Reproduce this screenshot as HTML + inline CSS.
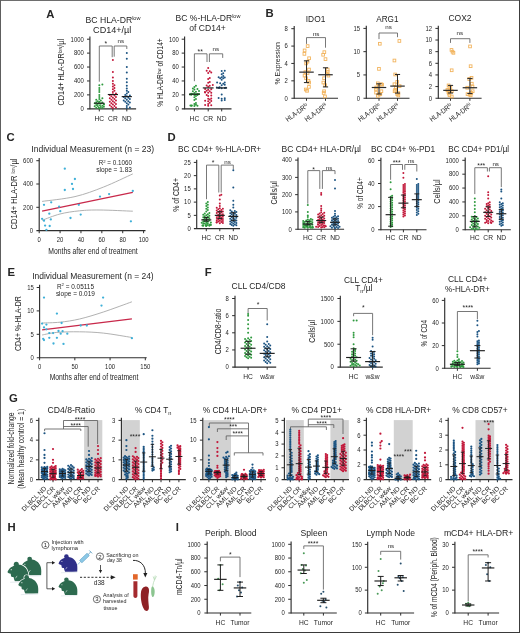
<!DOCTYPE html>
<html><head><meta charset="utf-8"><style>
html,body{margin:0;padding:0;background:#fff;width:520px;height:633px;overflow:hidden}
svg{display:block;will-change:transform}
text{font-family:"Liberation Sans", sans-serif;fill:#262626}
text.b{stroke-width:0.3px;fill:#111;stroke:#111}
</style></head><body>
<svg width="520" height="633" viewBox="0 0 520 633">
<rect x="0.00" y="0.00" width="520.00" height="1.00" fill="#6e6e6e"/>
<rect x="0.00" y="0.00" width="1.00" height="633.00" fill="#5e5e5e"/>
<rect x="519.00" y="0.00" width="1.00" height="633.00" fill="#3c3c3c"/>
<rect x="0.00" y="632.00" width="520.00" height="1.00" fill="#3a3a3a"/>
<text x="46.20" y="17.90" font-size="11.3" font-weight="bold" fill="#111">A</text>
<text x="265.60" y="16.80" font-size="11.3" font-weight="bold" fill="#111">B</text>
<text x="6.50" y="141.40" font-size="11.3" font-weight="bold" fill="#111">C</text>
<text x="167.40" y="140.90" font-size="11.3" font-weight="bold" fill="#111">D</text>
<text x="7.40" y="276.10" font-size="11.3" font-weight="bold" fill="#111">E</text>
<text x="204.80" y="276.10" font-size="11.3" font-weight="bold" fill="#111">F</text>
<text x="9.10" y="401.90" font-size="11.3" font-weight="bold" fill="#111">G</text>
<text x="7.40" y="531.20" font-size="11.3" font-weight="bold" fill="#111">H</text>
<text x="175.80" y="531.20" font-size="11.3" font-weight="bold" fill="#111">I</text>
<text x="85.50" y="22.70" font-size="8.7" textLength="55.0" lengthAdjust="spacingAndGlyphs">BC HLA-DR<tspan dy="-3" font-size="5.6">low</tspan></text>
<text x="93.10" y="32.50" font-size="8.7" textLength="38.2" lengthAdjust="spacingAndGlyphs">CD14+/µl</text>
<text x="99.30" y="120.60" font-size="6.7" text-anchor="middle">HC</text>
<text x="112.90" y="120.60" font-size="6.7" text-anchor="middle">CR</text>
<text x="126.80" y="120.60" font-size="6.7" text-anchor="middle">ND</text>
<text x="64.00" y="72.20" font-size="8.4" text-anchor="middle" transform="rotate(-90 64.00 72.20)" textLength="66.5" lengthAdjust="spacingAndGlyphs">CD14+ HLA-DR<tspan dy="-2.4" font-size="5.0">low</tspan><tspan dy="2.4">/µl</tspan></text>
<polyline points="99.30,81.70 99.30,46.00 112.20,46.00 112.20,57.20" fill="none" stroke="#606060" stroke-width="0.85"/>
<polyline points="114.20,56.70 114.20,46.00 126.80,46.00 126.80,49.00" fill="none" stroke="#606060" stroke-width="0.85"/>
<text x="105.90" y="45.50" font-size="6.8" text-anchor="middle">*</text>
<text x="120.80" y="42.90" font-size="6.2" text-anchor="middle">ns</text>
<line x1="89.90" y1="36.50" x2="89.90" y2="109.30" stroke="#2e2e2e" stroke-width="1.15"/>
<line x1="87.10" y1="108.80" x2="136.10" y2="108.80" stroke="#2e2e2e" stroke-width="1.15"/>
<text x="83.80" y="111.10" font-size="6.4" text-anchor="end" textLength="3.3" lengthAdjust="spacingAndGlyphs">0</text>
<line x1="87.00" y1="94.88" x2="89.90" y2="94.88" stroke="#2e2e2e" stroke-width="1.0"/>
<text x="83.80" y="97.18" font-size="6.4" text-anchor="end" textLength="9.9" lengthAdjust="spacingAndGlyphs">200</text>
<line x1="87.00" y1="80.96" x2="89.90" y2="80.96" stroke="#2e2e2e" stroke-width="1.0"/>
<text x="83.80" y="83.26" font-size="6.4" text-anchor="end" textLength="9.9" lengthAdjust="spacingAndGlyphs">400</text>
<line x1="87.00" y1="67.04" x2="89.90" y2="67.04" stroke="#2e2e2e" stroke-width="1.0"/>
<text x="83.80" y="69.34" font-size="6.4" text-anchor="end" textLength="9.9" lengthAdjust="spacingAndGlyphs">600</text>
<line x1="87.00" y1="53.12" x2="89.90" y2="53.12" stroke="#2e2e2e" stroke-width="1.0"/>
<text x="83.80" y="55.42" font-size="6.4" text-anchor="end" textLength="9.9" lengthAdjust="spacingAndGlyphs">800</text>
<line x1="87.00" y1="39.20" x2="89.90" y2="39.20" stroke="#2e2e2e" stroke-width="1.0"/>
<text x="83.80" y="41.50" font-size="6.4" text-anchor="end" textLength="13.2" lengthAdjust="spacingAndGlyphs">1000</text>
<line x1="99.30" y1="108.80" x2="99.30" y2="111.40" stroke="#2e2e2e" stroke-width="1.0"/>
<line x1="112.90" y1="108.80" x2="112.90" y2="111.40" stroke="#2e2e2e" stroke-width="1.0"/>
<line x1="126.80" y1="108.80" x2="126.80" y2="111.40" stroke="#2e2e2e" stroke-width="1.0"/>
<circle cx="99.30" cy="108.45" r="1.0" fill="#2e9a3e"/>
<circle cx="102.36" cy="108.10" r="1.0" fill="#2e9a3e"/>
<circle cx="96.24" cy="107.76" r="1.0" fill="#2e9a3e"/>
<circle cx="98.78" cy="107.41" r="1.0" fill="#2e9a3e"/>
<circle cx="100.83" cy="107.06" r="1.0" fill="#2e9a3e"/>
<circle cx="103.89" cy="106.71" r="1.0" fill="#2e9a3e"/>
<circle cx="94.71" cy="106.36" r="1.0" fill="#2e9a3e"/>
<circle cx="97.77" cy="106.02" r="1.0" fill="#2e9a3e"/>
<circle cx="102.36" cy="105.67" r="1.0" fill="#2e9a3e"/>
<circle cx="99.96" cy="105.32" r="1.0" fill="#2e9a3e"/>
<circle cx="96.24" cy="104.97" r="1.0" fill="#2e9a3e"/>
<circle cx="103.89" cy="104.62" r="1.0" fill="#2e9a3e"/>
<circle cx="103.97" cy="104.28" r="1.0" fill="#2e9a3e"/>
<circle cx="97.77" cy="103.93" r="1.0" fill="#2e9a3e"/>
<circle cx="100.83" cy="103.58" r="1.0" fill="#2e9a3e"/>
<circle cx="94.71" cy="103.23" r="1.0" fill="#2e9a3e"/>
<circle cx="98.92" cy="102.88" r="1.0" fill="#2e9a3e"/>
<circle cx="102.36" cy="102.54" r="1.0" fill="#2e9a3e"/>
<circle cx="96.24" cy="102.19" r="1.0" fill="#2e9a3e"/>
<circle cx="99.39" cy="101.84" r="1.0" fill="#2e9a3e"/>
<circle cx="97.77" cy="101.14" r="1.0" fill="#2e9a3e"/>
<circle cx="100.83" cy="100.45" r="1.0" fill="#2e9a3e"/>
<circle cx="96.24" cy="99.75" r="1.0" fill="#2e9a3e"/>
<circle cx="99.30" cy="99.06" r="1.0" fill="#2e9a3e"/>
<circle cx="102.36" cy="98.36" r="1.0" fill="#2e9a3e"/>
<circle cx="99.30" cy="96.97" r="1.0" fill="#2e9a3e"/>
<circle cx="99.30" cy="94.88" r="1.0" fill="#2e9a3e"/>
<circle cx="99.30" cy="92.10" r="1.0" fill="#2e9a3e"/>
<circle cx="99.30" cy="90.01" r="1.0" fill="#2e9a3e"/>
<circle cx="99.30" cy="87.92" r="1.0" fill="#2e9a3e"/>
<circle cx="99.30" cy="85.14" r="1.0" fill="#2e9a3e"/>
<circle cx="102.36" cy="84.44" r="1.0" fill="#2e9a3e"/>
<circle cx="112.90" cy="108.10" r="1.0" fill="#c2183a"/>
<circle cx="115.96" cy="107.41" r="1.0" fill="#c2183a"/>
<circle cx="111.37" cy="106.71" r="1.0" fill="#c2183a"/>
<circle cx="114.43" cy="106.02" r="1.0" fill="#c2183a"/>
<circle cx="109.84" cy="105.32" r="1.0" fill="#c2183a"/>
<circle cx="112.90" cy="104.62" r="1.0" fill="#c2183a"/>
<circle cx="115.96" cy="103.93" r="1.0" fill="#c2183a"/>
<circle cx="111.37" cy="103.23" r="1.0" fill="#c2183a"/>
<circle cx="114.43" cy="102.54" r="1.0" fill="#c2183a"/>
<circle cx="109.84" cy="101.84" r="1.0" fill="#c2183a"/>
<circle cx="112.90" cy="101.14" r="1.0" fill="#c2183a"/>
<circle cx="115.96" cy="100.45" r="1.0" fill="#c2183a"/>
<circle cx="111.37" cy="99.75" r="1.0" fill="#c2183a"/>
<circle cx="114.43" cy="99.06" r="1.0" fill="#c2183a"/>
<circle cx="109.84" cy="98.36" r="1.0" fill="#c2183a"/>
<circle cx="112.90" cy="97.66" r="1.0" fill="#c2183a"/>
<circle cx="115.96" cy="96.97" r="1.0" fill="#c2183a"/>
<circle cx="111.37" cy="96.27" r="1.0" fill="#c2183a"/>
<circle cx="114.43" cy="95.58" r="1.0" fill="#c2183a"/>
<circle cx="109.84" cy="94.88" r="1.0" fill="#c2183a"/>
<circle cx="112.90" cy="94.18" r="1.0" fill="#c2183a"/>
<circle cx="115.96" cy="93.49" r="1.0" fill="#c2183a"/>
<circle cx="112.90" cy="92.10" r="1.0" fill="#c2183a"/>
<circle cx="114.43" cy="90.70" r="1.0" fill="#c2183a"/>
<circle cx="112.90" cy="89.31" r="1.0" fill="#c2183a"/>
<circle cx="114.43" cy="87.92" r="1.0" fill="#c2183a"/>
<circle cx="112.90" cy="86.53" r="1.0" fill="#c2183a"/>
<circle cx="114.43" cy="85.14" r="1.0" fill="#c2183a"/>
<circle cx="112.90" cy="83.74" r="1.0" fill="#c2183a"/>
<circle cx="112.90" cy="80.96" r="1.0" fill="#c2183a"/>
<circle cx="112.90" cy="77.48" r="1.0" fill="#c2183a"/>
<circle cx="112.90" cy="71.91" r="1.0" fill="#c2183a"/>
<circle cx="112.90" cy="60.08" r="1.0" fill="#c2183a"/>
<circle cx="126.80" cy="108.10" r="1.0" fill="#1c5482"/>
<circle cx="129.86" cy="107.41" r="1.0" fill="#1c5482"/>
<circle cx="126.80" cy="106.02" r="1.0" fill="#1c5482"/>
<circle cx="128.33" cy="104.62" r="1.0" fill="#1c5482"/>
<circle cx="126.80" cy="103.23" r="1.0" fill="#1c5482"/>
<circle cx="129.86" cy="102.54" r="1.0" fill="#1c5482"/>
<circle cx="125.27" cy="101.84" r="1.0" fill="#1c5482"/>
<circle cx="128.33" cy="101.14" r="1.0" fill="#1c5482"/>
<circle cx="123.74" cy="100.45" r="1.0" fill="#1c5482"/>
<circle cx="126.80" cy="99.75" r="1.0" fill="#1c5482"/>
<circle cx="129.86" cy="99.06" r="1.0" fill="#1c5482"/>
<circle cx="125.27" cy="98.36" r="1.0" fill="#1c5482"/>
<circle cx="128.33" cy="97.66" r="1.0" fill="#1c5482"/>
<circle cx="123.74" cy="96.97" r="1.0" fill="#1c5482"/>
<circle cx="126.80" cy="96.27" r="1.0" fill="#1c5482"/>
<circle cx="129.86" cy="95.58" r="1.0" fill="#1c5482"/>
<circle cx="125.27" cy="94.88" r="1.0" fill="#1c5482"/>
<circle cx="126.80" cy="93.49" r="1.0" fill="#1c5482"/>
<circle cx="128.33" cy="92.10" r="1.0" fill="#1c5482"/>
<circle cx="126.80" cy="90.70" r="1.0" fill="#1c5482"/>
<circle cx="126.80" cy="88.62" r="1.0" fill="#1c5482"/>
<circle cx="126.80" cy="85.83" r="1.0" fill="#1c5482"/>
<circle cx="126.80" cy="82.35" r="1.0" fill="#1c5482"/>
<circle cx="126.80" cy="78.87" r="1.0" fill="#1c5482"/>
<circle cx="126.80" cy="72.61" r="1.0" fill="#1c5482"/>
<circle cx="126.80" cy="67.04" r="1.0" fill="#1c5482"/>
<circle cx="126.80" cy="58.69" r="1.0" fill="#1c5482"/>
<circle cx="126.80" cy="53.12" r="1.0" fill="#1c5482"/>
<line x1="94.20" y1="103.23" x2="104.40" y2="103.23" stroke="#1a1a1a" stroke-width="1.15"/>
<line x1="107.80" y1="94.53" x2="118.00" y2="94.53" stroke="#1a1a1a" stroke-width="1.15"/>
<line x1="121.70" y1="96.62" x2="131.90" y2="96.62" stroke="#1a1a1a" stroke-width="1.15"/>
<text x="175.60" y="21.30" font-size="8.7" textLength="64.8" lengthAdjust="spacingAndGlyphs">BC %-HLA-DR<tspan dy="-3" font-size="5.6">low</tspan></text>
<text x="189.30" y="31.20" font-size="8.7" textLength="36.5" lengthAdjust="spacingAndGlyphs">of CD14+</text>
<text x="194.40" y="120.50" font-size="6.7" text-anchor="middle">HC</text>
<text x="208.20" y="120.50" font-size="6.7" text-anchor="middle">CR</text>
<text x="221.70" y="120.50" font-size="6.7" text-anchor="middle">ND</text>
<text x="163.00" y="72.50" font-size="8.4" text-anchor="middle" transform="rotate(-90 163.00 72.50)" textLength="68.5" lengthAdjust="spacingAndGlyphs">% HLA-DR<tspan dy="-2.4" font-size="5.0">low</tspan><tspan dy="2.4"> of CD14+</tspan></text>
<polyline points="194.40,81.20 194.40,53.80 207.00,53.80 207.00,62.00" fill="none" stroke="#606060" stroke-width="0.85"/>
<polyline points="209.40,62.00 209.40,53.80 222.70,53.80 222.70,57.90" fill="none" stroke="#606060" stroke-width="0.85"/>
<text x="200.20" y="53.90" font-size="6.8" text-anchor="middle">**</text>
<text x="215.80" y="51.00" font-size="6.2" text-anchor="middle">ns</text>
<line x1="184.60" y1="36.50" x2="184.60" y2="109.30" stroke="#2e2e2e" stroke-width="1.15"/>
<line x1="181.80" y1="108.80" x2="231.50" y2="108.80" stroke="#2e2e2e" stroke-width="1.15"/>
<text x="178.80" y="111.10" font-size="6.4" text-anchor="end" textLength="3.3" lengthAdjust="spacingAndGlyphs">0</text>
<line x1="181.70" y1="94.88" x2="184.60" y2="94.88" stroke="#2e2e2e" stroke-width="1.0"/>
<text x="178.80" y="97.18" font-size="6.4" text-anchor="end" textLength="6.6" lengthAdjust="spacingAndGlyphs">20</text>
<line x1="181.70" y1="80.96" x2="184.60" y2="80.96" stroke="#2e2e2e" stroke-width="1.0"/>
<text x="178.80" y="83.26" font-size="6.4" text-anchor="end" textLength="6.6" lengthAdjust="spacingAndGlyphs">40</text>
<line x1="181.70" y1="67.04" x2="184.60" y2="67.04" stroke="#2e2e2e" stroke-width="1.0"/>
<text x="178.80" y="69.34" font-size="6.4" text-anchor="end" textLength="6.6" lengthAdjust="spacingAndGlyphs">60</text>
<line x1="181.70" y1="53.12" x2="184.60" y2="53.12" stroke="#2e2e2e" stroke-width="1.0"/>
<text x="178.80" y="55.42" font-size="6.4" text-anchor="end" textLength="6.6" lengthAdjust="spacingAndGlyphs">80</text>
<line x1="181.70" y1="39.20" x2="184.60" y2="39.20" stroke="#2e2e2e" stroke-width="1.0"/>
<text x="178.80" y="41.50" font-size="6.4" text-anchor="end" textLength="9.9" lengthAdjust="spacingAndGlyphs">100</text>
<line x1="194.40" y1="108.80" x2="194.40" y2="111.40" stroke="#2e2e2e" stroke-width="1.0"/>
<line x1="208.20" y1="108.80" x2="208.20" y2="111.40" stroke="#2e2e2e" stroke-width="1.0"/>
<line x1="221.70" y1="108.80" x2="221.70" y2="111.40" stroke="#2e2e2e" stroke-width="1.0"/>
<circle cx="194.40" cy="105.99" r="1.0" fill="#2e9a3e"/>
<circle cx="197.46" cy="105.78" r="1.0" fill="#2e9a3e"/>
<circle cx="191.34" cy="105.76" r="1.0" fill="#2e9a3e"/>
<circle cx="191.86" cy="105.55" r="1.0" fill="#2e9a3e"/>
<circle cx="190.41" cy="105.47" r="1.0" fill="#2e9a3e"/>
<circle cx="195.93" cy="104.85" r="1.0" fill="#2e9a3e"/>
<circle cx="194.40" cy="104.04" r="1.0" fill="#2e9a3e"/>
<circle cx="195.93" cy="103.01" r="1.0" fill="#2e9a3e"/>
<circle cx="194.40" cy="100.05" r="1.0" fill="#2e9a3e"/>
<circle cx="195.93" cy="98.99" r="1.0" fill="#2e9a3e"/>
<circle cx="194.40" cy="97.20" r="1.0" fill="#2e9a3e"/>
<circle cx="195.93" cy="96.09" r="1.0" fill="#2e9a3e"/>
<circle cx="194.40" cy="95.03" r="1.0" fill="#2e9a3e"/>
<circle cx="197.46" cy="94.99" r="1.0" fill="#2e9a3e"/>
<circle cx="191.34" cy="94.85" r="1.0" fill="#2e9a3e"/>
<circle cx="190.00" cy="94.43" r="1.0" fill="#2e9a3e"/>
<circle cx="195.93" cy="94.18" r="1.0" fill="#2e9a3e"/>
<circle cx="192.87" cy="94.07" r="1.0" fill="#2e9a3e"/>
<circle cx="198.99" cy="94.01" r="1.0" fill="#2e9a3e"/>
<circle cx="197.37" cy="93.88" r="1.0" fill="#2e9a3e"/>
<circle cx="191.18" cy="93.77" r="1.0" fill="#2e9a3e"/>
<circle cx="194.40" cy="92.98" r="1.0" fill="#2e9a3e"/>
<circle cx="195.93" cy="91.67" r="1.0" fill="#2e9a3e"/>
<circle cx="192.87" cy="91.19" r="1.0" fill="#2e9a3e"/>
<circle cx="198.99" cy="90.95" r="1.0" fill="#2e9a3e"/>
<circle cx="194.40" cy="89.45" r="1.0" fill="#2e9a3e"/>
<circle cx="197.46" cy="89.08" r="1.0" fill="#2e9a3e"/>
<circle cx="192.87" cy="88.45" r="1.0" fill="#2e9a3e"/>
<circle cx="194.40" cy="86.98" r="1.0" fill="#2e9a3e"/>
<circle cx="195.93" cy="85.80" r="1.0" fill="#2e9a3e"/>
<circle cx="208.20" cy="105.82" r="1.0" fill="#c2183a"/>
<circle cx="211.26" cy="105.34" r="1.0" fill="#c2183a"/>
<circle cx="205.14" cy="105.11" r="1.0" fill="#c2183a"/>
<circle cx="208.20" cy="103.93" r="1.0" fill="#c2183a"/>
<circle cx="209.73" cy="102.83" r="1.0" fill="#c2183a"/>
<circle cx="208.20" cy="101.16" r="1.0" fill="#c2183a"/>
<circle cx="211.26" cy="100.96" r="1.0" fill="#c2183a"/>
<circle cx="205.14" cy="100.67" r="1.0" fill="#c2183a"/>
<circle cx="209.73" cy="99.57" r="1.0" fill="#c2183a"/>
<circle cx="208.20" cy="98.80" r="1.0" fill="#c2183a"/>
<circle cx="211.26" cy="98.47" r="1.0" fill="#c2183a"/>
<circle cx="208.20" cy="96.12" r="1.0" fill="#c2183a"/>
<circle cx="211.26" cy="95.53" r="1.0" fill="#c2183a"/>
<circle cx="206.67" cy="95.05" r="1.0" fill="#c2183a"/>
<circle cx="208.20" cy="92.80" r="1.0" fill="#c2183a"/>
<circle cx="211.26" cy="92.79" r="1.0" fill="#c2183a"/>
<circle cx="205.14" cy="92.59" r="1.0" fill="#c2183a"/>
<circle cx="204.96" cy="92.05" r="1.0" fill="#c2183a"/>
<circle cx="209.73" cy="91.35" r="1.0" fill="#c2183a"/>
<circle cx="206.67" cy="90.71" r="1.0" fill="#c2183a"/>
<circle cx="208.20" cy="89.80" r="1.0" fill="#c2183a"/>
<circle cx="211.26" cy="89.25" r="1.0" fill="#c2183a"/>
<circle cx="205.14" cy="89.01" r="1.0" fill="#c2183a"/>
<circle cx="208.20" cy="86.65" r="1.0" fill="#c2183a"/>
<circle cx="209.73" cy="85.66" r="1.0" fill="#c2183a"/>
<circle cx="206.67" cy="85.47" r="1.0" fill="#c2183a"/>
<circle cx="212.79" cy="84.91" r="1.0" fill="#c2183a"/>
<circle cx="208.20" cy="82.68" r="1.0" fill="#c2183a"/>
<circle cx="209.73" cy="81.89" r="1.0" fill="#c2183a"/>
<circle cx="208.20" cy="78.95" r="1.0" fill="#c2183a"/>
<circle cx="209.73" cy="77.89" r="1.0" fill="#c2183a"/>
<circle cx="208.20" cy="72.90" r="1.0" fill="#c2183a"/>
<circle cx="211.26" cy="72.41" r="1.0" fill="#c2183a"/>
<circle cx="209.73" cy="71.21" r="1.0" fill="#c2183a"/>
<circle cx="206.67" cy="70.71" r="1.0" fill="#c2183a"/>
<circle cx="208.20" cy="67.98" r="1.0" fill="#c2183a"/>
<circle cx="221.70" cy="100.58" r="1.0" fill="#1c5482"/>
<circle cx="224.76" cy="100.01" r="1.0" fill="#1c5482"/>
<circle cx="221.70" cy="98.70" r="1.0" fill="#1c5482"/>
<circle cx="224.76" cy="98.19" r="1.0" fill="#1c5482"/>
<circle cx="218.64" cy="98.03" r="1.0" fill="#1c5482"/>
<circle cx="221.70" cy="94.62" r="1.0" fill="#1c5482"/>
<circle cx="221.70" cy="88.37" r="1.0" fill="#1c5482"/>
<circle cx="224.76" cy="87.89" r="1.0" fill="#1c5482"/>
<circle cx="218.64" cy="87.86" r="1.0" fill="#1c5482"/>
<circle cx="225.90" cy="87.66" r="1.0" fill="#1c5482"/>
<circle cx="219.26" cy="87.63" r="1.0" fill="#1c5482"/>
<circle cx="216.81" cy="87.61" r="1.0" fill="#1c5482"/>
<circle cx="219.71" cy="87.20" r="1.0" fill="#1c5482"/>
<circle cx="221.70" cy="85.19" r="1.0" fill="#1c5482"/>
<circle cx="224.76" cy="84.72" r="1.0" fill="#1c5482"/>
<circle cx="223.23" cy="83.70" r="1.0" fill="#1c5482"/>
<circle cx="220.17" cy="83.31" r="1.0" fill="#1c5482"/>
<circle cx="224.76" cy="82.60" r="1.0" fill="#1c5482"/>
<circle cx="217.11" cy="82.58" r="1.0" fill="#1c5482"/>
<circle cx="221.70" cy="79.79" r="1.0" fill="#1c5482"/>
<circle cx="223.23" cy="78.35" r="1.0" fill="#1c5482"/>
<circle cx="220.17" cy="78.13" r="1.0" fill="#1c5482"/>
<circle cx="224.76" cy="77.51" r="1.0" fill="#1c5482"/>
<circle cx="221.70" cy="77.31" r="1.0" fill="#1c5482"/>
<circle cx="218.64" cy="77.30" r="1.0" fill="#1c5482"/>
<circle cx="223.23" cy="75.96" r="1.0" fill="#1c5482"/>
<circle cx="221.70" cy="74.20" r="1.0" fill="#1c5482"/>
<circle cx="223.23" cy="73.23" r="1.0" fill="#1c5482"/>
<circle cx="221.70" cy="71.07" r="1.0" fill="#1c5482"/>
<circle cx="224.76" cy="70.71" r="1.0" fill="#1c5482"/>
<line x1="189.00" y1="94.18" x2="199.80" y2="94.18" stroke="#1a1a1a" stroke-width="1.15"/>
<line x1="202.80" y1="87.92" x2="213.60" y2="87.92" stroke="#1a1a1a" stroke-width="1.15"/>
<line x1="216.30" y1="87.92" x2="227.10" y2="87.92" stroke="#1a1a1a" stroke-width="1.15"/>
<text x="305.80" y="21.70" font-size="8.7" textLength="19.5" lengthAdjust="spacingAndGlyphs">IDO1</text>
<polyline points="306.50,43.90 306.50,37.60 325.50,37.60 325.50,47.70" fill="none" stroke="#606060" stroke-width="0.85"/>
<text x="316.20" y="35.50" font-size="6.2" text-anchor="middle">ns</text>
<line x1="294.20" y1="26.00" x2="294.20" y2="98.70" stroke="#2e2e2e" stroke-width="1.15"/>
<line x1="291.40" y1="98.20" x2="338.00" y2="98.20" stroke="#2e2e2e" stroke-width="1.15"/>
<text x="287.80" y="100.50" font-size="6.4" text-anchor="end" textLength="3.3" lengthAdjust="spacingAndGlyphs">0</text>
<line x1="291.30" y1="80.83" x2="294.20" y2="80.83" stroke="#2e2e2e" stroke-width="1.0"/>
<text x="287.80" y="83.13" font-size="6.4" text-anchor="end" textLength="3.3" lengthAdjust="spacingAndGlyphs">2</text>
<line x1="291.30" y1="63.45" x2="294.20" y2="63.45" stroke="#2e2e2e" stroke-width="1.0"/>
<text x="287.80" y="65.75" font-size="6.4" text-anchor="end" textLength="3.3" lengthAdjust="spacingAndGlyphs">4</text>
<line x1="291.30" y1="46.08" x2="294.20" y2="46.08" stroke="#2e2e2e" stroke-width="1.0"/>
<text x="287.80" y="48.38" font-size="6.4" text-anchor="end" textLength="3.3" lengthAdjust="spacingAndGlyphs">6</text>
<line x1="291.30" y1="28.70" x2="294.20" y2="28.70" stroke="#2e2e2e" stroke-width="1.0"/>
<text x="287.80" y="31.00" font-size="6.4" text-anchor="end" textLength="3.3" lengthAdjust="spacingAndGlyphs">8</text>
<line x1="306.50" y1="98.20" x2="306.50" y2="100.80" stroke="#2e2e2e" stroke-width="1.0"/>
<line x1="325.50" y1="98.20" x2="325.50" y2="100.80" stroke="#2e2e2e" stroke-width="1.0"/>
<rect x="306.29" y="44.73" width="2.7" height="2.7" fill="none" stroke="#f2b45e" stroke-width="0.9"/>
<rect x="303.25" y="49.07" width="2.7" height="2.7" fill="none" stroke="#f2b45e" stroke-width="0.9"/>
<rect x="303.04" y="52.54" width="2.7" height="2.7" fill="none" stroke="#f2b45e" stroke-width="0.9"/>
<rect x="307.75" y="56.89" width="2.7" height="2.7" fill="none" stroke="#f2b45e" stroke-width="0.9"/>
<rect x="306.17" y="60.36" width="2.7" height="2.7" fill="none" stroke="#f2b45e" stroke-width="0.9"/>
<rect x="304.78" y="62.10" width="2.7" height="2.7" fill="none" stroke="#f2b45e" stroke-width="0.9"/>
<rect x="307.66" y="68.18" width="2.7" height="2.7" fill="none" stroke="#f2b45e" stroke-width="0.9"/>
<rect x="304.04" y="70.79" width="2.7" height="2.7" fill="none" stroke="#f2b45e" stroke-width="0.9"/>
<rect x="306.21" y="71.66" width="2.7" height="2.7" fill="none" stroke="#f2b45e" stroke-width="0.9"/>
<rect x="303.22" y="74.26" width="2.7" height="2.7" fill="none" stroke="#f2b45e" stroke-width="0.9"/>
<rect x="304.71" y="76.87" width="2.7" height="2.7" fill="none" stroke="#f2b45e" stroke-width="0.9"/>
<rect x="307.11" y="79.48" width="2.7" height="2.7" fill="none" stroke="#f2b45e" stroke-width="0.9"/>
<rect x="307.80" y="81.21" width="2.7" height="2.7" fill="none" stroke="#f2b45e" stroke-width="0.9"/>
<rect x="307.58" y="85.56" width="2.7" height="2.7" fill="none" stroke="#f2b45e" stroke-width="0.9"/>
<rect x="304.41" y="88.16" width="2.7" height="2.7" fill="none" stroke="#f2b45e" stroke-width="0.9"/>
<rect x="305.68" y="89.47" width="2.7" height="2.7" fill="none" stroke="#f2b45e" stroke-width="0.9"/>
<line x1="306.50" y1="82.56" x2="306.50" y2="60.84" stroke="#2a2a2a" stroke-width="1.05"/>
<line x1="303.90" y1="82.56" x2="309.10" y2="82.56" stroke="#2a2a2a" stroke-width="1.05"/>
<line x1="303.90" y1="60.84" x2="309.10" y2="60.84" stroke="#2a2a2a" stroke-width="1.05"/>
<line x1="299.25" y1="72.14" x2="313.75" y2="72.14" stroke="#2a2a2a" stroke-width="1.2"/>
<rect x="322.98" y="50.81" width="2.7" height="2.7" fill="none" stroke="#f2b45e" stroke-width="0.9"/>
<rect x="321.82" y="53.41" width="2.7" height="2.7" fill="none" stroke="#f2b45e" stroke-width="0.9"/>
<rect x="324.13" y="57.76" width="2.7" height="2.7" fill="none" stroke="#f2b45e" stroke-width="0.9"/>
<rect x="326.31" y="68.18" width="2.7" height="2.7" fill="none" stroke="#f2b45e" stroke-width="0.9"/>
<rect x="326.38" y="70.79" width="2.7" height="2.7" fill="none" stroke="#f2b45e" stroke-width="0.9"/>
<rect x="325.50" y="72.53" width="2.7" height="2.7" fill="none" stroke="#f2b45e" stroke-width="0.9"/>
<rect x="327.03" y="74.26" width="2.7" height="2.7" fill="none" stroke="#f2b45e" stroke-width="0.9"/>
<rect x="322.72" y="76.87" width="2.7" height="2.7" fill="none" stroke="#f2b45e" stroke-width="0.9"/>
<rect x="322.03" y="81.21" width="2.7" height="2.7" fill="none" stroke="#f2b45e" stroke-width="0.9"/>
<rect x="323.83" y="83.82" width="2.7" height="2.7" fill="none" stroke="#f2b45e" stroke-width="0.9"/>
<rect x="322.71" y="89.90" width="2.7" height="2.7" fill="none" stroke="#f2b45e" stroke-width="0.9"/>
<rect x="322.32" y="91.64" width="2.7" height="2.7" fill="none" stroke="#f2b45e" stroke-width="0.9"/>
<rect x="323.60" y="95.11" width="2.7" height="2.7" fill="none" stroke="#f2b45e" stroke-width="0.9"/>
<line x1="325.50" y1="86.91" x2="325.50" y2="67.79" stroke="#2a2a2a" stroke-width="1.05"/>
<line x1="322.90" y1="86.91" x2="328.10" y2="86.91" stroke="#2a2a2a" stroke-width="1.05"/>
<line x1="322.90" y1="67.79" x2="328.10" y2="67.79" stroke="#2a2a2a" stroke-width="1.05"/>
<line x1="318.25" y1="74.74" x2="332.75" y2="74.74" stroke="#2a2a2a" stroke-width="1.2"/>
<text x="308.80" y="106.80" font-size="7.2" text-anchor="end" transform="rotate(-36 308.80 106.80)" textLength="26" lengthAdjust="spacingAndGlyphs">HLA-DR<tspan dy="-2.5" font-size="5.0">lo</tspan></text>
<text x="327.80" y="106.80" font-size="7.2" text-anchor="end" transform="rotate(-36 327.80 106.80)" textLength="26" lengthAdjust="spacingAndGlyphs">HLA-DR<tspan dy="-2.5" font-size="5.0">hi</tspan></text>
<text x="376.30" y="21.70" font-size="8.7" textLength="22.2" lengthAdjust="spacingAndGlyphs">ARG1</text>
<polyline points="379.00,39.10 379.00,33.00 397.50,33.00 397.50,37.20" fill="none" stroke="#606060" stroke-width="0.85"/>
<text x="388.60" y="29.40" font-size="6.2" text-anchor="middle">ns</text>
<line x1="366.30" y1="25.70" x2="366.30" y2="98.70" stroke="#2e2e2e" stroke-width="1.15"/>
<line x1="363.50" y1="98.20" x2="409.50" y2="98.20" stroke="#2e2e2e" stroke-width="1.15"/>
<text x="360.10" y="100.50" font-size="6.4" text-anchor="end" textLength="3.3" lengthAdjust="spacingAndGlyphs">0</text>
<line x1="363.40" y1="74.93" x2="366.30" y2="74.93" stroke="#2e2e2e" stroke-width="1.0"/>
<text x="360.10" y="77.24" font-size="6.4" text-anchor="end" textLength="3.3" lengthAdjust="spacingAndGlyphs">5</text>
<line x1="363.40" y1="51.67" x2="366.30" y2="51.67" stroke="#2e2e2e" stroke-width="1.0"/>
<text x="360.10" y="53.97" font-size="6.4" text-anchor="end" textLength="6.6" lengthAdjust="spacingAndGlyphs">10</text>
<line x1="363.40" y1="28.40" x2="366.30" y2="28.40" stroke="#2e2e2e" stroke-width="1.0"/>
<text x="360.10" y="30.70" font-size="6.4" text-anchor="end" textLength="6.6" lengthAdjust="spacingAndGlyphs">15</text>
<line x1="379.00" y1="98.20" x2="379.00" y2="100.80" stroke="#2e2e2e" stroke-width="1.0"/>
<line x1="397.50" y1="98.20" x2="397.50" y2="100.80" stroke="#2e2e2e" stroke-width="1.0"/>
<rect x="378.45" y="42.41" width="2.7" height="2.7" fill="none" stroke="#f2b45e" stroke-width="0.9"/>
<rect x="377.61" y="67.53" width="2.7" height="2.7" fill="none" stroke="#f2b45e" stroke-width="0.9"/>
<rect x="376.47" y="81.96" width="2.7" height="2.7" fill="none" stroke="#f2b45e" stroke-width="0.9"/>
<rect x="379.82" y="82.89" width="2.7" height="2.7" fill="none" stroke="#f2b45e" stroke-width="0.9"/>
<rect x="380.74" y="83.36" width="2.7" height="2.7" fill="none" stroke="#f2b45e" stroke-width="0.9"/>
<rect x="377.35" y="85.22" width="2.7" height="2.7" fill="none" stroke="#f2b45e" stroke-width="0.9"/>
<rect x="374.93" y="86.15" width="2.7" height="2.7" fill="none" stroke="#f2b45e" stroke-width="0.9"/>
<rect x="374.65" y="88.01" width="2.7" height="2.7" fill="none" stroke="#f2b45e" stroke-width="0.9"/>
<rect x="380.04" y="89.87" width="2.7" height="2.7" fill="none" stroke="#f2b45e" stroke-width="0.9"/>
<rect x="374.72" y="91.27" width="2.7" height="2.7" fill="none" stroke="#f2b45e" stroke-width="0.9"/>
<rect x="378.99" y="92.66" width="2.7" height="2.7" fill="none" stroke="#f2b45e" stroke-width="0.9"/>
<rect x="378.10" y="93.13" width="2.7" height="2.7" fill="none" stroke="#f2b45e" stroke-width="0.9"/>
<rect x="376.43" y="94.52" width="2.7" height="2.7" fill="none" stroke="#f2b45e" stroke-width="0.9"/>
<line x1="379.00" y1="94.01" x2="379.00" y2="83.77" stroke="#2a2a2a" stroke-width="1.05"/>
<line x1="376.40" y1="94.01" x2="381.60" y2="94.01" stroke="#2a2a2a" stroke-width="1.05"/>
<line x1="376.40" y1="83.77" x2="381.60" y2="83.77" stroke="#2a2a2a" stroke-width="1.05"/>
<line x1="371.75" y1="87.50" x2="386.25" y2="87.50" stroke="#2a2a2a" stroke-width="1.2"/>
<rect x="398.02" y="39.61" width="2.7" height="2.7" fill="none" stroke="#f2b45e" stroke-width="0.9"/>
<rect x="393.07" y="59.16" width="2.7" height="2.7" fill="none" stroke="#f2b45e" stroke-width="0.9"/>
<rect x="393.82" y="73.12" width="2.7" height="2.7" fill="none" stroke="#f2b45e" stroke-width="0.9"/>
<rect x="395.86" y="80.56" width="2.7" height="2.7" fill="none" stroke="#f2b45e" stroke-width="0.9"/>
<rect x="393.11" y="82.89" width="2.7" height="2.7" fill="none" stroke="#f2b45e" stroke-width="0.9"/>
<rect x="398.26" y="84.75" width="2.7" height="2.7" fill="none" stroke="#f2b45e" stroke-width="0.9"/>
<rect x="394.47" y="86.61" width="2.7" height="2.7" fill="none" stroke="#f2b45e" stroke-width="0.9"/>
<rect x="393.85" y="88.47" width="2.7" height="2.7" fill="none" stroke="#f2b45e" stroke-width="0.9"/>
<rect x="393.25" y="89.87" width="2.7" height="2.7" fill="none" stroke="#f2b45e" stroke-width="0.9"/>
<rect x="396.98" y="91.73" width="2.7" height="2.7" fill="none" stroke="#f2b45e" stroke-width="0.9"/>
<rect x="395.81" y="92.66" width="2.7" height="2.7" fill="none" stroke="#f2b45e" stroke-width="0.9"/>
<rect x="396.98" y="94.06" width="2.7" height="2.7" fill="none" stroke="#f2b45e" stroke-width="0.9"/>
<line x1="397.50" y1="93.08" x2="397.50" y2="74.47" stroke="#2a2a2a" stroke-width="1.05"/>
<line x1="394.90" y1="93.08" x2="400.10" y2="93.08" stroke="#2a2a2a" stroke-width="1.05"/>
<line x1="394.90" y1="74.47" x2="400.10" y2="74.47" stroke="#2a2a2a" stroke-width="1.05"/>
<line x1="390.25" y1="86.10" x2="404.75" y2="86.10" stroke="#2a2a2a" stroke-width="1.2"/>
<text x="381.30" y="106.80" font-size="7.2" text-anchor="end" transform="rotate(-36 381.30 106.80)" textLength="26" lengthAdjust="spacingAndGlyphs">HLA-DR<tspan dy="-2.5" font-size="5.0">lo</tspan></text>
<text x="399.80" y="106.80" font-size="7.2" text-anchor="end" transform="rotate(-36 399.80 106.80)" textLength="26" lengthAdjust="spacingAndGlyphs">HLA-DR<tspan dy="-2.5" font-size="5.0">hi</tspan></text>
<text x="448.40" y="21.10" font-size="8.7" textLength="23.2" lengthAdjust="spacingAndGlyphs">COX2</text>
<polyline points="450.50,42.90 450.50,38.70 469.90,38.70 469.90,42.90" fill="none" stroke="#606060" stroke-width="0.85"/>
<text x="459.80" y="35.10" font-size="6.2" text-anchor="middle">ns</text>
<line x1="438.30" y1="25.70" x2="438.30" y2="98.70" stroke="#2e2e2e" stroke-width="1.15"/>
<line x1="435.50" y1="98.20" x2="481.60" y2="98.20" stroke="#2e2e2e" stroke-width="1.15"/>
<text x="432.10" y="100.50" font-size="6.4" text-anchor="end" textLength="3.3" lengthAdjust="spacingAndGlyphs">0</text>
<line x1="435.40" y1="86.57" x2="438.30" y2="86.57" stroke="#2e2e2e" stroke-width="1.0"/>
<text x="432.10" y="88.87" font-size="6.4" text-anchor="end" textLength="3.3" lengthAdjust="spacingAndGlyphs">2</text>
<line x1="435.40" y1="74.93" x2="438.30" y2="74.93" stroke="#2e2e2e" stroke-width="1.0"/>
<text x="432.10" y="77.24" font-size="6.4" text-anchor="end" textLength="3.3" lengthAdjust="spacingAndGlyphs">4</text>
<line x1="435.40" y1="63.30" x2="438.30" y2="63.30" stroke="#2e2e2e" stroke-width="1.0"/>
<text x="432.10" y="65.60" font-size="6.4" text-anchor="end" textLength="3.3" lengthAdjust="spacingAndGlyphs">6</text>
<line x1="435.40" y1="51.67" x2="438.30" y2="51.67" stroke="#2e2e2e" stroke-width="1.0"/>
<text x="432.10" y="53.97" font-size="6.4" text-anchor="end" textLength="3.3" lengthAdjust="spacingAndGlyphs">8</text>
<line x1="435.40" y1="40.03" x2="438.30" y2="40.03" stroke="#2e2e2e" stroke-width="1.0"/>
<text x="432.10" y="42.34" font-size="6.4" text-anchor="end" textLength="6.6" lengthAdjust="spacingAndGlyphs">10</text>
<line x1="435.40" y1="28.40" x2="438.30" y2="28.40" stroke="#2e2e2e" stroke-width="1.0"/>
<text x="432.10" y="30.70" font-size="6.4" text-anchor="end" textLength="6.6" lengthAdjust="spacingAndGlyphs">12</text>
<line x1="450.50" y1="98.20" x2="450.50" y2="100.80" stroke="#2e2e2e" stroke-width="1.0"/>
<line x1="469.90" y1="98.20" x2="469.90" y2="100.80" stroke="#2e2e2e" stroke-width="1.0"/>
<rect x="450.14" y="48.57" width="2.7" height="2.7" fill="none" stroke="#f2b45e" stroke-width="0.9"/>
<rect x="451.12" y="50.32" width="2.7" height="2.7" fill="none" stroke="#f2b45e" stroke-width="0.9"/>
<rect x="452.08" y="51.48" width="2.7" height="2.7" fill="none" stroke="#f2b45e" stroke-width="0.9"/>
<rect x="450.33" y="68.93" width="2.7" height="2.7" fill="none" stroke="#f2b45e" stroke-width="0.9"/>
<rect x="447.23" y="84.05" width="2.7" height="2.7" fill="none" stroke="#f2b45e" stroke-width="0.9"/>
<rect x="448.99" y="86.38" width="2.7" height="2.7" fill="none" stroke="#f2b45e" stroke-width="0.9"/>
<rect x="447.09" y="88.12" width="2.7" height="2.7" fill="none" stroke="#f2b45e" stroke-width="0.9"/>
<rect x="446.02" y="88.71" width="2.7" height="2.7" fill="none" stroke="#f2b45e" stroke-width="0.9"/>
<rect x="448.97" y="89.29" width="2.7" height="2.7" fill="none" stroke="#f2b45e" stroke-width="0.9"/>
<rect x="450.52" y="89.87" width="2.7" height="2.7" fill="none" stroke="#f2b45e" stroke-width="0.9"/>
<rect x="447.10" y="91.03" width="2.7" height="2.7" fill="none" stroke="#f2b45e" stroke-width="0.9"/>
<rect x="447.69" y="92.20" width="2.7" height="2.7" fill="none" stroke="#f2b45e" stroke-width="0.9"/>
<rect x="448.16" y="93.94" width="2.7" height="2.7" fill="none" stroke="#f2b45e" stroke-width="0.9"/>
<rect x="450.41" y="95.11" width="2.7" height="2.7" fill="none" stroke="#f2b45e" stroke-width="0.9"/>
<line x1="450.50" y1="92.97" x2="450.50" y2="85.40" stroke="#2a2a2a" stroke-width="1.05"/>
<line x1="447.90" y1="92.97" x2="453.10" y2="92.97" stroke="#2a2a2a" stroke-width="1.05"/>
<line x1="447.90" y1="85.40" x2="453.10" y2="85.40" stroke="#2a2a2a" stroke-width="1.05"/>
<line x1="443.25" y1="90.35" x2="457.75" y2="90.35" stroke="#2a2a2a" stroke-width="1.2"/>
<rect x="468.68" y="45.08" width="2.7" height="2.7" fill="none" stroke="#f2b45e" stroke-width="0.9"/>
<rect x="469.28" y="64.86" width="2.7" height="2.7" fill="none" stroke="#f2b45e" stroke-width="0.9"/>
<rect x="470.19" y="76.49" width="2.7" height="2.7" fill="none" stroke="#f2b45e" stroke-width="0.9"/>
<rect x="467.87" y="77.66" width="2.7" height="2.7" fill="none" stroke="#f2b45e" stroke-width="0.9"/>
<rect x="470.42" y="82.31" width="2.7" height="2.7" fill="none" stroke="#f2b45e" stroke-width="0.9"/>
<rect x="471.15" y="85.22" width="2.7" height="2.7" fill="none" stroke="#f2b45e" stroke-width="0.9"/>
<rect x="465.91" y="86.38" width="2.7" height="2.7" fill="none" stroke="#f2b45e" stroke-width="0.9"/>
<rect x="471.32" y="89.87" width="2.7" height="2.7" fill="none" stroke="#f2b45e" stroke-width="0.9"/>
<rect x="469.97" y="91.62" width="2.7" height="2.7" fill="none" stroke="#f2b45e" stroke-width="0.9"/>
<rect x="466.18" y="92.78" width="2.7" height="2.7" fill="none" stroke="#f2b45e" stroke-width="0.9"/>
<rect x="468.25" y="93.36" width="2.7" height="2.7" fill="none" stroke="#f2b45e" stroke-width="0.9"/>
<rect x="469.35" y="93.94" width="2.7" height="2.7" fill="none" stroke="#f2b45e" stroke-width="0.9"/>
<line x1="469.90" y1="93.55" x2="469.90" y2="78.42" stroke="#2a2a2a" stroke-width="1.05"/>
<line x1="467.30" y1="93.55" x2="472.50" y2="93.55" stroke="#2a2a2a" stroke-width="1.05"/>
<line x1="467.30" y1="78.42" x2="472.50" y2="78.42" stroke="#2a2a2a" stroke-width="1.05"/>
<line x1="462.65" y1="87.73" x2="477.15" y2="87.73" stroke="#2a2a2a" stroke-width="1.2"/>
<text x="452.80" y="106.80" font-size="7.2" text-anchor="end" transform="rotate(-36 452.80 106.80)" textLength="26" lengthAdjust="spacingAndGlyphs">HLA-DR<tspan dy="-2.5" font-size="5.0">lo</tspan></text>
<text x="472.20" y="106.80" font-size="7.2" text-anchor="end" transform="rotate(-36 472.20 106.80)" textLength="26" lengthAdjust="spacingAndGlyphs">HLA-DR<tspan dy="-2.5" font-size="5.0">hi</tspan></text>
<text x="279.60" y="63.30" font-size="7.8" text-anchor="middle" transform="rotate(-90 279.60 63.30)" textLength="42.6" lengthAdjust="spacingAndGlyphs">% Expression</text>
<line x1="39.20" y1="158.00" x2="39.20" y2="231.10" stroke="#2e2e2e" stroke-width="1.15"/>
<line x1="36.40" y1="230.60" x2="145.50" y2="230.60" stroke="#2e2e2e" stroke-width="1.15"/>
<text x="33.00" y="232.90" font-size="6.4" text-anchor="end" textLength="3.3" lengthAdjust="spacingAndGlyphs">0</text>
<line x1="36.30" y1="207.30" x2="39.20" y2="207.30" stroke="#2e2e2e" stroke-width="1.0"/>
<text x="33.00" y="209.60" font-size="6.4" text-anchor="end" textLength="9.9" lengthAdjust="spacingAndGlyphs">200</text>
<line x1="36.30" y1="184.00" x2="39.20" y2="184.00" stroke="#2e2e2e" stroke-width="1.0"/>
<text x="33.00" y="186.30" font-size="6.4" text-anchor="end" textLength="9.9" lengthAdjust="spacingAndGlyphs">400</text>
<line x1="36.30" y1="160.70" x2="39.20" y2="160.70" stroke="#2e2e2e" stroke-width="1.0"/>
<text x="33.00" y="163.00" font-size="6.4" text-anchor="end" textLength="9.9" lengthAdjust="spacingAndGlyphs">600</text>
<line x1="39.20" y1="230.60" x2="39.20" y2="233.20" stroke="#2e2e2e" stroke-width="1.0"/>
<line x1="60.08" y1="230.60" x2="60.08" y2="233.20" stroke="#2e2e2e" stroke-width="1.0"/>
<line x1="80.96" y1="230.60" x2="80.96" y2="233.20" stroke="#2e2e2e" stroke-width="1.0"/>
<line x1="101.84" y1="230.60" x2="101.84" y2="233.20" stroke="#2e2e2e" stroke-width="1.0"/>
<line x1="122.72" y1="230.60" x2="122.72" y2="233.20" stroke="#2e2e2e" stroke-width="1.0"/>
<line x1="143.60" y1="230.60" x2="143.60" y2="233.20" stroke="#2e2e2e" stroke-width="1.0"/>
<text x="39.20" y="242.00" font-size="6.7" text-anchor="middle" textLength="3.3" lengthAdjust="spacingAndGlyphs">0</text>
<text x="60.08" y="242.00" font-size="6.7" text-anchor="middle" textLength="6.6" lengthAdjust="spacingAndGlyphs">20</text>
<text x="80.96" y="242.00" font-size="6.7" text-anchor="middle" textLength="6.6" lengthAdjust="spacingAndGlyphs">40</text>
<text x="101.84" y="242.00" font-size="6.7" text-anchor="middle" textLength="6.6" lengthAdjust="spacingAndGlyphs">60</text>
<text x="122.72" y="242.00" font-size="6.7" text-anchor="middle" textLength="6.6" lengthAdjust="spacingAndGlyphs">80</text>
<text x="143.60" y="242.00" font-size="6.7" text-anchor="middle" textLength="9.899999999999999" lengthAdjust="spacingAndGlyphs">100</text>
<path d="M42.1,201.4 C47.58,200.60 64.78,198.98 75.00,196.60 C85.22,194.22 93.77,190.88 103.40,187.10 C113.03,183.32 127.90,176.10 132.80,173.90" fill="none" stroke="#a8a8a8" stroke-width="0.9"/>
<path d="M42.1,220.3 C45.08,219.25 53.75,215.58 60.00,214.00 C66.25,212.42 72.93,211.47 79.60,210.80 C86.27,210.13 91.13,209.93 100.00,210.00 C108.87,210.07 127.33,211.00 132.80,211.20" fill="none" stroke="#a8a8a8" stroke-width="0.9"/>
<path d="M42.1,211.2 L132.8,192.3" fill="none" stroke="#c8284a" stroke-width="1.3"/>
<circle cx="64.8" cy="168.7" r="1.15" fill="#3fb0d8"/>
<circle cx="64.8" cy="190" r="1.15" fill="#3fb0d8"/>
<circle cx="72" cy="183.9" r="1.15" fill="#3fb0d8"/>
<circle cx="73" cy="189" r="1.15" fill="#3fb0d8"/>
<circle cx="74.9" cy="179" r="1.15" fill="#3fb0d8"/>
<circle cx="44" cy="204.8" r="1.15" fill="#3fb0d8"/>
<circle cx="51.2" cy="202.3" r="1.15" fill="#3fb0d8"/>
<circle cx="59.1" cy="206.7" r="1.15" fill="#3fb0d8"/>
<circle cx="60.3" cy="211.2" r="1.15" fill="#3fb0d8"/>
<circle cx="49.3" cy="213.7" r="1.15" fill="#3fb0d8"/>
<circle cx="42.1" cy="218.8" r="1.15" fill="#3fb0d8"/>
<circle cx="44" cy="220.7" r="1.15" fill="#3fb0d8"/>
<circle cx="50.8" cy="219.4" r="1.15" fill="#3fb0d8"/>
<circle cx="45.1" cy="225.6" r="1.15" fill="#3fb0d8"/>
<circle cx="49.7" cy="226" r="1.15" fill="#3fb0d8"/>
<circle cx="46.4" cy="229.8" r="1.15" fill="#3fb0d8"/>
<circle cx="70.5" cy="218" r="1.15" fill="#3fb0d8"/>
<circle cx="80.7" cy="214.6" r="1.15" fill="#3fb0d8"/>
<circle cx="78.8" cy="204.8" r="1.15" fill="#3fb0d8"/>
<circle cx="100" cy="196.6" r="1.15" fill="#3fb0d8"/>
<circle cx="109.1" cy="194.1" r="1.15" fill="#3fb0d8"/>
<circle cx="132.8" cy="190.9" r="1.15" fill="#3fb0d8"/>
<circle cx="130.9" cy="221.3" r="1.15" fill="#3fb0d8"/>
<text x="31.30" y="152.20" font-size="8.7" textLength="122.9" lengthAdjust="spacingAndGlyphs">Individual Measurement (n = 23)</text>
<text x="98.70" y="165.30" font-size="6.5" textLength="33.2" lengthAdjust="spacingAndGlyphs">R<tspan dy="-2.5" font-size="4.4">2</tspan><tspan dy="2.5"> = 0.1060</tspan></text>
<text x="96.20" y="171.60" font-size="6.5" textLength="35.7" lengthAdjust="spacingAndGlyphs">slope = 1.83</text>
<text x="48.30" y="253.70" font-size="8.8" textLength="89.3" lengthAdjust="spacingAndGlyphs">Months after end of treatment</text>
<text x="17.00" y="194.00" font-size="8.4" text-anchor="middle" transform="rotate(-90 17.00 194.00)" textLength="71" lengthAdjust="spacingAndGlyphs">CD14+ HLA-DR <tspan dy="-2.4" font-size="5.0">low</tspan><tspan dy="2.4">/µl</tspan></text>
<line x1="39.60" y1="284.80" x2="39.60" y2="358.20" stroke="#2e2e2e" stroke-width="1.15"/>
<line x1="36.80" y1="357.70" x2="146.70" y2="357.70" stroke="#2e2e2e" stroke-width="1.15"/>
<text x="33.80" y="360.00" font-size="6.4" text-anchor="end" textLength="3.3" lengthAdjust="spacingAndGlyphs">0</text>
<line x1="36.70" y1="334.30" x2="39.60" y2="334.30" stroke="#2e2e2e" stroke-width="1.0"/>
<text x="33.80" y="336.60" font-size="6.4" text-anchor="end" textLength="3.3" lengthAdjust="spacingAndGlyphs">5</text>
<line x1="36.70" y1="310.90" x2="39.60" y2="310.90" stroke="#2e2e2e" stroke-width="1.0"/>
<text x="33.80" y="313.20" font-size="6.4" text-anchor="end" textLength="6.6" lengthAdjust="spacingAndGlyphs">10</text>
<line x1="36.70" y1="287.50" x2="39.60" y2="287.50" stroke="#2e2e2e" stroke-width="1.0"/>
<text x="33.80" y="289.80" font-size="6.4" text-anchor="end" textLength="6.6" lengthAdjust="spacingAndGlyphs">15</text>
<line x1="39.60" y1="357.70" x2="39.60" y2="360.30" stroke="#2e2e2e" stroke-width="1.0"/>
<line x1="74.84" y1="357.70" x2="74.84" y2="360.30" stroke="#2e2e2e" stroke-width="1.0"/>
<line x1="110.07" y1="357.70" x2="110.07" y2="360.30" stroke="#2e2e2e" stroke-width="1.0"/>
<line x1="145.31" y1="357.70" x2="145.31" y2="360.30" stroke="#2e2e2e" stroke-width="1.0"/>
<text x="39.60" y="368.90" font-size="6.7" text-anchor="middle" textLength="3.3" lengthAdjust="spacingAndGlyphs">0</text>
<text x="74.84" y="368.90" font-size="6.7" text-anchor="middle" textLength="6.6" lengthAdjust="spacingAndGlyphs">50</text>
<text x="110.07" y="368.90" font-size="6.7" text-anchor="middle" textLength="9.899999999999999" lengthAdjust="spacingAndGlyphs">100</text>
<text x="145.31" y="368.90" font-size="6.7" text-anchor="middle" textLength="9.899999999999999" lengthAdjust="spacingAndGlyphs">150</text>
<path d="M42.1,323 C45.08,322.87 53.75,322.87 60.00,322.20 C66.25,321.53 72.37,320.70 79.60,319.00 C86.83,317.30 94.68,314.87 103.40,312.00 C112.12,309.13 127.15,303.50 131.90,301.80" fill="none" stroke="#a8a8a8" stroke-width="0.9"/>
<path d="M42.1,335 C44.57,334.57 50.65,332.93 56.90,332.40 C63.15,331.87 71.85,331.68 79.60,331.80 C87.35,331.92 94.68,332.15 103.40,333.10 C112.12,334.05 127.15,336.77 131.90,337.50" fill="none" stroke="#a8a8a8" stroke-width="0.9"/>
<path d="M42.1,329.9 L131.9,318.9" fill="none" stroke="#c8284a" stroke-width="1.3"/>
<circle cx="44" cy="297.6" r="1.15" fill="#3fb0d8"/>
<circle cx="56.9" cy="313.6" r="1.15" fill="#3fb0d8"/>
<circle cx="42.1" cy="323.6" r="1.15" fill="#3fb0d8"/>
<circle cx="46.4" cy="324.6" r="1.15" fill="#3fb0d8"/>
<circle cx="44" cy="327.4" r="1.15" fill="#3fb0d8"/>
<circle cx="46.4" cy="329.3" r="1.15" fill="#3fb0d8"/>
<circle cx="49.3" cy="333.1" r="1.15" fill="#3fb0d8"/>
<circle cx="53.1" cy="333.1" r="1.15" fill="#3fb0d8"/>
<circle cx="61.6" cy="323" r="1.15" fill="#3fb0d8"/>
<circle cx="60.7" cy="333.7" r="1.15" fill="#3fb0d8"/>
<circle cx="62.6" cy="331.2" r="1.15" fill="#3fb0d8"/>
<circle cx="67.3" cy="333.7" r="1.15" fill="#3fb0d8"/>
<circle cx="43.2" cy="338.8" r="1.15" fill="#3fb0d8"/>
<circle cx="44" cy="340.1" r="1.15" fill="#3fb0d8"/>
<circle cx="49.3" cy="337.8" r="1.15" fill="#3fb0d8"/>
<circle cx="56.9" cy="337.8" r="1.15" fill="#3fb0d8"/>
<circle cx="53.5" cy="343.5" r="1.15" fill="#3fb0d8"/>
<circle cx="63.5" cy="343.9" r="1.15" fill="#3fb0d8"/>
<circle cx="80.7" cy="325.5" r="1.15" fill="#3fb0d8"/>
<circle cx="86.8" cy="325.5" r="1.15" fill="#3fb0d8"/>
<circle cx="103.1" cy="297.6" r="1.15" fill="#3fb0d8"/>
<circle cx="101.5" cy="305.6" r="1.15" fill="#3fb0d8"/>
<circle cx="131.9" cy="338.2" r="1.15" fill="#3fb0d8"/>
<circle cx="58.5" cy="331" r="1.15" fill="#3fb0d8"/>
<text x="32.20" y="279.20" font-size="8.7" textLength="121.5" lengthAdjust="spacingAndGlyphs">Individual Measurement (n = 24)</text>
<text x="56.90" y="288.50" font-size="6.5" textLength="37.1" lengthAdjust="spacingAndGlyphs">R<tspan dy="-2.5" font-size="4.4">2</tspan><tspan dy="2.5"> = 0.05115</tspan></text>
<text x="55.90" y="296.10" font-size="6.5" textLength="39.0" lengthAdjust="spacingAndGlyphs">slope = 0.019</text>
<text x="49.70" y="380.40" font-size="8.8" textLength="88.8" lengthAdjust="spacingAndGlyphs">Months after end of treatment</text>
<text x="21.00" y="323.60" font-size="8.4" text-anchor="middle" transform="rotate(-90 21.00 323.60)" textLength="55" lengthAdjust="spacingAndGlyphs">CD4+ %-HLA-DR</text>
<polyline points="206.50,199.20 206.50,165.10 218.80,165.10 218.80,192.50" fill="none" stroke="#606060" stroke-width="0.85"/>
<polyline points="221.20,192.50 221.20,165.10 233.30,165.10 233.30,169.40" fill="none" stroke="#606060" stroke-width="0.85"/>
<text x="213.10" y="164.90" font-size="6.8" text-anchor="middle">*</text>
<text x="227.50" y="164.40" font-size="6.2" text-anchor="middle">ns</text>
<line x1="196.70" y1="159.70" x2="196.70" y2="229.10" stroke="#2e2e2e" stroke-width="1.15"/>
<line x1="193.90" y1="228.60" x2="240.00" y2="228.60" stroke="#2e2e2e" stroke-width="1.15"/>
<text x="190.70" y="230.90" font-size="6.4" text-anchor="end" textLength="3.3" lengthAdjust="spacingAndGlyphs">0</text>
<line x1="193.80" y1="215.36" x2="196.70" y2="215.36" stroke="#2e2e2e" stroke-width="1.0"/>
<text x="190.70" y="217.66" font-size="6.4" text-anchor="end" textLength="3.3" lengthAdjust="spacingAndGlyphs">5</text>
<line x1="193.80" y1="202.12" x2="196.70" y2="202.12" stroke="#2e2e2e" stroke-width="1.0"/>
<text x="190.70" y="204.42" font-size="6.4" text-anchor="end" textLength="6.6" lengthAdjust="spacingAndGlyphs">10</text>
<line x1="193.80" y1="188.88" x2="196.70" y2="188.88" stroke="#2e2e2e" stroke-width="1.0"/>
<text x="190.70" y="191.18" font-size="6.4" text-anchor="end" textLength="6.6" lengthAdjust="spacingAndGlyphs">15</text>
<line x1="193.80" y1="175.64" x2="196.70" y2="175.64" stroke="#2e2e2e" stroke-width="1.0"/>
<text x="190.70" y="177.94" font-size="6.4" text-anchor="end" textLength="6.6" lengthAdjust="spacingAndGlyphs">20</text>
<line x1="193.80" y1="162.40" x2="196.70" y2="162.40" stroke="#2e2e2e" stroke-width="1.0"/>
<text x="190.70" y="164.70" font-size="6.4" text-anchor="end" textLength="6.6" lengthAdjust="spacingAndGlyphs">25</text>
<line x1="206.30" y1="228.60" x2="206.30" y2="231.20" stroke="#2e2e2e" stroke-width="1.0"/>
<line x1="219.80" y1="228.60" x2="219.80" y2="231.20" stroke="#2e2e2e" stroke-width="1.0"/>
<line x1="233.30" y1="228.60" x2="233.30" y2="231.20" stroke="#2e2e2e" stroke-width="1.0"/>
<circle cx="206.30" cy="225.94" r="1.0" fill="#2e9a3e"/>
<circle cx="209.36" cy="225.87" r="1.0" fill="#2e9a3e"/>
<circle cx="203.24" cy="225.77" r="1.0" fill="#2e9a3e"/>
<circle cx="206.02" cy="225.63" r="1.0" fill="#2e9a3e"/>
<circle cx="202.42" cy="225.48" r="1.0" fill="#2e9a3e"/>
<circle cx="205.61" cy="225.30" r="1.0" fill="#2e9a3e"/>
<circle cx="207.83" cy="225.10" r="1.0" fill="#2e9a3e"/>
<circle cx="210.89" cy="224.88" r="1.0" fill="#2e9a3e"/>
<circle cx="209.58" cy="224.64" r="1.0" fill="#2e9a3e"/>
<circle cx="210.47" cy="224.38" r="1.0" fill="#2e9a3e"/>
<circle cx="206.06" cy="224.11" r="1.0" fill="#2e9a3e"/>
<circle cx="203.24" cy="223.82" r="1.0" fill="#2e9a3e"/>
<circle cx="204.40" cy="223.51" r="1.0" fill="#2e9a3e"/>
<circle cx="207.83" cy="223.20" r="1.0" fill="#2e9a3e"/>
<circle cx="201.71" cy="222.86" r="1.0" fill="#2e9a3e"/>
<circle cx="210.89" cy="222.51" r="1.0" fill="#2e9a3e"/>
<circle cx="206.30" cy="222.15" r="1.0" fill="#2e9a3e"/>
<circle cx="203.24" cy="221.78" r="1.0" fill="#2e9a3e"/>
<circle cx="207.83" cy="221.39" r="1.0" fill="#2e9a3e"/>
<circle cx="204.77" cy="220.99" r="1.0" fill="#2e9a3e"/>
<circle cx="209.36" cy="220.57" r="1.0" fill="#2e9a3e"/>
<circle cx="206.30" cy="220.15" r="1.0" fill="#2e9a3e"/>
<circle cx="203.24" cy="219.71" r="1.0" fill="#2e9a3e"/>
<circle cx="207.83" cy="219.26" r="1.0" fill="#2e9a3e"/>
<circle cx="204.77" cy="218.80" r="1.0" fill="#2e9a3e"/>
<circle cx="209.36" cy="218.33" r="1.0" fill="#2e9a3e"/>
<circle cx="206.30" cy="217.84" r="1.0" fill="#2e9a3e"/>
<circle cx="203.24" cy="217.35" r="1.0" fill="#2e9a3e"/>
<circle cx="207.83" cy="216.84" r="1.0" fill="#2e9a3e"/>
<circle cx="204.77" cy="216.32" r="1.0" fill="#2e9a3e"/>
<circle cx="209.36" cy="215.80" r="1.0" fill="#2e9a3e"/>
<circle cx="206.30" cy="215.26" r="1.0" fill="#2e9a3e"/>
<circle cx="203.24" cy="214.71" r="1.0" fill="#2e9a3e"/>
<circle cx="207.83" cy="214.15" r="1.0" fill="#2e9a3e"/>
<circle cx="204.77" cy="213.58" r="1.0" fill="#2e9a3e"/>
<circle cx="209.36" cy="213.00" r="1.0" fill="#2e9a3e"/>
<circle cx="206.30" cy="211.39" r="1.0" fill="#2e9a3e"/>
<circle cx="207.83" cy="210.06" r="1.0" fill="#2e9a3e"/>
<circle cx="206.30" cy="208.74" r="1.0" fill="#2e9a3e"/>
<circle cx="207.83" cy="207.42" r="1.0" fill="#2e9a3e"/>
<circle cx="206.30" cy="206.09" r="1.0" fill="#2e9a3e"/>
<circle cx="207.83" cy="204.77" r="1.0" fill="#2e9a3e"/>
<circle cx="206.30" cy="203.44" r="1.0" fill="#2e9a3e"/>
<circle cx="207.83" cy="202.12" r="1.0" fill="#2e9a3e"/>
<line x1="206.30" y1="221.19" x2="206.30" y2="217.48" stroke="#1e1e1e" stroke-width="0.95"/>
<line x1="203.80" y1="221.19" x2="208.80" y2="221.19" stroke="#1e1e1e" stroke-width="0.95"/>
<line x1="203.80" y1="217.48" x2="208.80" y2="217.48" stroke="#1e1e1e" stroke-width="0.95"/>
<line x1="201.30" y1="219.86" x2="211.30" y2="219.86" stroke="#1e1e1e" stroke-width="1.15"/>
<circle cx="219.80" cy="223.20" r="1.0" fill="#c2183a"/>
<circle cx="222.86" cy="222.93" r="1.0" fill="#c2183a"/>
<circle cx="216.74" cy="222.61" r="1.0" fill="#c2183a"/>
<circle cx="216.59" cy="222.27" r="1.0" fill="#c2183a"/>
<circle cx="221.33" cy="221.90" r="1.0" fill="#c2183a"/>
<circle cx="218.27" cy="221.52" r="1.0" fill="#c2183a"/>
<circle cx="222.86" cy="221.12" r="1.0" fill="#c2183a"/>
<circle cx="219.80" cy="220.71" r="1.0" fill="#c2183a"/>
<circle cx="216.74" cy="220.29" r="1.0" fill="#c2183a"/>
<circle cx="221.33" cy="219.86" r="1.0" fill="#c2183a"/>
<circle cx="218.27" cy="219.42" r="1.0" fill="#c2183a"/>
<circle cx="222.86" cy="218.98" r="1.0" fill="#c2183a"/>
<circle cx="219.80" cy="218.52" r="1.0" fill="#c2183a"/>
<circle cx="216.74" cy="218.06" r="1.0" fill="#c2183a"/>
<circle cx="221.33" cy="217.59" r="1.0" fill="#c2183a"/>
<circle cx="218.27" cy="217.11" r="1.0" fill="#c2183a"/>
<circle cx="222.86" cy="216.63" r="1.0" fill="#c2183a"/>
<circle cx="219.80" cy="216.14" r="1.0" fill="#c2183a"/>
<circle cx="216.74" cy="215.65" r="1.0" fill="#c2183a"/>
<circle cx="221.33" cy="215.15" r="1.0" fill="#c2183a"/>
<circle cx="218.27" cy="214.65" r="1.0" fill="#c2183a"/>
<circle cx="222.86" cy="214.14" r="1.0" fill="#c2183a"/>
<circle cx="219.80" cy="213.62" r="1.0" fill="#c2183a"/>
<circle cx="216.74" cy="213.10" r="1.0" fill="#c2183a"/>
<circle cx="221.33" cy="212.58" r="1.0" fill="#c2183a"/>
<circle cx="218.27" cy="212.05" r="1.0" fill="#c2183a"/>
<circle cx="222.86" cy="211.52" r="1.0" fill="#c2183a"/>
<circle cx="219.80" cy="210.99" r="1.0" fill="#c2183a"/>
<circle cx="216.74" cy="210.45" r="1.0" fill="#c2183a"/>
<circle cx="221.33" cy="209.90" r="1.0" fill="#c2183a"/>
<circle cx="218.27" cy="209.36" r="1.0" fill="#c2183a"/>
<circle cx="222.86" cy="208.81" r="1.0" fill="#c2183a"/>
<circle cx="219.80" cy="208.25" r="1.0" fill="#c2183a"/>
<circle cx="216.74" cy="207.70" r="1.0" fill="#c2183a"/>
<circle cx="219.80" cy="206.09" r="1.0" fill="#c2183a"/>
<circle cx="219.80" cy="203.44" r="1.0" fill="#c2183a"/>
<circle cx="219.80" cy="199.47" r="1.0" fill="#c2183a"/>
<circle cx="219.80" cy="195.50" r="1.0" fill="#c2183a"/>
<circle cx="221.33" cy="194.71" r="1.0" fill="#c2183a"/>
<line x1="219.80" y1="218.54" x2="219.80" y2="211.65" stroke="#1e1e1e" stroke-width="0.95"/>
<line x1="217.30" y1="218.54" x2="222.30" y2="218.54" stroke="#1e1e1e" stroke-width="0.95"/>
<line x1="217.30" y1="211.65" x2="222.30" y2="211.65" stroke="#1e1e1e" stroke-width="0.95"/>
<line x1="214.80" y1="215.36" x2="224.80" y2="215.36" stroke="#1e1e1e" stroke-width="1.15"/>
<circle cx="233.30" cy="225.78" r="1.0" fill="#1c5482"/>
<circle cx="236.36" cy="225.36" r="1.0" fill="#1c5482"/>
<circle cx="231.77" cy="224.92" r="1.0" fill="#1c5482"/>
<circle cx="234.83" cy="224.46" r="1.0" fill="#1c5482"/>
<circle cx="230.24" cy="223.98" r="1.0" fill="#1c5482"/>
<circle cx="233.30" cy="223.49" r="1.0" fill="#1c5482"/>
<circle cx="236.36" cy="223.00" r="1.0" fill="#1c5482"/>
<circle cx="231.77" cy="222.49" r="1.0" fill="#1c5482"/>
<circle cx="234.83" cy="221.98" r="1.0" fill="#1c5482"/>
<circle cx="230.24" cy="221.47" r="1.0" fill="#1c5482"/>
<circle cx="233.30" cy="220.95" r="1.0" fill="#1c5482"/>
<circle cx="236.36" cy="220.42" r="1.0" fill="#1c5482"/>
<circle cx="231.77" cy="219.89" r="1.0" fill="#1c5482"/>
<circle cx="234.83" cy="219.35" r="1.0" fill="#1c5482"/>
<circle cx="230.24" cy="218.81" r="1.0" fill="#1c5482"/>
<circle cx="233.30" cy="218.27" r="1.0" fill="#1c5482"/>
<circle cx="236.36" cy="217.72" r="1.0" fill="#1c5482"/>
<circle cx="231.77" cy="217.17" r="1.0" fill="#1c5482"/>
<circle cx="234.83" cy="216.62" r="1.0" fill="#1c5482"/>
<circle cx="230.24" cy="216.06" r="1.0" fill="#1c5482"/>
<circle cx="233.30" cy="215.50" r="1.0" fill="#1c5482"/>
<circle cx="236.36" cy="214.94" r="1.0" fill="#1c5482"/>
<circle cx="231.77" cy="214.37" r="1.0" fill="#1c5482"/>
<circle cx="234.83" cy="213.81" r="1.0" fill="#1c5482"/>
<circle cx="230.24" cy="213.24" r="1.0" fill="#1c5482"/>
<circle cx="233.30" cy="212.66" r="1.0" fill="#1c5482"/>
<circle cx="236.36" cy="212.09" r="1.0" fill="#1c5482"/>
<circle cx="231.77" cy="211.51" r="1.0" fill="#1c5482"/>
<circle cx="234.83" cy="210.94" r="1.0" fill="#1c5482"/>
<circle cx="230.24" cy="210.36" r="1.0" fill="#1c5482"/>
<circle cx="233.30" cy="207.42" r="1.0" fill="#1c5482"/>
<circle cx="233.30" cy="204.77" r="1.0" fill="#1c5482"/>
<circle cx="233.30" cy="200.80" r="1.0" fill="#1c5482"/>
<circle cx="233.30" cy="187.56" r="1.0" fill="#1c5482"/>
<circle cx="233.30" cy="170.34" r="1.0" fill="#1c5482"/>
<line x1="233.30" y1="220.66" x2="233.30" y2="212.71" stroke="#1e1e1e" stroke-width="0.95"/>
<line x1="230.80" y1="220.66" x2="235.80" y2="220.66" stroke="#1e1e1e" stroke-width="0.95"/>
<line x1="230.80" y1="212.71" x2="235.80" y2="212.71" stroke="#1e1e1e" stroke-width="0.95"/>
<line x1="228.30" y1="216.42" x2="238.30" y2="216.42" stroke="#1e1e1e" stroke-width="1.15"/>
<text x="206.30" y="239.80" font-size="6.7" text-anchor="middle">HC</text>
<text x="219.80" y="239.80" font-size="6.7" text-anchor="middle">CR</text>
<text x="233.30" y="239.80" font-size="6.7" text-anchor="middle">ND</text>
<text x="178.00" y="151.50" font-size="8.7" textLength="83.2" lengthAdjust="spacingAndGlyphs">BC CD4+ %-HLA-DR+</text>
<text x="179.20" y="194.90" font-size="8.4" text-anchor="middle" transform="rotate(-90 179.20 194.90)" textLength="33.7" lengthAdjust="spacingAndGlyphs">% of CD4+</text>
<polyline points="307.80,203.70 307.80,170.60 319.80,170.60 319.80,188.90" fill="none" stroke="#606060" stroke-width="0.85"/>
<polyline points="322.40,188.90 322.40,170.60 335.00,170.60 335.00,174.10" fill="none" stroke="#606060" stroke-width="0.85"/>
<text x="313.70" y="171.70" font-size="6.8" text-anchor="middle">*</text>
<text x="329.00" y="169.70" font-size="6.2" text-anchor="middle">ns</text>
<line x1="298.00" y1="157.40" x2="298.00" y2="229.70" stroke="#2e2e2e" stroke-width="1.15"/>
<line x1="295.20" y1="229.20" x2="344.10" y2="229.20" stroke="#2e2e2e" stroke-width="1.15"/>
<text x="291.80" y="231.50" font-size="6.4" text-anchor="end" textLength="3.3" lengthAdjust="spacingAndGlyphs">0</text>
<line x1="295.10" y1="211.92" x2="298.00" y2="211.92" stroke="#2e2e2e" stroke-width="1.0"/>
<text x="291.80" y="214.23" font-size="6.4" text-anchor="end" textLength="9.9" lengthAdjust="spacingAndGlyphs">100</text>
<line x1="295.10" y1="194.65" x2="298.00" y2="194.65" stroke="#2e2e2e" stroke-width="1.0"/>
<text x="291.80" y="196.95" font-size="6.4" text-anchor="end" textLength="9.9" lengthAdjust="spacingAndGlyphs">200</text>
<line x1="295.10" y1="177.38" x2="298.00" y2="177.38" stroke="#2e2e2e" stroke-width="1.0"/>
<text x="291.80" y="179.68" font-size="6.4" text-anchor="end" textLength="9.9" lengthAdjust="spacingAndGlyphs">300</text>
<line x1="295.10" y1="160.10" x2="298.00" y2="160.10" stroke="#2e2e2e" stroke-width="1.0"/>
<text x="291.80" y="162.40" font-size="6.4" text-anchor="end" textLength="9.9" lengthAdjust="spacingAndGlyphs">400</text>
<line x1="307.80" y1="229.20" x2="307.80" y2="231.80" stroke="#2e2e2e" stroke-width="1.0"/>
<line x1="321.20" y1="229.20" x2="321.20" y2="231.80" stroke="#2e2e2e" stroke-width="1.0"/>
<line x1="335.00" y1="229.20" x2="335.00" y2="231.80" stroke="#2e2e2e" stroke-width="1.0"/>
<circle cx="307.80" cy="227.80" r="1.0" fill="#2e9a3e"/>
<circle cx="310.86" cy="227.73" r="1.0" fill="#2e9a3e"/>
<circle cx="304.74" cy="227.64" r="1.0" fill="#2e9a3e"/>
<circle cx="312.90" cy="227.52" r="1.0" fill="#2e9a3e"/>
<circle cx="312.24" cy="227.39" r="1.0" fill="#2e9a3e"/>
<circle cx="303.59" cy="227.23" r="1.0" fill="#2e9a3e"/>
<circle cx="303.24" cy="227.07" r="1.0" fill="#2e9a3e"/>
<circle cx="309.33" cy="226.89" r="1.0" fill="#2e9a3e"/>
<circle cx="306.27" cy="226.70" r="1.0" fill="#2e9a3e"/>
<circle cx="312.50" cy="226.49" r="1.0" fill="#2e9a3e"/>
<circle cx="307.41" cy="226.28" r="1.0" fill="#2e9a3e"/>
<circle cx="310.55" cy="226.05" r="1.0" fill="#2e9a3e"/>
<circle cx="304.74" cy="225.82" r="1.0" fill="#2e9a3e"/>
<circle cx="306.00" cy="225.57" r="1.0" fill="#2e9a3e"/>
<circle cx="307.46" cy="225.32" r="1.0" fill="#2e9a3e"/>
<circle cx="303.21" cy="225.05" r="1.0" fill="#2e9a3e"/>
<circle cx="309.33" cy="224.78" r="1.0" fill="#2e9a3e"/>
<circle cx="312.39" cy="224.50" r="1.0" fill="#2e9a3e"/>
<circle cx="307.96" cy="224.21" r="1.0" fill="#2e9a3e"/>
<circle cx="304.74" cy="223.92" r="1.0" fill="#2e9a3e"/>
<circle cx="310.86" cy="223.61" r="1.0" fill="#2e9a3e"/>
<circle cx="307.07" cy="223.30" r="1.0" fill="#2e9a3e"/>
<circle cx="303.21" cy="222.98" r="1.0" fill="#2e9a3e"/>
<circle cx="309.33" cy="222.66" r="1.0" fill="#2e9a3e"/>
<circle cx="312.39" cy="222.32" r="1.0" fill="#2e9a3e"/>
<circle cx="304.74" cy="221.98" r="1.0" fill="#2e9a3e"/>
<circle cx="307.80" cy="221.64" r="1.0" fill="#2e9a3e"/>
<circle cx="310.86" cy="221.28" r="1.0" fill="#2e9a3e"/>
<circle cx="303.21" cy="220.92" r="1.0" fill="#2e9a3e"/>
<circle cx="306.27" cy="220.56" r="1.0" fill="#2e9a3e"/>
<circle cx="309.33" cy="220.19" r="1.0" fill="#2e9a3e"/>
<circle cx="312.39" cy="219.81" r="1.0" fill="#2e9a3e"/>
<circle cx="307.80" cy="219.42" r="1.0" fill="#2e9a3e"/>
<circle cx="310.86" cy="219.03" r="1.0" fill="#2e9a3e"/>
<circle cx="307.80" cy="217.11" r="1.0" fill="#2e9a3e"/>
<circle cx="307.80" cy="215.38" r="1.0" fill="#2e9a3e"/>
<circle cx="307.80" cy="211.92" r="1.0" fill="#2e9a3e"/>
<circle cx="307.80" cy="205.01" r="1.0" fill="#2e9a3e"/>
<line x1="307.80" y1="224.88" x2="307.80" y2="221.43" stroke="#1e1e1e" stroke-width="0.95"/>
<line x1="305.30" y1="224.88" x2="310.30" y2="224.88" stroke="#1e1e1e" stroke-width="0.95"/>
<line x1="305.30" y1="221.43" x2="310.30" y2="221.43" stroke="#1e1e1e" stroke-width="0.95"/>
<line x1="302.80" y1="224.02" x2="312.80" y2="224.02" stroke="#1e1e1e" stroke-width="1.15"/>
<circle cx="321.20" cy="227.43" r="1.0" fill="#c2183a"/>
<circle cx="324.26" cy="227.29" r="1.0" fill="#c2183a"/>
<circle cx="318.14" cy="227.10" r="1.0" fill="#c2183a"/>
<circle cx="322.25" cy="226.88" r="1.0" fill="#c2183a"/>
<circle cx="316.14" cy="226.63" r="1.0" fill="#c2183a"/>
<circle cx="325.79" cy="226.35" r="1.0" fill="#c2183a"/>
<circle cx="319.67" cy="226.06" r="1.0" fill="#c2183a"/>
<circle cx="323.29" cy="225.74" r="1.0" fill="#c2183a"/>
<circle cx="324.78" cy="225.41" r="1.0" fill="#c2183a"/>
<circle cx="321.20" cy="225.06" r="1.0" fill="#c2183a"/>
<circle cx="318.14" cy="224.70" r="1.0" fill="#c2183a"/>
<circle cx="317.89" cy="224.33" r="1.0" fill="#c2183a"/>
<circle cx="322.73" cy="223.94" r="1.0" fill="#c2183a"/>
<circle cx="319.67" cy="223.53" r="1.0" fill="#c2183a"/>
<circle cx="324.26" cy="223.12" r="1.0" fill="#c2183a"/>
<circle cx="321.20" cy="222.69" r="1.0" fill="#c2183a"/>
<circle cx="318.14" cy="222.26" r="1.0" fill="#c2183a"/>
<circle cx="322.73" cy="221.81" r="1.0" fill="#c2183a"/>
<circle cx="319.67" cy="221.35" r="1.0" fill="#c2183a"/>
<circle cx="324.26" cy="220.88" r="1.0" fill="#c2183a"/>
<circle cx="321.20" cy="220.40" r="1.0" fill="#c2183a"/>
<circle cx="318.14" cy="219.92" r="1.0" fill="#c2183a"/>
<circle cx="322.73" cy="219.42" r="1.0" fill="#c2183a"/>
<circle cx="319.67" cy="218.92" r="1.0" fill="#c2183a"/>
<circle cx="324.26" cy="218.40" r="1.0" fill="#c2183a"/>
<circle cx="321.20" cy="217.88" r="1.0" fill="#c2183a"/>
<circle cx="318.14" cy="217.35" r="1.0" fill="#c2183a"/>
<circle cx="322.73" cy="216.81" r="1.0" fill="#c2183a"/>
<circle cx="319.67" cy="216.26" r="1.0" fill="#c2183a"/>
<circle cx="324.26" cy="215.71" r="1.0" fill="#c2183a"/>
<circle cx="321.20" cy="215.15" r="1.0" fill="#c2183a"/>
<circle cx="318.14" cy="214.58" r="1.0" fill="#c2183a"/>
<circle cx="322.73" cy="214.00" r="1.0" fill="#c2183a"/>
<circle cx="319.67" cy="213.42" r="1.0" fill="#c2183a"/>
<circle cx="324.26" cy="212.82" r="1.0" fill="#c2183a"/>
<circle cx="321.20" cy="212.23" r="1.0" fill="#c2183a"/>
<circle cx="321.20" cy="210.20" r="1.0" fill="#c2183a"/>
<circle cx="321.20" cy="208.47" r="1.0" fill="#c2183a"/>
<circle cx="321.20" cy="205.88" r="1.0" fill="#c2183a"/>
<circle cx="321.20" cy="194.65" r="1.0" fill="#c2183a"/>
<circle cx="321.20" cy="192.92" r="1.0" fill="#c2183a"/>
<line x1="321.20" y1="222.64" x2="321.20" y2="217.11" stroke="#1e1e1e" stroke-width="0.95"/>
<line x1="318.70" y1="222.64" x2="323.70" y2="222.64" stroke="#1e1e1e" stroke-width="0.95"/>
<line x1="318.70" y1="217.11" x2="323.70" y2="217.11" stroke="#1e1e1e" stroke-width="0.95"/>
<line x1="316.20" y1="220.56" x2="326.20" y2="220.56" stroke="#1e1e1e" stroke-width="1.15"/>
<circle cx="335.00" cy="228.24" r="1.0" fill="#1c5482"/>
<circle cx="338.06" cy="227.98" r="1.0" fill="#1c5482"/>
<circle cx="331.94" cy="227.68" r="1.0" fill="#1c5482"/>
<circle cx="334.52" cy="227.35" r="1.0" fill="#1c5482"/>
<circle cx="336.53" cy="227.01" r="1.0" fill="#1c5482"/>
<circle cx="339.59" cy="226.64" r="1.0" fill="#1c5482"/>
<circle cx="330.41" cy="226.27" r="1.0" fill="#1c5482"/>
<circle cx="333.47" cy="225.88" r="1.0" fill="#1c5482"/>
<circle cx="338.06" cy="225.48" r="1.0" fill="#1c5482"/>
<circle cx="335.00" cy="225.08" r="1.0" fill="#1c5482"/>
<circle cx="331.94" cy="224.66" r="1.0" fill="#1c5482"/>
<circle cx="336.53" cy="224.24" r="1.0" fill="#1c5482"/>
<circle cx="333.47" cy="223.80" r="1.0" fill="#1c5482"/>
<circle cx="338.06" cy="223.37" r="1.0" fill="#1c5482"/>
<circle cx="335.00" cy="222.92" r="1.0" fill="#1c5482"/>
<circle cx="331.94" cy="222.47" r="1.0" fill="#1c5482"/>
<circle cx="336.53" cy="222.01" r="1.0" fill="#1c5482"/>
<circle cx="333.47" cy="221.55" r="1.0" fill="#1c5482"/>
<circle cx="338.06" cy="221.08" r="1.0" fill="#1c5482"/>
<circle cx="335.00" cy="220.61" r="1.0" fill="#1c5482"/>
<circle cx="331.94" cy="220.13" r="1.0" fill="#1c5482"/>
<circle cx="336.53" cy="219.65" r="1.0" fill="#1c5482"/>
<circle cx="333.47" cy="219.16" r="1.0" fill="#1c5482"/>
<circle cx="338.06" cy="218.67" r="1.0" fill="#1c5482"/>
<circle cx="335.00" cy="218.18" r="1.0" fill="#1c5482"/>
<circle cx="331.94" cy="217.68" r="1.0" fill="#1c5482"/>
<circle cx="336.53" cy="217.17" r="1.0" fill="#1c5482"/>
<circle cx="333.47" cy="216.66" r="1.0" fill="#1c5482"/>
<circle cx="338.06" cy="216.15" r="1.0" fill="#1c5482"/>
<circle cx="335.00" cy="215.64" r="1.0" fill="#1c5482"/>
<circle cx="335.00" cy="213.65" r="1.0" fill="#1c5482"/>
<circle cx="335.00" cy="211.06" r="1.0" fill="#1c5482"/>
<circle cx="335.00" cy="188.60" r="1.0" fill="#1c5482"/>
<circle cx="335.00" cy="179.97" r="1.0" fill="#1c5482"/>
<line x1="335.00" y1="224.88" x2="335.00" y2="218.83" stroke="#1e1e1e" stroke-width="0.95"/>
<line x1="332.50" y1="224.88" x2="337.50" y2="224.88" stroke="#1e1e1e" stroke-width="0.95"/>
<line x1="332.50" y1="218.83" x2="337.50" y2="218.83" stroke="#1e1e1e" stroke-width="0.95"/>
<line x1="330.00" y1="222.29" x2="340.00" y2="222.29" stroke="#1e1e1e" stroke-width="1.15"/>
<text x="307.80" y="240.20" font-size="6.7" text-anchor="middle">HC</text>
<text x="321.20" y="240.20" font-size="6.7" text-anchor="middle">CR</text>
<text x="335.00" y="240.20" font-size="6.7" text-anchor="middle">ND</text>
<text x="281.50" y="151.50" font-size="8.7" textLength="79.5" lengthAdjust="spacingAndGlyphs">BC CD4+ HLA-DR/µl</text>
<text x="276.70" y="192.80" font-size="8.4" text-anchor="middle" transform="rotate(-90 276.70 192.80)" textLength="23.5" lengthAdjust="spacingAndGlyphs">Cells/µl</text>
<polyline points="390.60,179.80 390.60,164.50 402.50,164.50 402.50,169.80" fill="none" stroke="#606060" stroke-width="0.85"/>
<polyline points="404.80,169.80 404.80,164.50 416.80,164.50 416.80,171.50" fill="none" stroke="#606060" stroke-width="0.85"/>
<text x="396.60" y="165.10" font-size="6.8" text-anchor="middle">***</text>
<text x="411.20" y="162.70" font-size="6.2" text-anchor="middle">ns</text>
<line x1="380.90" y1="157.70" x2="380.90" y2="230.20" stroke="#2e2e2e" stroke-width="1.15"/>
<line x1="378.10" y1="229.70" x2="426.50" y2="229.70" stroke="#2e2e2e" stroke-width="1.15"/>
<text x="374.50" y="232.00" font-size="6.4" text-anchor="end" textLength="3.3" lengthAdjust="spacingAndGlyphs">0</text>
<line x1="378.00" y1="206.60" x2="380.90" y2="206.60" stroke="#2e2e2e" stroke-width="1.0"/>
<text x="374.50" y="208.90" font-size="6.4" text-anchor="end" textLength="6.6" lengthAdjust="spacingAndGlyphs">20</text>
<line x1="378.00" y1="183.50" x2="380.90" y2="183.50" stroke="#2e2e2e" stroke-width="1.0"/>
<text x="374.50" y="185.80" font-size="6.4" text-anchor="end" textLength="6.6" lengthAdjust="spacingAndGlyphs">40</text>
<line x1="378.00" y1="160.40" x2="380.90" y2="160.40" stroke="#2e2e2e" stroke-width="1.0"/>
<text x="374.50" y="162.70" font-size="6.4" text-anchor="end" textLength="6.6" lengthAdjust="spacingAndGlyphs">60</text>
<line x1="390.60" y1="229.70" x2="390.60" y2="232.30" stroke="#2e2e2e" stroke-width="1.0"/>
<line x1="403.40" y1="229.70" x2="403.40" y2="232.30" stroke="#2e2e2e" stroke-width="1.0"/>
<line x1="416.80" y1="229.70" x2="416.80" y2="232.30" stroke="#2e2e2e" stroke-width="1.0"/>
<circle cx="390.60" cy="227.03" r="1.0" fill="#2e9a3e"/>
<circle cx="392.13" cy="226.19" r="1.0" fill="#2e9a3e"/>
<circle cx="390.60" cy="225.29" r="1.0" fill="#2e9a3e"/>
<circle cx="392.13" cy="224.35" r="1.0" fill="#2e9a3e"/>
<circle cx="390.60" cy="223.38" r="1.0" fill="#2e9a3e"/>
<circle cx="392.13" cy="222.39" r="1.0" fill="#2e9a3e"/>
<circle cx="390.60" cy="221.38" r="1.0" fill="#2e9a3e"/>
<circle cx="392.13" cy="220.35" r="1.0" fill="#2e9a3e"/>
<circle cx="390.60" cy="219.31" r="1.0" fill="#2e9a3e"/>
<circle cx="392.13" cy="218.26" r="1.0" fill="#2e9a3e"/>
<circle cx="390.60" cy="217.20" r="1.0" fill="#2e9a3e"/>
<circle cx="392.13" cy="216.13" r="1.0" fill="#2e9a3e"/>
<circle cx="390.60" cy="215.04" r="1.0" fill="#2e9a3e"/>
<circle cx="392.13" cy="213.95" r="1.0" fill="#2e9a3e"/>
<circle cx="390.60" cy="212.86" r="1.0" fill="#2e9a3e"/>
<circle cx="392.13" cy="211.75" r="1.0" fill="#2e9a3e"/>
<circle cx="390.60" cy="210.64" r="1.0" fill="#2e9a3e"/>
<circle cx="392.13" cy="209.51" r="1.0" fill="#2e9a3e"/>
<circle cx="390.60" cy="208.39" r="1.0" fill="#2e9a3e"/>
<circle cx="392.13" cy="207.26" r="1.0" fill="#2e9a3e"/>
<circle cx="390.60" cy="206.12" r="1.0" fill="#2e9a3e"/>
<circle cx="392.13" cy="204.97" r="1.0" fill="#2e9a3e"/>
<circle cx="390.60" cy="203.82" r="1.0" fill="#2e9a3e"/>
<circle cx="392.13" cy="202.67" r="1.0" fill="#2e9a3e"/>
<circle cx="390.60" cy="201.51" r="1.0" fill="#2e9a3e"/>
<circle cx="392.13" cy="200.34" r="1.0" fill="#2e9a3e"/>
<circle cx="390.60" cy="199.18" r="1.0" fill="#2e9a3e"/>
<circle cx="392.13" cy="198.00" r="1.0" fill="#2e9a3e"/>
<circle cx="390.60" cy="196.82" r="1.0" fill="#2e9a3e"/>
<circle cx="392.13" cy="195.64" r="1.0" fill="#2e9a3e"/>
<circle cx="390.60" cy="189.28" r="1.0" fill="#2e9a3e"/>
<circle cx="390.60" cy="182.34" r="1.0" fill="#2e9a3e"/>
<line x1="390.60" y1="226.23" x2="390.60" y2="197.36" stroke="#1e1e1e" stroke-width="0.95"/>
<line x1="388.10" y1="226.23" x2="393.10" y2="226.23" stroke="#1e1e1e" stroke-width="0.95"/>
<line x1="388.10" y1="197.36" x2="393.10" y2="197.36" stroke="#1e1e1e" stroke-width="0.95"/>
<line x1="385.60" y1="214.69" x2="395.60" y2="214.69" stroke="#1e1e1e" stroke-width="1.15"/>
<circle cx="403.40" cy="216.50" r="1.0" fill="#c2183a"/>
<circle cx="404.93" cy="215.52" r="1.0" fill="#c2183a"/>
<circle cx="403.40" cy="214.53" r="1.0" fill="#c2183a"/>
<circle cx="404.93" cy="213.55" r="1.0" fill="#c2183a"/>
<circle cx="403.40" cy="212.56" r="1.0" fill="#c2183a"/>
<circle cx="404.93" cy="211.58" r="1.0" fill="#c2183a"/>
<circle cx="403.40" cy="210.59" r="1.0" fill="#c2183a"/>
<circle cx="404.93" cy="209.61" r="1.0" fill="#c2183a"/>
<circle cx="403.40" cy="208.62" r="1.0" fill="#c2183a"/>
<circle cx="404.93" cy="207.64" r="1.0" fill="#c2183a"/>
<circle cx="403.40" cy="206.65" r="1.0" fill="#c2183a"/>
<circle cx="404.93" cy="205.67" r="1.0" fill="#c2183a"/>
<circle cx="403.40" cy="204.68" r="1.0" fill="#c2183a"/>
<circle cx="404.93" cy="203.70" r="1.0" fill="#c2183a"/>
<circle cx="403.40" cy="202.71" r="1.0" fill="#c2183a"/>
<circle cx="404.93" cy="201.73" r="1.0" fill="#c2183a"/>
<circle cx="403.40" cy="200.74" r="1.0" fill="#c2183a"/>
<circle cx="404.93" cy="199.75" r="1.0" fill="#c2183a"/>
<circle cx="403.40" cy="198.77" r="1.0" fill="#c2183a"/>
<circle cx="404.93" cy="197.78" r="1.0" fill="#c2183a"/>
<circle cx="403.40" cy="196.80" r="1.0" fill="#c2183a"/>
<circle cx="404.93" cy="195.81" r="1.0" fill="#c2183a"/>
<circle cx="403.40" cy="194.83" r="1.0" fill="#c2183a"/>
<circle cx="404.93" cy="193.84" r="1.0" fill="#c2183a"/>
<circle cx="403.40" cy="192.86" r="1.0" fill="#c2183a"/>
<circle cx="404.93" cy="191.87" r="1.0" fill="#c2183a"/>
<circle cx="403.40" cy="190.89" r="1.0" fill="#c2183a"/>
<circle cx="404.93" cy="189.90" r="1.0" fill="#c2183a"/>
<circle cx="403.40" cy="188.92" r="1.0" fill="#c2183a"/>
<circle cx="404.93" cy="187.93" r="1.0" fill="#c2183a"/>
<circle cx="403.40" cy="186.95" r="1.0" fill="#c2183a"/>
<circle cx="404.93" cy="185.96" r="1.0" fill="#c2183a"/>
<circle cx="403.40" cy="184.98" r="1.0" fill="#c2183a"/>
<circle cx="404.93" cy="183.99" r="1.0" fill="#c2183a"/>
<circle cx="403.40" cy="177.72" r="1.0" fill="#c2183a"/>
<circle cx="403.40" cy="173.11" r="1.0" fill="#c2183a"/>
<line x1="403.40" y1="207.75" x2="403.40" y2="195.05" stroke="#1e1e1e" stroke-width="0.95"/>
<line x1="400.90" y1="207.75" x2="405.90" y2="207.75" stroke="#1e1e1e" stroke-width="0.95"/>
<line x1="400.90" y1="195.05" x2="405.90" y2="195.05" stroke="#1e1e1e" stroke-width="0.95"/>
<line x1="398.40" y1="203.13" x2="408.40" y2="203.13" stroke="#1e1e1e" stroke-width="1.15"/>
<circle cx="416.80" cy="215.03" r="1.0" fill="#1c5482"/>
<circle cx="418.33" cy="213.66" r="1.0" fill="#1c5482"/>
<circle cx="416.80" cy="212.38" r="1.0" fill="#1c5482"/>
<circle cx="418.33" cy="211.16" r="1.0" fill="#1c5482"/>
<circle cx="416.80" cy="209.98" r="1.0" fill="#1c5482"/>
<circle cx="418.33" cy="208.81" r="1.0" fill="#1c5482"/>
<circle cx="416.80" cy="207.68" r="1.0" fill="#1c5482"/>
<circle cx="418.33" cy="206.55" r="1.0" fill="#1c5482"/>
<circle cx="416.80" cy="205.45" r="1.0" fill="#1c5482"/>
<circle cx="418.33" cy="204.35" r="1.0" fill="#1c5482"/>
<circle cx="416.80" cy="203.27" r="1.0" fill="#1c5482"/>
<circle cx="418.33" cy="202.20" r="1.0" fill="#1c5482"/>
<circle cx="416.80" cy="201.13" r="1.0" fill="#1c5482"/>
<circle cx="418.33" cy="200.08" r="1.0" fill="#1c5482"/>
<circle cx="416.80" cy="199.03" r="1.0" fill="#1c5482"/>
<circle cx="418.33" cy="197.99" r="1.0" fill="#1c5482"/>
<circle cx="416.80" cy="196.96" r="1.0" fill="#1c5482"/>
<circle cx="418.33" cy="195.93" r="1.0" fill="#1c5482"/>
<circle cx="416.80" cy="194.91" r="1.0" fill="#1c5482"/>
<circle cx="418.33" cy="193.89" r="1.0" fill="#1c5482"/>
<circle cx="416.80" cy="192.88" r="1.0" fill="#1c5482"/>
<circle cx="418.33" cy="191.88" r="1.0" fill="#1c5482"/>
<circle cx="416.80" cy="190.88" r="1.0" fill="#1c5482"/>
<circle cx="418.33" cy="189.88" r="1.0" fill="#1c5482"/>
<circle cx="416.80" cy="188.89" r="1.0" fill="#1c5482"/>
<circle cx="418.33" cy="187.90" r="1.0" fill="#1c5482"/>
<circle cx="416.80" cy="186.92" r="1.0" fill="#1c5482"/>
<circle cx="418.33" cy="185.94" r="1.0" fill="#1c5482"/>
<circle cx="416.80" cy="184.96" r="1.0" fill="#1c5482"/>
<circle cx="418.33" cy="183.99" r="1.0" fill="#1c5482"/>
<circle cx="416.80" cy="178.88" r="1.0" fill="#1c5482"/>
<line x1="416.80" y1="206.60" x2="416.80" y2="193.89" stroke="#1e1e1e" stroke-width="0.95"/>
<line x1="414.30" y1="206.60" x2="419.30" y2="206.60" stroke="#1e1e1e" stroke-width="0.95"/>
<line x1="414.30" y1="193.89" x2="419.30" y2="193.89" stroke="#1e1e1e" stroke-width="0.95"/>
<line x1="411.80" y1="199.67" x2="421.80" y2="199.67" stroke="#1e1e1e" stroke-width="1.15"/>
<text x="390.60" y="240.20" font-size="6.7" text-anchor="middle">HC</text>
<text x="403.40" y="240.20" font-size="6.7" text-anchor="middle">CR</text>
<text x="416.80" y="240.20" font-size="6.7" text-anchor="middle">ND</text>
<text x="370.90" y="151.50" font-size="8.7" textLength="64.3" lengthAdjust="spacingAndGlyphs">BC CD4+ %-PD1</text>
<text x="363.00" y="193.00" font-size="8.4" text-anchor="middle" transform="rotate(-90 363.00 193.00)" textLength="31.3" lengthAdjust="spacingAndGlyphs">% of CD4+</text>
<polyline points="474.80,194.10 474.80,167.70 487.40,167.70 487.40,171.50" fill="none" stroke="#606060" stroke-width="0.85"/>
<polyline points="489.40,171.50 489.40,167.70 501.30,167.70 501.30,187.10" fill="none" stroke="#606060" stroke-width="0.85"/>
<text x="481.30" y="168.20" font-size="6.8" text-anchor="middle">***</text>
<text x="495.70" y="166.20" font-size="6.2" text-anchor="middle">ns</text>
<line x1="465.20" y1="157.60" x2="465.20" y2="230.20" stroke="#2e2e2e" stroke-width="1.15"/>
<line x1="462.40" y1="229.70" x2="510.80" y2="229.70" stroke="#2e2e2e" stroke-width="1.15"/>
<text x="458.80" y="232.00" font-size="6.4" text-anchor="end" textLength="3.3" lengthAdjust="spacingAndGlyphs">0</text>
<line x1="462.30" y1="215.82" x2="465.20" y2="215.82" stroke="#2e2e2e" stroke-width="1.0"/>
<text x="458.80" y="218.12" font-size="6.4" text-anchor="end" textLength="9.9" lengthAdjust="spacingAndGlyphs">200</text>
<line x1="462.30" y1="201.94" x2="465.20" y2="201.94" stroke="#2e2e2e" stroke-width="1.0"/>
<text x="458.80" y="204.24" font-size="6.4" text-anchor="end" textLength="9.9" lengthAdjust="spacingAndGlyphs">400</text>
<line x1="462.30" y1="188.06" x2="465.20" y2="188.06" stroke="#2e2e2e" stroke-width="1.0"/>
<text x="458.80" y="190.36" font-size="6.4" text-anchor="end" textLength="9.9" lengthAdjust="spacingAndGlyphs">600</text>
<line x1="462.30" y1="174.18" x2="465.20" y2="174.18" stroke="#2e2e2e" stroke-width="1.0"/>
<text x="458.80" y="176.48" font-size="6.4" text-anchor="end" textLength="9.9" lengthAdjust="spacingAndGlyphs">800</text>
<line x1="462.30" y1="160.30" x2="465.20" y2="160.30" stroke="#2e2e2e" stroke-width="1.0"/>
<text x="458.80" y="162.60" font-size="6.4" text-anchor="end" textLength="13.2" lengthAdjust="spacingAndGlyphs">1000</text>
<line x1="474.80" y1="229.70" x2="474.80" y2="232.30" stroke="#2e2e2e" stroke-width="1.0"/>
<line x1="488.20" y1="229.70" x2="488.20" y2="232.30" stroke="#2e2e2e" stroke-width="1.0"/>
<line x1="501.30" y1="229.70" x2="501.30" y2="232.30" stroke="#2e2e2e" stroke-width="1.0"/>
<circle cx="474.80" cy="229.59" r="1.0" fill="#2e9a3e"/>
<circle cx="477.86" cy="229.29" r="1.0" fill="#2e9a3e"/>
<circle cx="471.74" cy="228.94" r="1.0" fill="#2e9a3e"/>
<circle cx="475.94" cy="228.56" r="1.0" fill="#2e9a3e"/>
<circle cx="473.27" cy="228.15" r="1.0" fill="#2e9a3e"/>
<circle cx="479.39" cy="227.73" r="1.0" fill="#2e9a3e"/>
<circle cx="470.21" cy="227.29" r="1.0" fill="#2e9a3e"/>
<circle cx="474.80" cy="226.84" r="1.0" fill="#2e9a3e"/>
<circle cx="477.86" cy="226.38" r="1.0" fill="#2e9a3e"/>
<circle cx="473.27" cy="225.91" r="1.0" fill="#2e9a3e"/>
<circle cx="476.33" cy="225.42" r="1.0" fill="#2e9a3e"/>
<circle cx="471.74" cy="224.93" r="1.0" fill="#2e9a3e"/>
<circle cx="474.80" cy="224.43" r="1.0" fill="#2e9a3e"/>
<circle cx="477.86" cy="223.92" r="1.0" fill="#2e9a3e"/>
<circle cx="473.27" cy="223.40" r="1.0" fill="#2e9a3e"/>
<circle cx="476.33" cy="222.87" r="1.0" fill="#2e9a3e"/>
<circle cx="471.74" cy="222.34" r="1.0" fill="#2e9a3e"/>
<circle cx="474.80" cy="221.80" r="1.0" fill="#2e9a3e"/>
<circle cx="477.86" cy="221.26" r="1.0" fill="#2e9a3e"/>
<circle cx="473.27" cy="220.71" r="1.0" fill="#2e9a3e"/>
<circle cx="476.33" cy="220.15" r="1.0" fill="#2e9a3e"/>
<circle cx="471.74" cy="219.59" r="1.0" fill="#2e9a3e"/>
<circle cx="474.80" cy="219.02" r="1.0" fill="#2e9a3e"/>
<circle cx="477.86" cy="218.45" r="1.0" fill="#2e9a3e"/>
<circle cx="473.27" cy="217.88" r="1.0" fill="#2e9a3e"/>
<circle cx="476.33" cy="217.29" r="1.0" fill="#2e9a3e"/>
<circle cx="471.74" cy="216.71" r="1.0" fill="#2e9a3e"/>
<circle cx="474.80" cy="216.12" r="1.0" fill="#2e9a3e"/>
<circle cx="474.80" cy="212.35" r="1.0" fill="#2e9a3e"/>
<circle cx="474.80" cy="208.88" r="1.0" fill="#2e9a3e"/>
<circle cx="474.80" cy="205.41" r="1.0" fill="#2e9a3e"/>
<circle cx="474.80" cy="201.94" r="1.0" fill="#2e9a3e"/>
<circle cx="474.80" cy="198.47" r="1.0" fill="#2e9a3e"/>
<line x1="474.80" y1="226.92" x2="474.80" y2="216.51" stroke="#1e1e1e" stroke-width="0.95"/>
<line x1="472.30" y1="226.92" x2="477.30" y2="226.92" stroke="#1e1e1e" stroke-width="0.95"/>
<line x1="472.30" y1="216.51" x2="477.30" y2="216.51" stroke="#1e1e1e" stroke-width="0.95"/>
<line x1="469.80" y1="221.37" x2="479.80" y2="221.37" stroke="#1e1e1e" stroke-width="1.15"/>
<circle cx="488.20" cy="223.36" r="1.0" fill="#c2183a"/>
<circle cx="491.26" cy="223.08" r="1.0" fill="#c2183a"/>
<circle cx="485.14" cy="222.73" r="1.0" fill="#c2183a"/>
<circle cx="490.54" cy="222.33" r="1.0" fill="#c2183a"/>
<circle cx="486.67" cy="221.90" r="1.0" fill="#c2183a"/>
<circle cx="492.79" cy="221.44" r="1.0" fill="#c2183a"/>
<circle cx="488.20" cy="220.95" r="1.0" fill="#c2183a"/>
<circle cx="491.26" cy="220.44" r="1.0" fill="#c2183a"/>
<circle cx="486.67" cy="219.91" r="1.0" fill="#c2183a"/>
<circle cx="489.73" cy="219.35" r="1.0" fill="#c2183a"/>
<circle cx="485.14" cy="218.78" r="1.0" fill="#c2183a"/>
<circle cx="488.20" cy="218.20" r="1.0" fill="#c2183a"/>
<circle cx="491.26" cy="217.60" r="1.0" fill="#c2183a"/>
<circle cx="486.67" cy="216.98" r="1.0" fill="#c2183a"/>
<circle cx="489.73" cy="216.35" r="1.0" fill="#c2183a"/>
<circle cx="485.14" cy="215.71" r="1.0" fill="#c2183a"/>
<circle cx="488.20" cy="215.05" r="1.0" fill="#c2183a"/>
<circle cx="491.26" cy="214.38" r="1.0" fill="#c2183a"/>
<circle cx="486.67" cy="213.70" r="1.0" fill="#c2183a"/>
<circle cx="489.73" cy="213.01" r="1.0" fill="#c2183a"/>
<circle cx="485.14" cy="212.31" r="1.0" fill="#c2183a"/>
<circle cx="488.20" cy="211.60" r="1.0" fill="#c2183a"/>
<circle cx="491.26" cy="210.88" r="1.0" fill="#c2183a"/>
<circle cx="486.67" cy="210.14" r="1.0" fill="#c2183a"/>
<circle cx="489.73" cy="209.40" r="1.0" fill="#c2183a"/>
<circle cx="485.14" cy="208.65" r="1.0" fill="#c2183a"/>
<circle cx="488.20" cy="207.89" r="1.0" fill="#c2183a"/>
<circle cx="489.73" cy="207.13" r="1.0" fill="#c2183a"/>
<circle cx="486.67" cy="206.35" r="1.0" fill="#c2183a"/>
<circle cx="488.20" cy="205.57" r="1.0" fill="#c2183a"/>
<circle cx="489.73" cy="204.77" r="1.0" fill="#c2183a"/>
<circle cx="486.67" cy="203.97" r="1.0" fill="#c2183a"/>
<circle cx="488.20" cy="203.17" r="1.0" fill="#c2183a"/>
<circle cx="489.73" cy="202.35" r="1.0" fill="#c2183a"/>
<circle cx="488.20" cy="198.47" r="1.0" fill="#c2183a"/>
<circle cx="488.20" cy="195.00" r="1.0" fill="#c2183a"/>
<circle cx="488.20" cy="192.22" r="1.0" fill="#c2183a"/>
<circle cx="488.20" cy="176.26" r="1.0" fill="#c2183a"/>
<line x1="488.20" y1="216.51" x2="488.20" y2="206.80" stroke="#1e1e1e" stroke-width="0.95"/>
<line x1="485.70" y1="216.51" x2="490.70" y2="216.51" stroke="#1e1e1e" stroke-width="0.95"/>
<line x1="485.70" y1="206.80" x2="490.70" y2="206.80" stroke="#1e1e1e" stroke-width="0.95"/>
<line x1="483.20" y1="212.35" x2="493.20" y2="212.35" stroke="#1e1e1e" stroke-width="1.15"/>
<circle cx="501.30" cy="225.83" r="1.0" fill="#1c5482"/>
<circle cx="502.83" cy="225.02" r="1.0" fill="#1c5482"/>
<circle cx="499.77" cy="224.21" r="1.0" fill="#1c5482"/>
<circle cx="501.30" cy="223.40" r="1.0" fill="#1c5482"/>
<circle cx="502.83" cy="222.59" r="1.0" fill="#1c5482"/>
<circle cx="499.77" cy="221.78" r="1.0" fill="#1c5482"/>
<circle cx="501.30" cy="220.97" r="1.0" fill="#1c5482"/>
<circle cx="502.83" cy="220.16" r="1.0" fill="#1c5482"/>
<circle cx="499.77" cy="219.35" r="1.0" fill="#1c5482"/>
<circle cx="501.30" cy="218.54" r="1.0" fill="#1c5482"/>
<circle cx="502.83" cy="217.73" r="1.0" fill="#1c5482"/>
<circle cx="499.77" cy="216.92" r="1.0" fill="#1c5482"/>
<circle cx="501.30" cy="216.11" r="1.0" fill="#1c5482"/>
<circle cx="502.83" cy="215.30" r="1.0" fill="#1c5482"/>
<circle cx="499.77" cy="214.49" r="1.0" fill="#1c5482"/>
<circle cx="501.30" cy="213.68" r="1.0" fill="#1c5482"/>
<circle cx="502.83" cy="212.87" r="1.0" fill="#1c5482"/>
<circle cx="499.77" cy="212.06" r="1.0" fill="#1c5482"/>
<circle cx="501.30" cy="211.25" r="1.0" fill="#1c5482"/>
<circle cx="502.83" cy="210.44" r="1.0" fill="#1c5482"/>
<circle cx="499.77" cy="209.63" r="1.0" fill="#1c5482"/>
<circle cx="501.30" cy="208.82" r="1.0" fill="#1c5482"/>
<circle cx="502.83" cy="208.01" r="1.0" fill="#1c5482"/>
<circle cx="499.77" cy="207.20" r="1.0" fill="#1c5482"/>
<circle cx="501.30" cy="206.39" r="1.0" fill="#1c5482"/>
<circle cx="502.83" cy="205.58" r="1.0" fill="#1c5482"/>
<circle cx="499.77" cy="204.77" r="1.0" fill="#1c5482"/>
<circle cx="501.30" cy="203.96" r="1.0" fill="#1c5482"/>
<circle cx="502.83" cy="203.15" r="1.0" fill="#1c5482"/>
<circle cx="499.77" cy="202.34" r="1.0" fill="#1c5482"/>
<circle cx="501.30" cy="198.47" r="1.0" fill="#1c5482"/>
<circle cx="501.30" cy="191.53" r="1.0" fill="#1c5482"/>
<circle cx="501.30" cy="189.45" r="1.0" fill="#1c5482"/>
<line x1="501.30" y1="219.29" x2="501.30" y2="209.57" stroke="#1e1e1e" stroke-width="0.95"/>
<line x1="498.80" y1="219.29" x2="503.80" y2="219.29" stroke="#1e1e1e" stroke-width="0.95"/>
<line x1="498.80" y1="209.57" x2="503.80" y2="209.57" stroke="#1e1e1e" stroke-width="0.95"/>
<line x1="496.30" y1="213.74" x2="506.30" y2="213.74" stroke="#1e1e1e" stroke-width="1.15"/>
<text x="474.80" y="240.20" font-size="6.7" text-anchor="middle">HC</text>
<text x="488.20" y="240.20" font-size="6.7" text-anchor="middle">CR</text>
<text x="501.30" y="240.20" font-size="6.7" text-anchor="middle">ND</text>
<text x="448.30" y="152.40" font-size="8.7" textLength="60.8" lengthAdjust="spacingAndGlyphs">BC CD4+ PD1/µl</text>
<text x="439.80" y="191.50" font-size="8.4" text-anchor="middle" transform="rotate(-90 439.80 191.50)" textLength="24.4" lengthAdjust="spacingAndGlyphs">Cells/µl</text>
<polyline points="248.10,313.40 248.10,308.50 267.20,308.50 267.20,320.40" fill="none" stroke="#606060" stroke-width="0.85"/>
<text x="258.10" y="306.70" font-size="6.8" text-anchor="middle">*</text>
<line x1="235.00" y1="295.80" x2="235.00" y2="367.60" stroke="#2e2e2e" stroke-width="1.15"/>
<line x1="232.20" y1="367.10" x2="276.20" y2="367.10" stroke="#2e2e2e" stroke-width="1.15"/>
<text x="228.90" y="369.40" font-size="6.4" text-anchor="end" textLength="3.3" lengthAdjust="spacingAndGlyphs">0</text>
<line x1="232.10" y1="349.95" x2="235.00" y2="349.95" stroke="#2e2e2e" stroke-width="1.0"/>
<text x="228.90" y="352.25" font-size="6.4" text-anchor="end" textLength="3.3" lengthAdjust="spacingAndGlyphs">2</text>
<line x1="232.10" y1="332.80" x2="235.00" y2="332.80" stroke="#2e2e2e" stroke-width="1.0"/>
<text x="228.90" y="335.10" font-size="6.4" text-anchor="end" textLength="3.3" lengthAdjust="spacingAndGlyphs">4</text>
<line x1="232.10" y1="315.65" x2="235.00" y2="315.65" stroke="#2e2e2e" stroke-width="1.0"/>
<text x="228.90" y="317.95" font-size="6.4" text-anchor="end" textLength="3.3" lengthAdjust="spacingAndGlyphs">6</text>
<line x1="232.10" y1="298.50" x2="235.00" y2="298.50" stroke="#2e2e2e" stroke-width="1.0"/>
<text x="228.90" y="300.80" font-size="6.4" text-anchor="end" textLength="3.3" lengthAdjust="spacingAndGlyphs">8</text>
<line x1="248.10" y1="367.10" x2="248.10" y2="369.70" stroke="#2e2e2e" stroke-width="1.0"/>
<line x1="267.20" y1="367.10" x2="267.20" y2="369.70" stroke="#2e2e2e" stroke-width="1.0"/>
<circle cx="248.10" cy="358.30" r="1.0" fill="#2e9a3e"/>
<circle cx="251.16" cy="357.79" r="1.0" fill="#2e9a3e"/>
<circle cx="246.57" cy="357.23" r="1.0" fill="#2e9a3e"/>
<circle cx="249.63" cy="356.65" r="1.0" fill="#2e9a3e"/>
<circle cx="245.04" cy="356.05" r="1.0" fill="#2e9a3e"/>
<circle cx="248.10" cy="355.44" r="1.0" fill="#2e9a3e"/>
<circle cx="251.16" cy="354.81" r="1.0" fill="#2e9a3e"/>
<circle cx="246.57" cy="354.18" r="1.0" fill="#2e9a3e"/>
<circle cx="249.63" cy="353.54" r="1.0" fill="#2e9a3e"/>
<circle cx="245.04" cy="352.89" r="1.0" fill="#2e9a3e"/>
<circle cx="248.10" cy="352.23" r="1.0" fill="#2e9a3e"/>
<circle cx="251.16" cy="351.57" r="1.0" fill="#2e9a3e"/>
<circle cx="246.57" cy="350.90" r="1.0" fill="#2e9a3e"/>
<circle cx="249.63" cy="350.23" r="1.0" fill="#2e9a3e"/>
<circle cx="245.04" cy="349.55" r="1.0" fill="#2e9a3e"/>
<circle cx="248.10" cy="348.87" r="1.0" fill="#2e9a3e"/>
<circle cx="251.16" cy="348.18" r="1.0" fill="#2e9a3e"/>
<circle cx="246.57" cy="347.49" r="1.0" fill="#2e9a3e"/>
<circle cx="249.63" cy="346.79" r="1.0" fill="#2e9a3e"/>
<circle cx="245.04" cy="346.09" r="1.0" fill="#2e9a3e"/>
<circle cx="248.10" cy="345.39" r="1.0" fill="#2e9a3e"/>
<circle cx="251.16" cy="344.68" r="1.0" fill="#2e9a3e"/>
<circle cx="246.57" cy="343.97" r="1.0" fill="#2e9a3e"/>
<circle cx="249.63" cy="343.26" r="1.0" fill="#2e9a3e"/>
<circle cx="245.04" cy="342.54" r="1.0" fill="#2e9a3e"/>
<circle cx="248.10" cy="341.83" r="1.0" fill="#2e9a3e"/>
<circle cx="251.16" cy="341.10" r="1.0" fill="#2e9a3e"/>
<circle cx="246.57" cy="340.38" r="1.0" fill="#2e9a3e"/>
<circle cx="249.63" cy="339.65" r="1.0" fill="#2e9a3e"/>
<circle cx="245.04" cy="338.92" r="1.0" fill="#2e9a3e"/>
<circle cx="248.10" cy="338.19" r="1.0" fill="#2e9a3e"/>
<circle cx="251.16" cy="337.46" r="1.0" fill="#2e9a3e"/>
<circle cx="248.10" cy="332.80" r="1.0" fill="#2e9a3e"/>
<circle cx="248.10" cy="328.51" r="1.0" fill="#2e9a3e"/>
<circle cx="248.10" cy="324.23" r="1.0" fill="#2e9a3e"/>
<circle cx="248.10" cy="319.94" r="1.0" fill="#2e9a3e"/>
<circle cx="248.10" cy="315.65" r="1.0" fill="#2e9a3e"/>
<circle cx="248.10" cy="313.94" r="1.0" fill="#2e9a3e"/>
<line x1="248.10" y1="354.24" x2="248.10" y2="341.38" stroke="#1e1e1e" stroke-width="0.95"/>
<line x1="245.10" y1="354.24" x2="251.10" y2="354.24" stroke="#1e1e1e" stroke-width="0.95"/>
<line x1="245.10" y1="341.38" x2="251.10" y2="341.38" stroke="#1e1e1e" stroke-width="0.95"/>
<line x1="240.60" y1="348.24" x2="255.60" y2="348.24" stroke="#1e1e1e" stroke-width="1.15"/>
<circle cx="267.20" cy="363.33" r="1.0" fill="#1c5482"/>
<circle cx="270.26" cy="362.64" r="1.0" fill="#1c5482"/>
<circle cx="265.67" cy="361.96" r="1.0" fill="#1c5482"/>
<circle cx="268.73" cy="361.27" r="1.0" fill="#1c5482"/>
<circle cx="264.14" cy="360.58" r="1.0" fill="#1c5482"/>
<circle cx="267.20" cy="359.90" r="1.0" fill="#1c5482"/>
<circle cx="270.26" cy="359.21" r="1.0" fill="#1c5482"/>
<circle cx="265.67" cy="358.53" r="1.0" fill="#1c5482"/>
<circle cx="268.73" cy="357.84" r="1.0" fill="#1c5482"/>
<circle cx="264.14" cy="357.15" r="1.0" fill="#1c5482"/>
<circle cx="267.20" cy="356.47" r="1.0" fill="#1c5482"/>
<circle cx="270.26" cy="355.78" r="1.0" fill="#1c5482"/>
<circle cx="265.67" cy="355.10" r="1.0" fill="#1c5482"/>
<circle cx="268.73" cy="354.41" r="1.0" fill="#1c5482"/>
<circle cx="264.14" cy="353.72" r="1.0" fill="#1c5482"/>
<circle cx="267.20" cy="353.04" r="1.0" fill="#1c5482"/>
<circle cx="270.26" cy="352.35" r="1.0" fill="#1c5482"/>
<circle cx="265.67" cy="351.67" r="1.0" fill="#1c5482"/>
<circle cx="268.73" cy="350.98" r="1.0" fill="#1c5482"/>
<circle cx="264.14" cy="350.29" r="1.0" fill="#1c5482"/>
<circle cx="267.20" cy="349.61" r="1.0" fill="#1c5482"/>
<circle cx="270.26" cy="348.92" r="1.0" fill="#1c5482"/>
<circle cx="265.67" cy="348.24" r="1.0" fill="#1c5482"/>
<circle cx="268.73" cy="347.55" r="1.0" fill="#1c5482"/>
<circle cx="264.14" cy="346.86" r="1.0" fill="#1c5482"/>
<circle cx="267.20" cy="346.18" r="1.0" fill="#1c5482"/>
<circle cx="270.26" cy="345.49" r="1.0" fill="#1c5482"/>
<circle cx="265.67" cy="344.81" r="1.0" fill="#1c5482"/>
<circle cx="268.73" cy="344.12" r="1.0" fill="#1c5482"/>
<circle cx="264.14" cy="343.43" r="1.0" fill="#1c5482"/>
<circle cx="267.20" cy="341.38" r="1.0" fill="#1c5482"/>
<circle cx="267.20" cy="337.09" r="1.0" fill="#1c5482"/>
<circle cx="267.20" cy="324.23" r="1.0" fill="#1c5482"/>
<line x1="267.20" y1="356.81" x2="267.20" y2="348.24" stroke="#1e1e1e" stroke-width="0.95"/>
<line x1="264.20" y1="356.81" x2="270.20" y2="356.81" stroke="#1e1e1e" stroke-width="0.95"/>
<line x1="264.20" y1="348.24" x2="270.20" y2="348.24" stroke="#1e1e1e" stroke-width="0.95"/>
<line x1="259.70" y1="353.38" x2="274.70" y2="353.38" stroke="#1e1e1e" stroke-width="1.15"/>
<text x="248.10" y="378.70" font-size="6.7" text-anchor="middle">HC</text>
<text x="267.20" y="378.70" font-size="6.7" text-anchor="middle">w&amp;w</text>
<text x="231.60" y="288.70" font-size="8.7" textLength="54.0" lengthAdjust="spacingAndGlyphs">CLL CD4/CD8</text>
<text x="221.30" y="331.40" font-size="8.4" text-anchor="middle" transform="rotate(-90 221.30 331.40)" textLength="45.6" lengthAdjust="spacingAndGlyphs">CD4/CD8-ratio</text>
<polyline points="353.60,316.20 353.60,313.40 372.60,313.40 372.60,335.20" fill="none" stroke="#606060" stroke-width="0.85"/>
<text x="363.40" y="310.40" font-size="6.8" text-anchor="middle">*</text>
<line x1="340.30" y1="295.80" x2="340.30" y2="367.60" stroke="#2e2e2e" stroke-width="1.15"/>
<line x1="337.50" y1="367.10" x2="382.80" y2="367.10" stroke="#2e2e2e" stroke-width="1.15"/>
<text x="333.80" y="369.40" font-size="6.4" text-anchor="end" textLength="3.3" lengthAdjust="spacingAndGlyphs">0</text>
<line x1="337.40" y1="344.23" x2="340.30" y2="344.23" stroke="#2e2e2e" stroke-width="1.0"/>
<text x="333.80" y="346.54" font-size="6.4" text-anchor="end" textLength="9.9" lengthAdjust="spacingAndGlyphs">500</text>
<line x1="337.40" y1="321.37" x2="340.30" y2="321.37" stroke="#2e2e2e" stroke-width="1.0"/>
<text x="333.80" y="323.67" font-size="6.4" text-anchor="end" textLength="13.2" lengthAdjust="spacingAndGlyphs">1000</text>
<line x1="337.40" y1="298.50" x2="340.30" y2="298.50" stroke="#2e2e2e" stroke-width="1.0"/>
<text x="333.80" y="300.80" font-size="6.4" text-anchor="end" textLength="13.2" lengthAdjust="spacingAndGlyphs">1500</text>
<line x1="353.60" y1="367.10" x2="353.60" y2="369.70" stroke="#2e2e2e" stroke-width="1.0"/>
<line x1="372.60" y1="367.10" x2="372.60" y2="369.70" stroke="#2e2e2e" stroke-width="1.0"/>
<circle cx="353.60" cy="366.15" r="1.0" fill="#2e9a3e"/>
<circle cx="356.66" cy="365.98" r="1.0" fill="#2e9a3e"/>
<circle cx="350.54" cy="365.75" r="1.0" fill="#2e9a3e"/>
<circle cx="359.72" cy="365.46" r="1.0" fill="#2e9a3e"/>
<circle cx="355.13" cy="365.12" r="1.0" fill="#2e9a3e"/>
<circle cx="352.07" cy="364.75" r="1.0" fill="#2e9a3e"/>
<circle cx="358.19" cy="364.34" r="1.0" fill="#2e9a3e"/>
<circle cx="353.60" cy="363.90" r="1.0" fill="#2e9a3e"/>
<circle cx="356.66" cy="363.43" r="1.0" fill="#2e9a3e"/>
<circle cx="352.07" cy="362.93" r="1.0" fill="#2e9a3e"/>
<circle cx="355.13" cy="362.40" r="1.0" fill="#2e9a3e"/>
<circle cx="350.54" cy="361.84" r="1.0" fill="#2e9a3e"/>
<circle cx="353.60" cy="361.27" r="1.0" fill="#2e9a3e"/>
<circle cx="356.66" cy="360.66" r="1.0" fill="#2e9a3e"/>
<circle cx="352.07" cy="360.04" r="1.0" fill="#2e9a3e"/>
<circle cx="355.13" cy="359.39" r="1.0" fill="#2e9a3e"/>
<circle cx="350.54" cy="358.72" r="1.0" fill="#2e9a3e"/>
<circle cx="353.60" cy="358.04" r="1.0" fill="#2e9a3e"/>
<circle cx="356.66" cy="357.33" r="1.0" fill="#2e9a3e"/>
<circle cx="352.07" cy="356.60" r="1.0" fill="#2e9a3e"/>
<circle cx="355.13" cy="355.85" r="1.0" fill="#2e9a3e"/>
<circle cx="353.60" cy="355.09" r="1.0" fill="#2e9a3e"/>
<circle cx="352.07" cy="354.30" r="1.0" fill="#2e9a3e"/>
<circle cx="355.13" cy="353.50" r="1.0" fill="#2e9a3e"/>
<circle cx="353.60" cy="352.68" r="1.0" fill="#2e9a3e"/>
<circle cx="352.07" cy="351.85" r="1.0" fill="#2e9a3e"/>
<circle cx="355.13" cy="351.00" r="1.0" fill="#2e9a3e"/>
<circle cx="353.60" cy="350.13" r="1.0" fill="#2e9a3e"/>
<circle cx="355.13" cy="349.25" r="1.0" fill="#2e9a3e"/>
<circle cx="353.60" cy="348.35" r="1.0" fill="#2e9a3e"/>
<circle cx="353.60" cy="344.23" r="1.0" fill="#2e9a3e"/>
<circle cx="353.60" cy="337.37" r="1.0" fill="#2e9a3e"/>
<circle cx="353.60" cy="335.09" r="1.0" fill="#2e9a3e"/>
<circle cx="353.60" cy="332.80" r="1.0" fill="#2e9a3e"/>
<circle cx="353.60" cy="320.45" r="1.0" fill="#2e9a3e"/>
<circle cx="356.66" cy="320.45" r="1.0" fill="#2e9a3e"/>
<line x1="353.60" y1="361.15" x2="353.60" y2="348.81" stroke="#1e1e1e" stroke-width="0.95"/>
<line x1="350.60" y1="361.15" x2="356.60" y2="361.15" stroke="#1e1e1e" stroke-width="0.95"/>
<line x1="350.60" y1="348.81" x2="356.60" y2="348.81" stroke="#1e1e1e" stroke-width="0.95"/>
<line x1="346.10" y1="357.50" x2="361.10" y2="357.50" stroke="#1e1e1e" stroke-width="1.15"/>
<circle cx="372.60" cy="366.94" r="1.0" fill="#1c5482"/>
<circle cx="375.66" cy="366.51" r="1.0" fill="#1c5482"/>
<circle cx="371.07" cy="366.01" r="1.0" fill="#1c5482"/>
<circle cx="374.13" cy="365.47" r="1.0" fill="#1c5482"/>
<circle cx="369.54" cy="364.89" r="1.0" fill="#1c5482"/>
<circle cx="372.60" cy="364.29" r="1.0" fill="#1c5482"/>
<circle cx="375.66" cy="363.67" r="1.0" fill="#1c5482"/>
<circle cx="371.07" cy="363.02" r="1.0" fill="#1c5482"/>
<circle cx="374.13" cy="362.36" r="1.0" fill="#1c5482"/>
<circle cx="369.54" cy="361.69" r="1.0" fill="#1c5482"/>
<circle cx="372.60" cy="360.99" r="1.0" fill="#1c5482"/>
<circle cx="375.66" cy="360.29" r="1.0" fill="#1c5482"/>
<circle cx="371.07" cy="359.57" r="1.0" fill="#1c5482"/>
<circle cx="374.13" cy="358.85" r="1.0" fill="#1c5482"/>
<circle cx="369.54" cy="358.11" r="1.0" fill="#1c5482"/>
<circle cx="372.60" cy="357.36" r="1.0" fill="#1c5482"/>
<circle cx="374.13" cy="356.60" r="1.0" fill="#1c5482"/>
<circle cx="371.07" cy="355.83" r="1.0" fill="#1c5482"/>
<circle cx="372.60" cy="355.05" r="1.0" fill="#1c5482"/>
<circle cx="374.13" cy="354.27" r="1.0" fill="#1c5482"/>
<circle cx="371.07" cy="353.47" r="1.0" fill="#1c5482"/>
<circle cx="372.60" cy="352.67" r="1.0" fill="#1c5482"/>
<circle cx="374.13" cy="351.86" r="1.0" fill="#1c5482"/>
<circle cx="371.07" cy="351.05" r="1.0" fill="#1c5482"/>
<circle cx="372.60" cy="346.52" r="1.0" fill="#1c5482"/>
<circle cx="372.60" cy="339.66" r="1.0" fill="#1c5482"/>
<circle cx="372.60" cy="337.83" r="1.0" fill="#1c5482"/>
<line x1="372.60" y1="366.19" x2="372.60" y2="351.55" stroke="#1e1e1e" stroke-width="0.95"/>
<line x1="369.60" y1="366.19" x2="375.60" y2="366.19" stroke="#1e1e1e" stroke-width="0.95"/>
<line x1="369.60" y1="351.55" x2="375.60" y2="351.55" stroke="#1e1e1e" stroke-width="0.95"/>
<line x1="365.10" y1="361.61" x2="380.10" y2="361.61" stroke="#1e1e1e" stroke-width="1.15"/>
<text x="353.60" y="378.70" font-size="6.7" text-anchor="middle">HC</text>
<text x="372.60" y="378.70" font-size="6.7" text-anchor="middle">w&amp;w</text>
<text x="343.90" y="282.50" font-size="8.7" textLength="38.9" lengthAdjust="spacingAndGlyphs">CLL CD4+</text>
<text x="355.30" y="291.20" font-size="8.7" textLength="17.1" lengthAdjust="spacingAndGlyphs">T<tspan dy="1.7" font-size="5.8">n</tspan><tspan dy="-1.7">/µl</tspan></text>
<text x="315.10" y="331.40" font-size="8.4" text-anchor="middle" transform="rotate(-90 315.10 331.40)" textLength="22.8" lengthAdjust="spacingAndGlyphs">Cells/µl</text>
<polyline points="457.40,350.00 457.40,311.50 477.40,311.50 477.40,319.10" fill="none" stroke="#606060" stroke-width="0.85"/>
<text x="467.90" y="310.10" font-size="6.8" text-anchor="middle">****</text>
<line x1="444.70" y1="297.70" x2="444.70" y2="368.70" stroke="#2e2e2e" stroke-width="1.15"/>
<line x1="441.90" y1="368.20" x2="490.60" y2="368.20" stroke="#2e2e2e" stroke-width="1.15"/>
<text x="438.80" y="370.50" font-size="6.4" text-anchor="end" textLength="3.3" lengthAdjust="spacingAndGlyphs">0</text>
<line x1="441.80" y1="345.60" x2="444.70" y2="345.60" stroke="#2e2e2e" stroke-width="1.0"/>
<text x="438.80" y="347.90" font-size="6.4" text-anchor="end" textLength="6.6" lengthAdjust="spacingAndGlyphs">20</text>
<line x1="441.80" y1="323.00" x2="444.70" y2="323.00" stroke="#2e2e2e" stroke-width="1.0"/>
<text x="438.80" y="325.30" font-size="6.4" text-anchor="end" textLength="6.6" lengthAdjust="spacingAndGlyphs">40</text>
<line x1="441.80" y1="300.40" x2="444.70" y2="300.40" stroke="#2e2e2e" stroke-width="1.0"/>
<text x="438.80" y="302.70" font-size="6.4" text-anchor="end" textLength="6.6" lengthAdjust="spacingAndGlyphs">60</text>
<line x1="457.40" y1="368.20" x2="457.40" y2="370.80" stroke="#2e2e2e" stroke-width="1.0"/>
<line x1="477.40" y1="368.20" x2="477.40" y2="370.80" stroke="#2e2e2e" stroke-width="1.0"/>
<circle cx="457.40" cy="367.06" r="1.0" fill="#2e9a3e"/>
<circle cx="460.46" cy="367.02" r="1.0" fill="#2e9a3e"/>
<circle cx="454.34" cy="366.97" r="1.0" fill="#2e9a3e"/>
<circle cx="463.52" cy="366.89" r="1.0" fill="#2e9a3e"/>
<circle cx="451.28" cy="366.80" r="1.0" fill="#2e9a3e"/>
<circle cx="460.11" cy="366.70" r="1.0" fill="#2e9a3e"/>
<circle cx="462.79" cy="366.59" r="1.0" fill="#2e9a3e"/>
<circle cx="456.24" cy="366.47" r="1.0" fill="#2e9a3e"/>
<circle cx="461.64" cy="366.33" r="1.0" fill="#2e9a3e"/>
<circle cx="459.57" cy="366.19" r="1.0" fill="#2e9a3e"/>
<circle cx="452.81" cy="366.04" r="1.0" fill="#2e9a3e"/>
<circle cx="462.00" cy="365.87" r="1.0" fill="#2e9a3e"/>
<circle cx="461.38" cy="365.70" r="1.0" fill="#2e9a3e"/>
<circle cx="461.74" cy="365.52" r="1.0" fill="#2e9a3e"/>
<circle cx="462.45" cy="365.34" r="1.0" fill="#2e9a3e"/>
<circle cx="457.40" cy="365.14" r="1.0" fill="#2e9a3e"/>
<circle cx="454.34" cy="364.94" r="1.0" fill="#2e9a3e"/>
<circle cx="451.28" cy="364.73" r="1.0" fill="#2e9a3e"/>
<circle cx="463.35" cy="364.51" r="1.0" fill="#2e9a3e"/>
<circle cx="458.93" cy="364.28" r="1.0" fill="#2e9a3e"/>
<circle cx="455.87" cy="364.05" r="1.0" fill="#2e9a3e"/>
<circle cx="452.81" cy="363.81" r="1.0" fill="#2e9a3e"/>
<circle cx="459.22" cy="363.57" r="1.0" fill="#2e9a3e"/>
<circle cx="461.99" cy="363.32" r="1.0" fill="#2e9a3e"/>
<circle cx="457.40" cy="363.06" r="1.0" fill="#2e9a3e"/>
<circle cx="454.34" cy="362.79" r="1.0" fill="#2e9a3e"/>
<circle cx="463.52" cy="362.52" r="1.0" fill="#2e9a3e"/>
<circle cx="460.46" cy="362.24" r="1.0" fill="#2e9a3e"/>
<circle cx="455.87" cy="361.96" r="1.0" fill="#2e9a3e"/>
<circle cx="452.81" cy="361.67" r="1.0" fill="#2e9a3e"/>
<circle cx="458.93" cy="361.37" r="1.0" fill="#2e9a3e"/>
<circle cx="461.99" cy="361.07" r="1.0" fill="#2e9a3e"/>
<circle cx="454.34" cy="360.76" r="1.0" fill="#2e9a3e"/>
<circle cx="457.40" cy="360.45" r="1.0" fill="#2e9a3e"/>
<circle cx="458.93" cy="359.16" r="1.0" fill="#2e9a3e"/>
<circle cx="457.40" cy="356.90" r="1.0" fill="#2e9a3e"/>
<circle cx="457.40" cy="354.64" r="1.0" fill="#2e9a3e"/>
<circle cx="457.40" cy="351.25" r="1.0" fill="#2e9a3e"/>
<line x1="457.40" y1="365.38" x2="457.40" y2="362.55" stroke="#1e1e1e" stroke-width="0.95"/>
<line x1="454.40" y1="365.38" x2="460.40" y2="365.38" stroke="#1e1e1e" stroke-width="0.95"/>
<line x1="454.40" y1="362.55" x2="460.40" y2="362.55" stroke="#1e1e1e" stroke-width="0.95"/>
<line x1="449.90" y1="364.25" x2="464.90" y2="364.25" stroke="#1e1e1e" stroke-width="1.15"/>
<circle cx="477.40" cy="364.37" r="1.0" fill="#1c5482"/>
<circle cx="478.93" cy="363.48" r="1.0" fill="#1c5482"/>
<circle cx="477.40" cy="362.59" r="1.0" fill="#1c5482"/>
<circle cx="478.93" cy="361.70" r="1.0" fill="#1c5482"/>
<circle cx="477.40" cy="360.81" r="1.0" fill="#1c5482"/>
<circle cx="478.93" cy="359.93" r="1.0" fill="#1c5482"/>
<circle cx="477.40" cy="359.04" r="1.0" fill="#1c5482"/>
<circle cx="478.93" cy="358.15" r="1.0" fill="#1c5482"/>
<circle cx="477.40" cy="357.26" r="1.0" fill="#1c5482"/>
<circle cx="478.93" cy="356.38" r="1.0" fill="#1c5482"/>
<circle cx="477.40" cy="355.49" r="1.0" fill="#1c5482"/>
<circle cx="478.93" cy="354.60" r="1.0" fill="#1c5482"/>
<circle cx="477.40" cy="353.71" r="1.0" fill="#1c5482"/>
<circle cx="478.93" cy="352.82" r="1.0" fill="#1c5482"/>
<circle cx="477.40" cy="351.94" r="1.0" fill="#1c5482"/>
<circle cx="478.93" cy="351.05" r="1.0" fill="#1c5482"/>
<circle cx="477.40" cy="350.16" r="1.0" fill="#1c5482"/>
<circle cx="478.93" cy="349.27" r="1.0" fill="#1c5482"/>
<circle cx="477.40" cy="348.38" r="1.0" fill="#1c5482"/>
<circle cx="478.93" cy="347.50" r="1.0" fill="#1c5482"/>
<circle cx="477.40" cy="346.61" r="1.0" fill="#1c5482"/>
<circle cx="478.93" cy="345.72" r="1.0" fill="#1c5482"/>
<circle cx="477.40" cy="344.83" r="1.0" fill="#1c5482"/>
<circle cx="478.93" cy="343.95" r="1.0" fill="#1c5482"/>
<circle cx="477.40" cy="343.06" r="1.0" fill="#1c5482"/>
<circle cx="478.93" cy="342.17" r="1.0" fill="#1c5482"/>
<circle cx="477.40" cy="341.28" r="1.0" fill="#1c5482"/>
<circle cx="478.93" cy="340.39" r="1.0" fill="#1c5482"/>
<circle cx="477.40" cy="336.56" r="1.0" fill="#1c5482"/>
<circle cx="477.40" cy="334.30" r="1.0" fill="#1c5482"/>
<circle cx="477.40" cy="332.04" r="1.0" fill="#1c5482"/>
<circle cx="478.93" cy="330.91" r="1.0" fill="#1c5482"/>
<circle cx="477.40" cy="325.26" r="1.0" fill="#1c5482"/>
<circle cx="477.40" cy="320.74" r="1.0" fill="#1c5482"/>
<line x1="477.40" y1="358.03" x2="477.40" y2="345.60" stroke="#1e1e1e" stroke-width="0.95"/>
<line x1="474.40" y1="358.03" x2="480.40" y2="358.03" stroke="#1e1e1e" stroke-width="0.95"/>
<line x1="474.40" y1="345.60" x2="480.40" y2="345.60" stroke="#1e1e1e" stroke-width="0.95"/>
<line x1="469.90" y1="350.69" x2="484.90" y2="350.69" stroke="#1e1e1e" stroke-width="1.15"/>
<text x="457.40" y="378.90" font-size="6.7" text-anchor="middle">HC</text>
<text x="477.40" y="378.90" font-size="6.7" text-anchor="middle">w&amp;w</text>
<text x="448.00" y="281.70" font-size="8.7" textLength="39.4" lengthAdjust="spacingAndGlyphs">CLL CD4+</text>
<text x="445.10" y="291.60" font-size="8.7" textLength="44.6" lengthAdjust="spacingAndGlyphs">%-HLA-DR+</text>
<text x="426.70" y="333.30" font-size="8.4" text-anchor="middle" transform="rotate(-90 426.70 333.30)" textLength="26.6" lengthAdjust="spacingAndGlyphs">% of CD4</text>
<rect x="84.10" y="420.10" width="18.20" height="59.50" fill="#d2d2d2"/>
<polyline points="44.6,431.2 44.6,429 80.8,429 80.8,431" fill="none" stroke="#606060" stroke-width="0.85"/>
<polyline points="63.5,429 63.5,420.5 97.6,420.5 97.6,444" fill="none" stroke="#606060" stroke-width="0.85"/>
<polyline points="63.5,426.5 88.2,426.5 88.2,446.7" fill="none" stroke="#606060" stroke-width="0.85"/>
<text x="75.70" y="428.20" font-size="6.8" text-anchor="middle">****</text>
<text x="80.00" y="422.20" font-size="6.8" text-anchor="middle">****</text>
<line x1="38.80" y1="417.70" x2="38.80" y2="480.10" stroke="#2e2e2e" stroke-width="1.15"/>
<line x1="36.00" y1="479.60" x2="102.50" y2="479.60" stroke="#2e2e2e" stroke-width="1.15"/>
<text x="33.10" y="481.90" font-size="6.4" text-anchor="end" textLength="3.3" lengthAdjust="spacingAndGlyphs">0</text>
<line x1="35.90" y1="459.87" x2="38.80" y2="459.87" stroke="#2e2e2e" stroke-width="1.0"/>
<text x="33.10" y="462.17" font-size="6.4" text-anchor="end" textLength="3.3" lengthAdjust="spacingAndGlyphs">2</text>
<line x1="35.90" y1="440.13" x2="38.80" y2="440.13" stroke="#2e2e2e" stroke-width="1.0"/>
<text x="33.10" y="442.44" font-size="6.4" text-anchor="end" textLength="3.3" lengthAdjust="spacingAndGlyphs">4</text>
<line x1="35.90" y1="420.40" x2="38.80" y2="420.40" stroke="#2e2e2e" stroke-width="1.0"/>
<text x="33.10" y="422.70" font-size="6.4" text-anchor="end" textLength="3.3" lengthAdjust="spacingAndGlyphs">6</text>
<line x1="44.50" y1="479.60" x2="44.50" y2="482.20" stroke="#2e2e2e" stroke-width="1.0"/>
<line x1="53.00" y1="479.60" x2="53.00" y2="482.20" stroke="#2e2e2e" stroke-width="1.0"/>
<line x1="62.50" y1="479.60" x2="62.50" y2="482.20" stroke="#2e2e2e" stroke-width="1.0"/>
<line x1="71.00" y1="479.60" x2="71.00" y2="482.20" stroke="#2e2e2e" stroke-width="1.0"/>
<line x1="80.50" y1="479.60" x2="80.50" y2="482.20" stroke="#2e2e2e" stroke-width="1.0"/>
<line x1="89.00" y1="479.60" x2="89.00" y2="482.20" stroke="#2e2e2e" stroke-width="1.0"/>
<line x1="98.00" y1="479.60" x2="98.00" y2="482.20" stroke="#2e2e2e" stroke-width="1.0"/>
<circle cx="44.50" cy="479.20" r="1.1" fill="#1c5482"/>
<circle cx="47.22" cy="478.65" r="1.1" fill="#1c5482"/>
<circle cx="43.14" cy="478.18" r="1.1" fill="#1c5482"/>
<circle cx="45.86" cy="477.74" r="1.1" fill="#1c5482"/>
<circle cx="41.78" cy="477.33" r="1.1" fill="#1c5482"/>
<circle cx="44.50" cy="476.94" r="1.1" fill="#1c5482"/>
<circle cx="47.22" cy="476.57" r="1.1" fill="#1c5482"/>
<circle cx="43.14" cy="476.20" r="1.1" fill="#1c5482"/>
<circle cx="45.86" cy="475.85" r="1.1" fill="#1c5482"/>
<circle cx="41.78" cy="475.50" r="1.1" fill="#1c5482"/>
<circle cx="44.50" cy="475.16" r="1.1" fill="#1c5482"/>
<circle cx="47.22" cy="474.83" r="1.1" fill="#1c5482"/>
<circle cx="45.76" cy="474.50" r="1.1" fill="#1c5482"/>
<circle cx="43.14" cy="474.18" r="1.1" fill="#1c5482"/>
<circle cx="42.95" cy="473.87" r="1.1" fill="#1c5482"/>
<circle cx="45.84" cy="473.56" r="1.1" fill="#1c5482"/>
<circle cx="42.36" cy="473.25" r="1.1" fill="#1c5482"/>
<circle cx="41.71" cy="472.94" r="1.1" fill="#1c5482"/>
<circle cx="44.50" cy="472.64" r="1.1" fill="#1c5482"/>
<circle cx="47.22" cy="472.35" r="1.1" fill="#1c5482"/>
<circle cx="44.16" cy="472.05" r="1.1" fill="#1c5482"/>
<circle cx="45.50" cy="471.76" r="1.1" fill="#1c5482"/>
<circle cx="41.87" cy="471.47" r="1.1" fill="#1c5482"/>
<circle cx="44.56" cy="471.19" r="1.1" fill="#1c5482"/>
<circle cx="46.71" cy="470.91" r="1.1" fill="#1c5482"/>
<circle cx="43.14" cy="470.63" r="1.1" fill="#1c5482"/>
<circle cx="43.20" cy="470.35" r="1.1" fill="#1c5482"/>
<circle cx="46.91" cy="470.07" r="1.1" fill="#1c5482"/>
<circle cx="41.78" cy="469.80" r="1.1" fill="#1c5482"/>
<circle cx="44.50" cy="469.53" r="1.1" fill="#1c5482"/>
<circle cx="45.54" cy="469.26" r="1.1" fill="#1c5482"/>
<circle cx="42.12" cy="468.99" r="1.1" fill="#1c5482"/>
<circle cx="44.84" cy="468.72" r="1.1" fill="#1c5482"/>
<circle cx="47.22" cy="468.46" r="1.1" fill="#1c5482"/>
<circle cx="45.66" cy="468.19" r="1.1" fill="#1c5482"/>
<circle cx="44.49" cy="467.93" r="1.1" fill="#1c5482"/>
<circle cx="44.41" cy="467.67" r="1.1" fill="#1c5482"/>
<circle cx="41.78" cy="467.41" r="1.1" fill="#1c5482"/>
<circle cx="44.57" cy="467.16" r="1.1" fill="#1c5482"/>
<circle cx="47.22" cy="466.90" r="1.1" fill="#1c5482"/>
<circle cx="44.50" cy="462.83" r="1.1" fill="#1c5482"/>
<circle cx="44.50" cy="457.89" r="1.1" fill="#1c5482"/>
<circle cx="44.50" cy="454.93" r="1.1" fill="#1c5482"/>
<circle cx="44.50" cy="450.00" r="1.1" fill="#1c5482"/>
<circle cx="44.50" cy="433.23" r="1.1" fill="#1c5482"/>
<line x1="44.50" y1="474.83" x2="44.50" y2="468.46" stroke="#1e1e1e" stroke-width="0.85"/>
<line x1="42.75" y1="474.83" x2="46.25" y2="474.83" stroke="#1e1e1e" stroke-width="0.85"/>
<line x1="42.75" y1="468.46" x2="46.25" y2="468.46" stroke="#1e1e1e" stroke-width="0.85"/>
<line x1="41.00" y1="471.47" x2="48.00" y2="471.47" stroke="#1e1e1e" stroke-width="1.0"/>
<circle cx="53.00" cy="479.56" r="1.1" fill="#c2183a"/>
<circle cx="55.72" cy="479.45" r="1.1" fill="#c2183a"/>
<circle cx="50.28" cy="479.29" r="1.1" fill="#c2183a"/>
<circle cx="53.61" cy="479.12" r="1.1" fill="#c2183a"/>
<circle cx="55.34" cy="478.92" r="1.1" fill="#c2183a"/>
<circle cx="53.02" cy="478.71" r="1.1" fill="#c2183a"/>
<circle cx="51.49" cy="478.48" r="1.1" fill="#c2183a"/>
<circle cx="50.85" cy="478.25" r="1.1" fill="#c2183a"/>
<circle cx="54.93" cy="478.00" r="1.1" fill="#c2183a"/>
<circle cx="54.53" cy="477.74" r="1.1" fill="#c2183a"/>
<circle cx="52.26" cy="477.47" r="1.1" fill="#c2183a"/>
<circle cx="53.74" cy="477.19" r="1.1" fill="#c2183a"/>
<circle cx="54.46" cy="476.90" r="1.1" fill="#c2183a"/>
<circle cx="50.28" cy="476.61" r="1.1" fill="#c2183a"/>
<circle cx="54.94" cy="476.31" r="1.1" fill="#c2183a"/>
<circle cx="54.71" cy="476.00" r="1.1" fill="#c2183a"/>
<circle cx="53.00" cy="475.68" r="1.1" fill="#c2183a"/>
<circle cx="54.37" cy="475.36" r="1.1" fill="#c2183a"/>
<circle cx="50.28" cy="475.03" r="1.1" fill="#c2183a"/>
<circle cx="54.36" cy="474.69" r="1.1" fill="#c2183a"/>
<circle cx="51.64" cy="474.35" r="1.1" fill="#c2183a"/>
<circle cx="55.72" cy="474.00" r="1.1" fill="#c2183a"/>
<circle cx="53.00" cy="473.64" r="1.1" fill="#c2183a"/>
<circle cx="50.28" cy="473.28" r="1.1" fill="#c2183a"/>
<circle cx="54.36" cy="472.92" r="1.1" fill="#c2183a"/>
<circle cx="51.64" cy="472.55" r="1.1" fill="#c2183a"/>
<circle cx="55.72" cy="472.17" r="1.1" fill="#c2183a"/>
<circle cx="53.00" cy="471.79" r="1.1" fill="#c2183a"/>
<circle cx="50.28" cy="471.41" r="1.1" fill="#c2183a"/>
<circle cx="54.36" cy="471.02" r="1.1" fill="#c2183a"/>
<circle cx="51.64" cy="470.63" r="1.1" fill="#c2183a"/>
<circle cx="55.72" cy="470.23" r="1.1" fill="#c2183a"/>
<circle cx="53.00" cy="469.82" r="1.1" fill="#c2183a"/>
<circle cx="50.28" cy="469.42" r="1.1" fill="#c2183a"/>
<circle cx="54.36" cy="469.00" r="1.1" fill="#c2183a"/>
<circle cx="51.64" cy="468.59" r="1.1" fill="#c2183a"/>
<circle cx="55.72" cy="468.17" r="1.1" fill="#c2183a"/>
<circle cx="53.00" cy="467.74" r="1.1" fill="#c2183a"/>
<circle cx="50.28" cy="467.32" r="1.1" fill="#c2183a"/>
<circle cx="54.36" cy="466.88" r="1.1" fill="#c2183a"/>
<circle cx="51.64" cy="466.45" r="1.1" fill="#c2183a"/>
<circle cx="55.72" cy="466.01" r="1.1" fill="#c2183a"/>
<circle cx="53.00" cy="462.83" r="1.1" fill="#c2183a"/>
<circle cx="53.00" cy="459.87" r="1.1" fill="#c2183a"/>
<circle cx="53.00" cy="449.01" r="1.1" fill="#c2183a"/>
<line x1="53.00" y1="477.19" x2="53.00" y2="469.42" stroke="#1e1e1e" stroke-width="0.85"/>
<line x1="51.25" y1="477.19" x2="54.75" y2="477.19" stroke="#1e1e1e" stroke-width="0.85"/>
<line x1="51.25" y1="469.42" x2="54.75" y2="469.42" stroke="#1e1e1e" stroke-width="0.85"/>
<line x1="49.50" y1="473.64" x2="56.50" y2="473.64" stroke="#1e1e1e" stroke-width="1.0"/>
<circle cx="62.50" cy="478.42" r="1.1" fill="#1c5482"/>
<circle cx="65.22" cy="478.04" r="1.1" fill="#1c5482"/>
<circle cx="61.14" cy="477.66" r="1.1" fill="#1c5482"/>
<circle cx="63.86" cy="477.29" r="1.1" fill="#1c5482"/>
<circle cx="59.78" cy="476.91" r="1.1" fill="#1c5482"/>
<circle cx="62.50" cy="476.53" r="1.1" fill="#1c5482"/>
<circle cx="65.22" cy="476.15" r="1.1" fill="#1c5482"/>
<circle cx="61.14" cy="475.77" r="1.1" fill="#1c5482"/>
<circle cx="63.86" cy="475.39" r="1.1" fill="#1c5482"/>
<circle cx="59.78" cy="475.01" r="1.1" fill="#1c5482"/>
<circle cx="62.50" cy="474.63" r="1.1" fill="#1c5482"/>
<circle cx="65.22" cy="474.25" r="1.1" fill="#1c5482"/>
<circle cx="61.14" cy="473.87" r="1.1" fill="#1c5482"/>
<circle cx="63.86" cy="473.49" r="1.1" fill="#1c5482"/>
<circle cx="59.78" cy="473.11" r="1.1" fill="#1c5482"/>
<circle cx="62.50" cy="472.73" r="1.1" fill="#1c5482"/>
<circle cx="65.22" cy="472.35" r="1.1" fill="#1c5482"/>
<circle cx="61.14" cy="471.97" r="1.1" fill="#1c5482"/>
<circle cx="63.86" cy="471.59" r="1.1" fill="#1c5482"/>
<circle cx="59.78" cy="471.21" r="1.1" fill="#1c5482"/>
<circle cx="62.50" cy="470.83" r="1.1" fill="#1c5482"/>
<circle cx="65.22" cy="470.45" r="1.1" fill="#1c5482"/>
<circle cx="61.14" cy="470.07" r="1.1" fill="#1c5482"/>
<circle cx="63.86" cy="469.70" r="1.1" fill="#1c5482"/>
<circle cx="59.78" cy="469.32" r="1.1" fill="#1c5482"/>
<circle cx="62.50" cy="468.94" r="1.1" fill="#1c5482"/>
<line x1="62.50" y1="476.15" x2="62.50" y2="471.21" stroke="#1e1e1e" stroke-width="0.85"/>
<line x1="60.75" y1="476.15" x2="64.25" y2="476.15" stroke="#1e1e1e" stroke-width="0.85"/>
<line x1="60.75" y1="471.21" x2="64.25" y2="471.21" stroke="#1e1e1e" stroke-width="0.85"/>
<line x1="59.00" y1="473.49" x2="66.00" y2="473.49" stroke="#1e1e1e" stroke-width="1.0"/>
<circle cx="71.00" cy="478.50" r="1.1" fill="#1c5482"/>
<circle cx="73.72" cy="478.19" r="1.1" fill="#1c5482"/>
<circle cx="69.64" cy="477.82" r="1.1" fill="#1c5482"/>
<circle cx="72.36" cy="477.42" r="1.1" fill="#1c5482"/>
<circle cx="68.28" cy="476.99" r="1.1" fill="#1c5482"/>
<circle cx="71.00" cy="476.54" r="1.1" fill="#1c5482"/>
<circle cx="73.72" cy="476.08" r="1.1" fill="#1c5482"/>
<circle cx="69.64" cy="475.59" r="1.1" fill="#1c5482"/>
<circle cx="72.36" cy="475.09" r="1.1" fill="#1c5482"/>
<circle cx="68.28" cy="474.58" r="1.1" fill="#1c5482"/>
<circle cx="71.00" cy="474.05" r="1.1" fill="#1c5482"/>
<circle cx="73.72" cy="473.52" r="1.1" fill="#1c5482"/>
<circle cx="69.64" cy="472.97" r="1.1" fill="#1c5482"/>
<circle cx="72.36" cy="472.41" r="1.1" fill="#1c5482"/>
<circle cx="68.28" cy="471.85" r="1.1" fill="#1c5482"/>
<circle cx="71.00" cy="471.27" r="1.1" fill="#1c5482"/>
<circle cx="73.72" cy="470.69" r="1.1" fill="#1c5482"/>
<circle cx="69.64" cy="470.10" r="1.1" fill="#1c5482"/>
<circle cx="72.36" cy="469.50" r="1.1" fill="#1c5482"/>
<circle cx="68.28" cy="468.90" r="1.1" fill="#1c5482"/>
<circle cx="71.00" cy="468.28" r="1.1" fill="#1c5482"/>
<circle cx="73.72" cy="467.66" r="1.1" fill="#1c5482"/>
<circle cx="69.64" cy="467.04" r="1.1" fill="#1c5482"/>
<circle cx="72.36" cy="466.41" r="1.1" fill="#1c5482"/>
<circle cx="68.28" cy="465.77" r="1.1" fill="#1c5482"/>
<circle cx="71.00" cy="465.12" r="1.1" fill="#1c5482"/>
<line x1="71.00" y1="476.08" x2="71.00" y2="468.90" stroke="#1e1e1e" stroke-width="0.85"/>
<line x1="69.25" y1="476.08" x2="72.75" y2="476.08" stroke="#1e1e1e" stroke-width="0.85"/>
<line x1="69.25" y1="468.90" x2="72.75" y2="468.90" stroke="#1e1e1e" stroke-width="0.85"/>
<line x1="67.50" y1="472.41" x2="74.50" y2="472.41" stroke="#1e1e1e" stroke-width="1.0"/>
<circle cx="80.50" cy="478.60" r="1.1" fill="#c2183a"/>
<circle cx="83.22" cy="478.55" r="1.1" fill="#c2183a"/>
<circle cx="77.78" cy="478.46" r="1.1" fill="#c2183a"/>
<circle cx="78.69" cy="478.35" r="1.1" fill="#c2183a"/>
<circle cx="80.92" cy="478.20" r="1.1" fill="#c2183a"/>
<circle cx="77.71" cy="478.03" r="1.1" fill="#c2183a"/>
<circle cx="82.21" cy="477.83" r="1.1" fill="#c2183a"/>
<circle cx="82.30" cy="477.61" r="1.1" fill="#c2183a"/>
<circle cx="82.14" cy="477.37" r="1.1" fill="#c2183a"/>
<circle cx="78.76" cy="477.10" r="1.1" fill="#c2183a"/>
<circle cx="82.94" cy="476.82" r="1.1" fill="#c2183a"/>
<circle cx="80.50" cy="476.51" r="1.1" fill="#c2183a"/>
<circle cx="78.18" cy="476.18" r="1.1" fill="#c2183a"/>
<circle cx="79.33" cy="475.83" r="1.1" fill="#c2183a"/>
<circle cx="81.86" cy="475.47" r="1.1" fill="#c2183a"/>
<circle cx="81.53" cy="475.08" r="1.1" fill="#c2183a"/>
<circle cx="83.22" cy="474.68" r="1.1" fill="#c2183a"/>
<circle cx="79.14" cy="474.25" r="1.1" fill="#c2183a"/>
<circle cx="78.73" cy="473.81" r="1.1" fill="#c2183a"/>
<circle cx="80.50" cy="473.35" r="1.1" fill="#c2183a"/>
<circle cx="83.22" cy="472.87" r="1.1" fill="#c2183a"/>
<circle cx="77.78" cy="472.38" r="1.1" fill="#c2183a"/>
<circle cx="81.86" cy="471.86" r="1.1" fill="#c2183a"/>
<circle cx="79.14" cy="471.34" r="1.1" fill="#c2183a"/>
<circle cx="83.22" cy="470.79" r="1.1" fill="#c2183a"/>
<circle cx="80.50" cy="470.23" r="1.1" fill="#c2183a"/>
<circle cx="77.78" cy="469.65" r="1.1" fill="#c2183a"/>
<circle cx="81.86" cy="469.05" r="1.1" fill="#c2183a"/>
<line x1="80.50" y1="477.61" x2="80.50" y2="472.38" stroke="#1e1e1e" stroke-width="0.85"/>
<line x1="78.75" y1="477.61" x2="82.25" y2="477.61" stroke="#1e1e1e" stroke-width="0.85"/>
<line x1="78.75" y1="472.38" x2="82.25" y2="472.38" stroke="#1e1e1e" stroke-width="0.85"/>
<line x1="77.00" y1="475.47" x2="84.00" y2="475.47" stroke="#1e1e1e" stroke-width="1.0"/>
<circle cx="89.00" cy="475.46" r="1.1" fill="#1c5482"/>
<circle cx="91.72" cy="475.01" r="1.1" fill="#1c5482"/>
<circle cx="87.64" cy="474.53" r="1.1" fill="#1c5482"/>
<circle cx="90.36" cy="474.03" r="1.1" fill="#1c5482"/>
<circle cx="86.28" cy="473.53" r="1.1" fill="#1c5482"/>
<circle cx="89.00" cy="473.01" r="1.1" fill="#1c5482"/>
<circle cx="91.72" cy="472.49" r="1.1" fill="#1c5482"/>
<circle cx="87.64" cy="471.96" r="1.1" fill="#1c5482"/>
<circle cx="90.36" cy="471.42" r="1.1" fill="#1c5482"/>
<circle cx="86.28" cy="470.88" r="1.1" fill="#1c5482"/>
<circle cx="89.00" cy="470.34" r="1.1" fill="#1c5482"/>
<circle cx="91.72" cy="469.79" r="1.1" fill="#1c5482"/>
<circle cx="87.64" cy="469.23" r="1.1" fill="#1c5482"/>
<circle cx="90.36" cy="468.68" r="1.1" fill="#1c5482"/>
<circle cx="86.28" cy="468.11" r="1.1" fill="#1c5482"/>
<circle cx="89.00" cy="467.55" r="1.1" fill="#1c5482"/>
<circle cx="91.72" cy="466.98" r="1.1" fill="#1c5482"/>
<circle cx="87.64" cy="466.41" r="1.1" fill="#1c5482"/>
<circle cx="90.36" cy="465.84" r="1.1" fill="#1c5482"/>
<circle cx="86.28" cy="465.26" r="1.1" fill="#1c5482"/>
<circle cx="89.00" cy="464.69" r="1.1" fill="#1c5482"/>
<circle cx="91.72" cy="464.11" r="1.1" fill="#1c5482"/>
<circle cx="87.64" cy="463.52" r="1.1" fill="#1c5482"/>
<circle cx="90.36" cy="462.94" r="1.1" fill="#1c5482"/>
<circle cx="86.28" cy="462.35" r="1.1" fill="#1c5482"/>
<circle cx="89.00" cy="461.76" r="1.1" fill="#1c5482"/>
<circle cx="91.72" cy="461.17" r="1.1" fill="#1c5482"/>
<circle cx="87.64" cy="460.58" r="1.1" fill="#1c5482"/>
<circle cx="90.36" cy="459.99" r="1.1" fill="#1c5482"/>
<circle cx="86.28" cy="459.39" r="1.1" fill="#1c5482"/>
<circle cx="89.00" cy="458.79" r="1.1" fill="#1c5482"/>
<circle cx="91.72" cy="458.19" r="1.1" fill="#1c5482"/>
<circle cx="89.00" cy="454.93" r="1.1" fill="#1c5482"/>
<circle cx="89.00" cy="450.99" r="1.1" fill="#1c5482"/>
<line x1="89.00" y1="471.42" x2="89.00" y2="461.76" stroke="#1e1e1e" stroke-width="0.85"/>
<line x1="87.25" y1="471.42" x2="90.75" y2="471.42" stroke="#1e1e1e" stroke-width="0.85"/>
<line x1="87.25" y1="461.76" x2="90.75" y2="461.76" stroke="#1e1e1e" stroke-width="0.85"/>
<line x1="85.50" y1="466.41" x2="92.50" y2="466.41" stroke="#1e1e1e" stroke-width="1.0"/>
<circle cx="98.00" cy="476.56" r="1.1" fill="#c2183a"/>
<circle cx="100.72" cy="476.31" r="1.1" fill="#c2183a"/>
<circle cx="95.28" cy="476.01" r="1.1" fill="#c2183a"/>
<circle cx="97.06" cy="475.68" r="1.1" fill="#c2183a"/>
<circle cx="99.36" cy="475.33" r="1.1" fill="#c2183a"/>
<circle cx="95.25" cy="474.96" r="1.1" fill="#c2183a"/>
<circle cx="100.72" cy="474.57" r="1.1" fill="#c2183a"/>
<circle cx="98.00" cy="474.17" r="1.1" fill="#c2183a"/>
<circle cx="97.12" cy="473.75" r="1.1" fill="#c2183a"/>
<circle cx="99.36" cy="473.32" r="1.1" fill="#c2183a"/>
<circle cx="95.28" cy="472.87" r="1.1" fill="#c2183a"/>
<circle cx="98.00" cy="472.42" r="1.1" fill="#c2183a"/>
<circle cx="100.72" cy="471.96" r="1.1" fill="#c2183a"/>
<circle cx="96.64" cy="471.49" r="1.1" fill="#c2183a"/>
<circle cx="99.36" cy="471.01" r="1.1" fill="#c2183a"/>
<circle cx="95.28" cy="470.52" r="1.1" fill="#c2183a"/>
<circle cx="98.00" cy="470.02" r="1.1" fill="#c2183a"/>
<circle cx="100.72" cy="469.52" r="1.1" fill="#c2183a"/>
<circle cx="96.64" cy="469.01" r="1.1" fill="#c2183a"/>
<circle cx="99.36" cy="468.49" r="1.1" fill="#c2183a"/>
<circle cx="95.28" cy="467.96" r="1.1" fill="#c2183a"/>
<circle cx="98.00" cy="467.43" r="1.1" fill="#c2183a"/>
<circle cx="100.72" cy="466.89" r="1.1" fill="#c2183a"/>
<circle cx="96.64" cy="466.35" r="1.1" fill="#c2183a"/>
<circle cx="99.36" cy="465.80" r="1.1" fill="#c2183a"/>
<circle cx="95.28" cy="465.24" r="1.1" fill="#c2183a"/>
<circle cx="98.00" cy="464.68" r="1.1" fill="#c2183a"/>
<circle cx="100.72" cy="464.12" r="1.1" fill="#c2183a"/>
<circle cx="96.64" cy="463.55" r="1.1" fill="#c2183a"/>
<circle cx="99.36" cy="462.97" r="1.1" fill="#c2183a"/>
<circle cx="95.28" cy="462.39" r="1.1" fill="#c2183a"/>
<circle cx="98.00" cy="461.81" r="1.1" fill="#c2183a"/>
<circle cx="100.72" cy="461.22" r="1.1" fill="#c2183a"/>
<circle cx="96.64" cy="460.62" r="1.1" fill="#c2183a"/>
<circle cx="99.36" cy="460.02" r="1.1" fill="#c2183a"/>
<circle cx="95.28" cy="459.42" r="1.1" fill="#c2183a"/>
<circle cx="98.00" cy="458.81" r="1.1" fill="#c2183a"/>
<circle cx="100.72" cy="458.20" r="1.1" fill="#c2183a"/>
<circle cx="98.00" cy="453.95" r="1.1" fill="#c2183a"/>
<circle cx="98.00" cy="450.00" r="1.1" fill="#c2183a"/>
<circle cx="98.00" cy="446.05" r="1.1" fill="#c2183a"/>
<line x1="98.00" y1="472.87" x2="98.00" y2="462.39" stroke="#1e1e1e" stroke-width="0.85"/>
<line x1="96.25" y1="472.87" x2="99.75" y2="472.87" stroke="#1e1e1e" stroke-width="0.85"/>
<line x1="96.25" y1="462.39" x2="99.75" y2="462.39" stroke="#1e1e1e" stroke-width="0.85"/>
<line x1="94.50" y1="467.96" x2="101.50" y2="467.96" stroke="#1e1e1e" stroke-width="1.0"/>
<text x="47.50" y="413.20" font-size="8.7" textLength="47.5" lengthAdjust="spacingAndGlyphs">CD4/8-Ratio</text>
<text x="46.90" y="489.00" font-size="6.6" text-anchor="end" transform="rotate(-45 46.90 489.00)" textLength="32" lengthAdjust="spacingAndGlyphs">DLBCL ND</text>
<text x="55.40" y="489.00" font-size="6.6" text-anchor="end" transform="rotate(-45 55.40 489.00)" textLength="31" lengthAdjust="spacingAndGlyphs">DLBCL CR</text>
<text x="64.90" y="489.00" font-size="6.6" text-anchor="end" transform="rotate(-45 64.90 489.00)" textLength="28.5" lengthAdjust="spacingAndGlyphs">CLL w&amp;w</text>
<text x="73.40" y="489.00" font-size="6.6" text-anchor="end" transform="rotate(-45 73.40 489.00)" textLength="27" lengthAdjust="spacingAndGlyphs">AML ND</text>
<text x="82.90" y="489.00" font-size="6.6" text-anchor="end" transform="rotate(-45 82.90 489.00)" textLength="26.5" lengthAdjust="spacingAndGlyphs">AML CR</text>
<text x="91.40" y="489.00" font-size="6.6" text-anchor="end" transform="rotate(-45 91.40 489.00)" textLength="22" lengthAdjust="spacingAndGlyphs">BC ND</text>
<text x="100.40" y="489.00" font-size="6.6" text-anchor="end" transform="rotate(-45 100.40 489.00)" textLength="21" lengthAdjust="spacingAndGlyphs">BC CR</text>
<rect x="122.10" y="420.10" width="17.70" height="59.50" fill="#d2d2d2"/>
<text x="135.00" y="439.10" font-size="6.8" text-anchor="middle">****</text>
<line x1="121.40" y1="417.70" x2="121.40" y2="480.10" stroke="#2e2e2e" stroke-width="1.15"/>
<line x1="118.60" y1="479.60" x2="185.80" y2="479.60" stroke="#2e2e2e" stroke-width="1.15"/>
<text x="115.20" y="481.90" font-size="6.4" text-anchor="end" textLength="3.3" lengthAdjust="spacingAndGlyphs">0</text>
<line x1="118.50" y1="459.87" x2="121.40" y2="459.87" stroke="#2e2e2e" stroke-width="1.0"/>
<text x="115.20" y="462.17" font-size="6.4" text-anchor="end" textLength="3.3" lengthAdjust="spacingAndGlyphs">1</text>
<line x1="118.50" y1="440.13" x2="121.40" y2="440.13" stroke="#2e2e2e" stroke-width="1.0"/>
<text x="115.20" y="442.44" font-size="6.4" text-anchor="end" textLength="3.3" lengthAdjust="spacingAndGlyphs">2</text>
<line x1="118.50" y1="420.40" x2="121.40" y2="420.40" stroke="#2e2e2e" stroke-width="1.0"/>
<text x="115.20" y="422.70" font-size="6.4" text-anchor="end" textLength="3.3" lengthAdjust="spacingAndGlyphs">3</text>
<line x1="126.40" y1="479.60" x2="126.40" y2="482.20" stroke="#2e2e2e" stroke-width="1.0"/>
<line x1="135.60" y1="479.60" x2="135.60" y2="482.20" stroke="#2e2e2e" stroke-width="1.0"/>
<line x1="143.70" y1="479.60" x2="143.70" y2="482.20" stroke="#2e2e2e" stroke-width="1.0"/>
<line x1="152.40" y1="479.60" x2="152.40" y2="482.20" stroke="#2e2e2e" stroke-width="1.0"/>
<line x1="161.00" y1="479.60" x2="161.00" y2="482.20" stroke="#2e2e2e" stroke-width="1.0"/>
<line x1="169.70" y1="479.60" x2="169.70" y2="482.20" stroke="#2e2e2e" stroke-width="1.0"/>
<line x1="178.90" y1="479.60" x2="178.90" y2="482.20" stroke="#2e2e2e" stroke-width="1.0"/>
<circle cx="126.40" cy="478.82" r="1.1" fill="#1c5482"/>
<circle cx="127.76" cy="477.76" r="1.1" fill="#1c5482"/>
<circle cx="126.40" cy="476.86" r="1.1" fill="#1c5482"/>
<circle cx="127.76" cy="476.04" r="1.1" fill="#1c5482"/>
<circle cx="126.40" cy="475.27" r="1.1" fill="#1c5482"/>
<circle cx="125.04" cy="474.54" r="1.1" fill="#1c5482"/>
<circle cx="127.76" cy="473.84" r="1.1" fill="#1c5482"/>
<circle cx="126.40" cy="473.16" r="1.1" fill="#1c5482"/>
<circle cx="129.12" cy="472.50" r="1.1" fill="#1c5482"/>
<circle cx="125.04" cy="471.86" r="1.1" fill="#1c5482"/>
<circle cx="127.76" cy="471.23" r="1.1" fill="#1c5482"/>
<circle cx="123.68" cy="470.62" r="1.1" fill="#1c5482"/>
<circle cx="126.40" cy="470.02" r="1.1" fill="#1c5482"/>
<circle cx="129.12" cy="469.42" r="1.1" fill="#1c5482"/>
<circle cx="125.04" cy="468.84" r="1.1" fill="#1c5482"/>
<circle cx="127.76" cy="468.27" r="1.1" fill="#1c5482"/>
<circle cx="123.68" cy="467.71" r="1.1" fill="#1c5482"/>
<circle cx="126.40" cy="467.15" r="1.1" fill="#1c5482"/>
<circle cx="129.12" cy="466.60" r="1.1" fill="#1c5482"/>
<circle cx="125.04" cy="466.06" r="1.1" fill="#1c5482"/>
<circle cx="127.76" cy="465.52" r="1.1" fill="#1c5482"/>
<circle cx="123.68" cy="464.99" r="1.1" fill="#1c5482"/>
<circle cx="126.40" cy="464.46" r="1.1" fill="#1c5482"/>
<circle cx="129.12" cy="463.94" r="1.1" fill="#1c5482"/>
<circle cx="125.04" cy="463.43" r="1.1" fill="#1c5482"/>
<circle cx="127.76" cy="462.91" r="1.1" fill="#1c5482"/>
<circle cx="123.68" cy="462.41" r="1.1" fill="#1c5482"/>
<circle cx="126.40" cy="461.91" r="1.1" fill="#1c5482"/>
<circle cx="129.12" cy="461.41" r="1.1" fill="#1c5482"/>
<circle cx="125.04" cy="460.91" r="1.1" fill="#1c5482"/>
<circle cx="127.76" cy="460.42" r="1.1" fill="#1c5482"/>
<circle cx="123.68" cy="459.93" r="1.1" fill="#1c5482"/>
<circle cx="126.40" cy="459.45" r="1.1" fill="#1c5482"/>
<circle cx="129.12" cy="458.97" r="1.1" fill="#1c5482"/>
<circle cx="125.04" cy="458.49" r="1.1" fill="#1c5482"/>
<circle cx="127.76" cy="458.02" r="1.1" fill="#1c5482"/>
<circle cx="123.68" cy="457.55" r="1.1" fill="#1c5482"/>
<circle cx="126.40" cy="457.08" r="1.1" fill="#1c5482"/>
<circle cx="129.12" cy="456.61" r="1.1" fill="#1c5482"/>
<circle cx="125.04" cy="456.15" r="1.1" fill="#1c5482"/>
<circle cx="126.40" cy="450.00" r="1.1" fill="#1c5482"/>
<circle cx="126.40" cy="446.05" r="1.1" fill="#1c5482"/>
<circle cx="126.40" cy="440.13" r="1.1" fill="#1c5482"/>
<line x1="126.40" y1="471.23" x2="126.40" y2="459.45" stroke="#1e1e1e" stroke-width="0.85"/>
<line x1="124.65" y1="471.23" x2="128.15" y2="471.23" stroke="#1e1e1e" stroke-width="0.85"/>
<line x1="124.65" y1="459.45" x2="128.15" y2="459.45" stroke="#1e1e1e" stroke-width="0.85"/>
<line x1="122.90" y1="464.99" x2="129.90" y2="464.99" stroke="#1e1e1e" stroke-width="1.0"/>
<circle cx="135.60" cy="479.36" r="1.1" fill="#c2183a"/>
<circle cx="138.32" cy="478.84" r="1.1" fill="#c2183a"/>
<circle cx="134.24" cy="478.31" r="1.1" fill="#c2183a"/>
<circle cx="136.96" cy="477.76" r="1.1" fill="#c2183a"/>
<circle cx="132.88" cy="477.21" r="1.1" fill="#c2183a"/>
<circle cx="135.60" cy="476.65" r="1.1" fill="#c2183a"/>
<circle cx="138.32" cy="476.08" r="1.1" fill="#c2183a"/>
<circle cx="134.24" cy="475.51" r="1.1" fill="#c2183a"/>
<circle cx="136.96" cy="474.94" r="1.1" fill="#c2183a"/>
<circle cx="132.88" cy="474.36" r="1.1" fill="#c2183a"/>
<circle cx="135.60" cy="473.78" r="1.1" fill="#c2183a"/>
<circle cx="138.32" cy="473.19" r="1.1" fill="#c2183a"/>
<circle cx="134.24" cy="472.61" r="1.1" fill="#c2183a"/>
<circle cx="136.96" cy="472.02" r="1.1" fill="#c2183a"/>
<circle cx="132.88" cy="471.43" r="1.1" fill="#c2183a"/>
<circle cx="135.60" cy="470.84" r="1.1" fill="#c2183a"/>
<circle cx="138.32" cy="470.25" r="1.1" fill="#c2183a"/>
<circle cx="134.24" cy="469.65" r="1.1" fill="#c2183a"/>
<circle cx="136.96" cy="469.05" r="1.1" fill="#c2183a"/>
<circle cx="132.88" cy="468.45" r="1.1" fill="#c2183a"/>
<circle cx="135.60" cy="467.85" r="1.1" fill="#c2183a"/>
<circle cx="138.32" cy="467.25" r="1.1" fill="#c2183a"/>
<circle cx="134.24" cy="466.65" r="1.1" fill="#c2183a"/>
<circle cx="136.96" cy="466.05" r="1.1" fill="#c2183a"/>
<circle cx="132.88" cy="465.44" r="1.1" fill="#c2183a"/>
<circle cx="135.60" cy="464.83" r="1.1" fill="#c2183a"/>
<circle cx="138.32" cy="464.22" r="1.1" fill="#c2183a"/>
<circle cx="134.24" cy="463.62" r="1.1" fill="#c2183a"/>
<circle cx="136.96" cy="463.01" r="1.1" fill="#c2183a"/>
<circle cx="132.88" cy="462.39" r="1.1" fill="#c2183a"/>
<circle cx="135.60" cy="461.78" r="1.1" fill="#c2183a"/>
<circle cx="138.32" cy="461.17" r="1.1" fill="#c2183a"/>
<circle cx="134.24" cy="460.55" r="1.1" fill="#c2183a"/>
<circle cx="136.96" cy="459.94" r="1.1" fill="#c2183a"/>
<circle cx="132.88" cy="459.32" r="1.1" fill="#c2183a"/>
<circle cx="135.60" cy="458.71" r="1.1" fill="#c2183a"/>
<circle cx="138.32" cy="458.09" r="1.1" fill="#c2183a"/>
<circle cx="134.24" cy="457.47" r="1.1" fill="#c2183a"/>
<circle cx="136.96" cy="456.85" r="1.1" fill="#c2183a"/>
<circle cx="132.88" cy="456.23" r="1.1" fill="#c2183a"/>
<circle cx="135.60" cy="451.97" r="1.1" fill="#c2183a"/>
<circle cx="135.60" cy="448.03" r="1.1" fill="#c2183a"/>
<line x1="135.60" y1="473.78" x2="135.60" y2="461.17" stroke="#1e1e1e" stroke-width="0.85"/>
<line x1="133.85" y1="473.78" x2="137.35" y2="473.78" stroke="#1e1e1e" stroke-width="0.85"/>
<line x1="133.85" y1="461.17" x2="137.35" y2="461.17" stroke="#1e1e1e" stroke-width="0.85"/>
<line x1="132.10" y1="467.25" x2="139.10" y2="467.25" stroke="#1e1e1e" stroke-width="1.0"/>
<circle cx="143.70" cy="478.84" r="1.1" fill="#1c5482"/>
<circle cx="143.70" cy="477.31" r="1.1" fill="#1c5482"/>
<circle cx="143.70" cy="475.79" r="1.1" fill="#1c5482"/>
<circle cx="143.70" cy="474.26" r="1.1" fill="#1c5482"/>
<circle cx="143.70" cy="472.74" r="1.1" fill="#1c5482"/>
<circle cx="143.70" cy="471.21" r="1.1" fill="#1c5482"/>
<circle cx="143.70" cy="469.69" r="1.1" fill="#1c5482"/>
<circle cx="143.70" cy="468.16" r="1.1" fill="#1c5482"/>
<circle cx="143.70" cy="466.64" r="1.1" fill="#1c5482"/>
<circle cx="143.70" cy="465.11" r="1.1" fill="#1c5482"/>
<circle cx="143.70" cy="463.59" r="1.1" fill="#1c5482"/>
<circle cx="143.70" cy="462.06" r="1.1" fill="#1c5482"/>
<circle cx="143.70" cy="460.54" r="1.1" fill="#1c5482"/>
<circle cx="143.70" cy="459.01" r="1.1" fill="#1c5482"/>
<circle cx="143.70" cy="457.49" r="1.1" fill="#1c5482"/>
<circle cx="143.70" cy="455.96" r="1.1" fill="#1c5482"/>
<circle cx="143.70" cy="454.44" r="1.1" fill="#1c5482"/>
<circle cx="143.70" cy="452.92" r="1.1" fill="#1c5482"/>
<circle cx="143.70" cy="451.39" r="1.1" fill="#1c5482"/>
<circle cx="143.70" cy="449.87" r="1.1" fill="#1c5482"/>
<circle cx="143.70" cy="448.34" r="1.1" fill="#1c5482"/>
<circle cx="143.70" cy="446.82" r="1.1" fill="#1c5482"/>
<circle cx="143.70" cy="434.21" r="1.1" fill="#1c5482"/>
<line x1="143.70" y1="471.21" x2="143.70" y2="452.92" stroke="#1e1e1e" stroke-width="0.85"/>
<line x1="141.95" y1="471.21" x2="145.45" y2="471.21" stroke="#1e1e1e" stroke-width="0.85"/>
<line x1="141.95" y1="452.92" x2="145.45" y2="452.92" stroke="#1e1e1e" stroke-width="0.85"/>
<line x1="140.20" y1="462.06" x2="147.20" y2="462.06" stroke="#1e1e1e" stroke-width="1.0"/>
<circle cx="152.40" cy="470.56" r="1.1" fill="#1c5482"/>
<circle cx="153.76" cy="469.86" r="1.1" fill="#1c5482"/>
<circle cx="152.40" cy="468.86" r="1.1" fill="#1c5482"/>
<circle cx="153.76" cy="467.64" r="1.1" fill="#1c5482"/>
<circle cx="152.40" cy="466.21" r="1.1" fill="#1c5482"/>
<circle cx="152.40" cy="464.62" r="1.1" fill="#1c5482"/>
<circle cx="152.40" cy="462.87" r="1.1" fill="#1c5482"/>
<circle cx="152.40" cy="460.98" r="1.1" fill="#1c5482"/>
<circle cx="152.40" cy="458.95" r="1.1" fill="#1c5482"/>
<circle cx="152.40" cy="456.80" r="1.1" fill="#1c5482"/>
<circle cx="152.40" cy="454.53" r="1.1" fill="#1c5482"/>
<circle cx="152.40" cy="452.15" r="1.1" fill="#1c5482"/>
<circle cx="152.40" cy="449.66" r="1.1" fill="#1c5482"/>
<circle cx="152.40" cy="447.07" r="1.1" fill="#1c5482"/>
<circle cx="152.40" cy="444.38" r="1.1" fill="#1c5482"/>
<circle cx="152.40" cy="441.59" r="1.1" fill="#1c5482"/>
<circle cx="152.40" cy="438.71" r="1.1" fill="#1c5482"/>
<circle cx="152.40" cy="435.73" r="1.1" fill="#1c5482"/>
<circle cx="152.40" cy="430.27" r="1.1" fill="#1c5482"/>
<line x1="152.40" y1="466.21" x2="152.40" y2="444.38" stroke="#1e1e1e" stroke-width="0.85"/>
<line x1="150.65" y1="466.21" x2="154.15" y2="466.21" stroke="#1e1e1e" stroke-width="0.85"/>
<line x1="150.65" y1="444.38" x2="154.15" y2="444.38" stroke="#1e1e1e" stroke-width="0.85"/>
<line x1="148.90" y1="456.80" x2="155.90" y2="456.80" stroke="#1e1e1e" stroke-width="1.0"/>
<circle cx="161.00" cy="478.60" r="1.1" fill="#c2183a"/>
<circle cx="161.00" cy="476.82" r="1.1" fill="#c2183a"/>
<circle cx="161.00" cy="475.13" r="1.1" fill="#c2183a"/>
<circle cx="161.00" cy="473.48" r="1.1" fill="#c2183a"/>
<circle cx="161.00" cy="471.87" r="1.1" fill="#c2183a"/>
<circle cx="161.00" cy="470.29" r="1.1" fill="#c2183a"/>
<circle cx="161.00" cy="468.72" r="1.1" fill="#c2183a"/>
<circle cx="161.00" cy="467.17" r="1.1" fill="#c2183a"/>
<circle cx="161.00" cy="465.64" r="1.1" fill="#c2183a"/>
<circle cx="161.00" cy="464.12" r="1.1" fill="#c2183a"/>
<circle cx="162.36" cy="462.61" r="1.1" fill="#c2183a"/>
<circle cx="161.00" cy="461.11" r="1.1" fill="#c2183a"/>
<circle cx="162.36" cy="459.62" r="1.1" fill="#c2183a"/>
<circle cx="161.00" cy="458.14" r="1.1" fill="#c2183a"/>
<circle cx="162.36" cy="456.67" r="1.1" fill="#c2183a"/>
<circle cx="161.00" cy="455.20" r="1.1" fill="#c2183a"/>
<circle cx="162.36" cy="453.74" r="1.1" fill="#c2183a"/>
<circle cx="161.00" cy="452.29" r="1.1" fill="#c2183a"/>
<circle cx="162.36" cy="450.84" r="1.1" fill="#c2183a"/>
<circle cx="161.00" cy="449.39" r="1.1" fill="#c2183a"/>
<circle cx="162.36" cy="447.96" r="1.1" fill="#c2183a"/>
<circle cx="161.00" cy="446.52" r="1.1" fill="#c2183a"/>
<circle cx="162.36" cy="445.10" r="1.1" fill="#c2183a"/>
<circle cx="161.00" cy="443.67" r="1.1" fill="#c2183a"/>
<circle cx="162.36" cy="442.25" r="1.1" fill="#c2183a"/>
<circle cx="161.00" cy="440.84" r="1.1" fill="#c2183a"/>
<line x1="161.00" y1="468.72" x2="161.00" y2="449.39" stroke="#1e1e1e" stroke-width="0.85"/>
<line x1="159.25" y1="468.72" x2="162.75" y2="468.72" stroke="#1e1e1e" stroke-width="0.85"/>
<line x1="159.25" y1="449.39" x2="162.75" y2="449.39" stroke="#1e1e1e" stroke-width="0.85"/>
<line x1="157.50" y1="458.14" x2="164.50" y2="458.14" stroke="#1e1e1e" stroke-width="1.0"/>
<circle cx="169.70" cy="472.27" r="1.1" fill="#1c5482"/>
<circle cx="171.06" cy="471.28" r="1.1" fill="#1c5482"/>
<circle cx="169.70" cy="470.21" r="1.1" fill="#1c5482"/>
<circle cx="171.06" cy="469.08" r="1.1" fill="#1c5482"/>
<circle cx="169.70" cy="467.92" r="1.1" fill="#1c5482"/>
<circle cx="171.06" cy="466.74" r="1.1" fill="#1c5482"/>
<circle cx="169.70" cy="465.53" r="1.1" fill="#1c5482"/>
<circle cx="171.06" cy="464.30" r="1.1" fill="#1c5482"/>
<circle cx="169.70" cy="463.05" r="1.1" fill="#1c5482"/>
<circle cx="171.06" cy="461.79" r="1.1" fill="#1c5482"/>
<circle cx="169.70" cy="460.51" r="1.1" fill="#1c5482"/>
<circle cx="171.06" cy="459.22" r="1.1" fill="#1c5482"/>
<circle cx="169.70" cy="457.92" r="1.1" fill="#1c5482"/>
<circle cx="171.06" cy="456.60" r="1.1" fill="#1c5482"/>
<circle cx="169.70" cy="455.28" r="1.1" fill="#1c5482"/>
<circle cx="171.06" cy="453.94" r="1.1" fill="#1c5482"/>
<circle cx="169.70" cy="452.60" r="1.1" fill="#1c5482"/>
<circle cx="171.06" cy="451.25" r="1.1" fill="#1c5482"/>
<circle cx="169.70" cy="449.89" r="1.1" fill="#1c5482"/>
<circle cx="171.06" cy="448.52" r="1.1" fill="#1c5482"/>
<circle cx="169.70" cy="447.14" r="1.1" fill="#1c5482"/>
<circle cx="171.06" cy="445.76" r="1.1" fill="#1c5482"/>
<line x1="169.70" y1="466.74" x2="169.70" y2="452.60" stroke="#1e1e1e" stroke-width="0.85"/>
<line x1="167.95" y1="466.74" x2="171.45" y2="466.74" stroke="#1e1e1e" stroke-width="0.85"/>
<line x1="167.95" y1="452.60" x2="171.45" y2="452.60" stroke="#1e1e1e" stroke-width="0.85"/>
<line x1="166.20" y1="459.22" x2="173.20" y2="459.22" stroke="#1e1e1e" stroke-width="1.0"/>
<circle cx="178.90" cy="473.96" r="1.1" fill="#c2183a"/>
<circle cx="178.90" cy="471.97" r="1.1" fill="#c2183a"/>
<circle cx="178.90" cy="470.36" r="1.1" fill="#c2183a"/>
<circle cx="180.26" cy="468.95" r="1.1" fill="#c2183a"/>
<circle cx="178.90" cy="467.64" r="1.1" fill="#c2183a"/>
<circle cx="180.26" cy="466.42" r="1.1" fill="#c2183a"/>
<circle cx="178.90" cy="465.27" r="1.1" fill="#c2183a"/>
<circle cx="180.26" cy="464.16" r="1.1" fill="#c2183a"/>
<circle cx="178.90" cy="463.10" r="1.1" fill="#c2183a"/>
<circle cx="180.26" cy="462.08" r="1.1" fill="#c2183a"/>
<circle cx="178.90" cy="461.08" r="1.1" fill="#c2183a"/>
<circle cx="180.26" cy="460.11" r="1.1" fill="#c2183a"/>
<circle cx="178.90" cy="459.17" r="1.1" fill="#c2183a"/>
<circle cx="180.26" cy="458.25" r="1.1" fill="#c2183a"/>
<circle cx="178.90" cy="457.35" r="1.1" fill="#c2183a"/>
<circle cx="180.26" cy="456.47" r="1.1" fill="#c2183a"/>
<circle cx="178.90" cy="455.60" r="1.1" fill="#c2183a"/>
<circle cx="180.26" cy="454.75" r="1.1" fill="#c2183a"/>
<circle cx="178.90" cy="453.91" r="1.1" fill="#c2183a"/>
<circle cx="180.26" cy="453.09" r="1.1" fill="#c2183a"/>
<circle cx="178.90" cy="452.28" r="1.1" fill="#c2183a"/>
<circle cx="180.26" cy="451.48" r="1.1" fill="#c2183a"/>
<circle cx="178.90" cy="450.69" r="1.1" fill="#c2183a"/>
<circle cx="180.26" cy="449.91" r="1.1" fill="#c2183a"/>
<circle cx="178.90" cy="449.14" r="1.1" fill="#c2183a"/>
<circle cx="180.26" cy="448.38" r="1.1" fill="#c2183a"/>
<circle cx="177.54" cy="447.63" r="1.1" fill="#c2183a"/>
<circle cx="178.90" cy="446.89" r="1.1" fill="#c2183a"/>
<circle cx="180.26" cy="446.15" r="1.1" fill="#c2183a"/>
<circle cx="177.54" cy="445.43" r="1.1" fill="#c2183a"/>
<line x1="178.90" y1="464.16" x2="178.90" y2="450.69" stroke="#1e1e1e" stroke-width="0.85"/>
<line x1="177.15" y1="464.16" x2="180.65" y2="464.16" stroke="#1e1e1e" stroke-width="0.85"/>
<line x1="177.15" y1="450.69" x2="180.65" y2="450.69" stroke="#1e1e1e" stroke-width="0.85"/>
<line x1="175.40" y1="456.47" x2="182.40" y2="456.47" stroke="#1e1e1e" stroke-width="1.0"/>
<text x="135.10" y="413.20" font-size="8.7" textLength="36.3" lengthAdjust="spacingAndGlyphs">% CD4 T<tspan dy="1.8" font-size="6">n</tspan></text>
<text x="128.80" y="489.00" font-size="6.6" text-anchor="end" transform="rotate(-45 128.80 489.00)" textLength="32" lengthAdjust="spacingAndGlyphs">DLBCL ND</text>
<text x="138.00" y="489.00" font-size="6.6" text-anchor="end" transform="rotate(-45 138.00 489.00)" textLength="31" lengthAdjust="spacingAndGlyphs">DLBCL CR</text>
<text x="146.10" y="489.00" font-size="6.6" text-anchor="end" transform="rotate(-45 146.10 489.00)" textLength="28.5" lengthAdjust="spacingAndGlyphs">CLL w&amp;w</text>
<text x="154.80" y="489.00" font-size="6.6" text-anchor="end" transform="rotate(-45 154.80 489.00)" textLength="27" lengthAdjust="spacingAndGlyphs">AML ND</text>
<text x="163.40" y="489.00" font-size="6.6" text-anchor="end" transform="rotate(-45 163.40 489.00)" textLength="26.5" lengthAdjust="spacingAndGlyphs">AML CR</text>
<text x="172.10" y="489.00" font-size="6.6" text-anchor="end" transform="rotate(-45 172.10 489.00)" textLength="22" lengthAdjust="spacingAndGlyphs">BC ND</text>
<text x="181.30" y="489.00" font-size="6.6" text-anchor="end" transform="rotate(-45 181.30 489.00)" textLength="21" lengthAdjust="spacingAndGlyphs">BC CR</text>
<rect x="203.50" y="420.10" width="27.50" height="59.50" fill="#d2d2d2"/>
<polyline points="209.3,426.5 209.3,423.0 248.5,423.0 248.5,452.8" fill="none" stroke="#606060" stroke-width="0.85"/>
<polyline points="217.4,432 217.4,428.8 248.5,428.8" fill="none" stroke="#606060" stroke-width="0.85"/>
<polyline points="226.2,440 226.2,435.9 248.5,435.9" fill="none" stroke="#606060" stroke-width="0.85"/>
<polyline points="234.3,455.5 234.3,452.8 263,452.8 263,455.5" fill="none" stroke="#606060" stroke-width="0.85"/>
<text x="229.30" y="422.20" font-size="6.8" text-anchor="middle">****</text>
<text x="233.20" y="429.20" font-size="6.8" text-anchor="middle">***</text>
<text x="237.70" y="435.70" font-size="6.8" text-anchor="middle">****</text>
<line x1="202.80" y1="417.70" x2="202.80" y2="480.10" stroke="#2e2e2e" stroke-width="1.15"/>
<line x1="200.00" y1="479.60" x2="266.00" y2="479.60" stroke="#2e2e2e" stroke-width="1.15"/>
<text x="196.60" y="481.90" font-size="6.4" text-anchor="end" textLength="3.3" lengthAdjust="spacingAndGlyphs">0</text>
<line x1="199.90" y1="459.87" x2="202.80" y2="459.87" stroke="#2e2e2e" stroke-width="1.0"/>
<text x="196.60" y="462.17" font-size="6.4" text-anchor="end" textLength="3.3" lengthAdjust="spacingAndGlyphs">5</text>
<line x1="199.90" y1="440.13" x2="202.80" y2="440.13" stroke="#2e2e2e" stroke-width="1.0"/>
<text x="196.60" y="442.44" font-size="6.4" text-anchor="end" textLength="6.6" lengthAdjust="spacingAndGlyphs">10</text>
<line x1="199.90" y1="420.40" x2="202.80" y2="420.40" stroke="#2e2e2e" stroke-width="1.0"/>
<text x="196.60" y="422.70" font-size="6.4" text-anchor="end" textLength="6.6" lengthAdjust="spacingAndGlyphs">15</text>
<line x1="208.90" y1="479.60" x2="208.90" y2="482.20" stroke="#2e2e2e" stroke-width="1.0"/>
<line x1="217.40" y1="479.60" x2="217.40" y2="482.20" stroke="#2e2e2e" stroke-width="1.0"/>
<line x1="226.20" y1="479.60" x2="226.20" y2="482.20" stroke="#2e2e2e" stroke-width="1.0"/>
<line x1="235.00" y1="479.60" x2="235.00" y2="482.20" stroke="#2e2e2e" stroke-width="1.0"/>
<line x1="244.00" y1="479.60" x2="244.00" y2="482.20" stroke="#2e2e2e" stroke-width="1.0"/>
<line x1="252.50" y1="479.60" x2="252.50" y2="482.20" stroke="#2e2e2e" stroke-width="1.0"/>
<line x1="261.00" y1="479.60" x2="261.00" y2="482.20" stroke="#2e2e2e" stroke-width="1.0"/>
<circle cx="208.90" cy="478.65" r="1.1" fill="#1c5482"/>
<circle cx="210.26" cy="477.84" r="1.1" fill="#1c5482"/>
<circle cx="207.54" cy="477.26" r="1.1" fill="#1c5482"/>
<circle cx="211.62" cy="476.77" r="1.1" fill="#1c5482"/>
<circle cx="208.90" cy="476.34" r="1.1" fill="#1c5482"/>
<circle cx="206.18" cy="475.96" r="1.1" fill="#1c5482"/>
<circle cx="210.26" cy="475.60" r="1.1" fill="#1c5482"/>
<circle cx="207.54" cy="475.27" r="1.1" fill="#1c5482"/>
<circle cx="208.17" cy="474.95" r="1.1" fill="#1c5482"/>
<circle cx="211.62" cy="474.66" r="1.1" fill="#1c5482"/>
<circle cx="206.18" cy="474.37" r="1.1" fill="#1c5482"/>
<circle cx="208.07" cy="474.10" r="1.1" fill="#1c5482"/>
<circle cx="210.26" cy="473.84" r="1.1" fill="#1c5482"/>
<circle cx="206.54" cy="473.58" r="1.1" fill="#1c5482"/>
<circle cx="210.93" cy="473.34" r="1.1" fill="#1c5482"/>
<circle cx="209.45" cy="473.10" r="1.1" fill="#1c5482"/>
<circle cx="207.94" cy="472.87" r="1.1" fill="#1c5482"/>
<circle cx="208.98" cy="472.64" r="1.1" fill="#1c5482"/>
<circle cx="207.36" cy="472.42" r="1.1" fill="#1c5482"/>
<circle cx="210.89" cy="472.21" r="1.1" fill="#1c5482"/>
<circle cx="207.69" cy="472.00" r="1.1" fill="#1c5482"/>
<circle cx="209.20" cy="471.79" r="1.1" fill="#1c5482"/>
<circle cx="209.70" cy="471.59" r="1.1" fill="#1c5482"/>
<circle cx="206.18" cy="471.39" r="1.1" fill="#1c5482"/>
<circle cx="207.23" cy="471.20" r="1.1" fill="#1c5482"/>
<circle cx="206.61" cy="471.01" r="1.1" fill="#1c5482"/>
<circle cx="211.62" cy="470.82" r="1.1" fill="#1c5482"/>
<circle cx="208.11" cy="470.64" r="1.1" fill="#1c5482"/>
<circle cx="210.68" cy="470.46" r="1.1" fill="#1c5482"/>
<circle cx="211.33" cy="470.28" r="1.1" fill="#1c5482"/>
<circle cx="208.49" cy="470.10" r="1.1" fill="#1c5482"/>
<circle cx="208.19" cy="469.93" r="1.1" fill="#1c5482"/>
<circle cx="211.18" cy="469.76" r="1.1" fill="#1c5482"/>
<circle cx="208.85" cy="469.59" r="1.1" fill="#1c5482"/>
<circle cx="206.18" cy="469.43" r="1.1" fill="#1c5482"/>
<circle cx="207.83" cy="469.26" r="1.1" fill="#1c5482"/>
<circle cx="209.36" cy="469.10" r="1.1" fill="#1c5482"/>
<circle cx="207.43" cy="468.94" r="1.1" fill="#1c5482"/>
<circle cx="209.46" cy="468.78" r="1.1" fill="#1c5482"/>
<circle cx="207.01" cy="468.63" r="1.1" fill="#1c5482"/>
<circle cx="208.90" cy="465.79" r="1.1" fill="#1c5482"/>
<circle cx="208.90" cy="463.02" r="1.1" fill="#1c5482"/>
<circle cx="208.90" cy="459.87" r="1.1" fill="#1c5482"/>
<circle cx="208.90" cy="455.53" r="1.1" fill="#1c5482"/>
<circle cx="208.90" cy="439.34" r="1.1" fill="#1c5482"/>
<circle cx="208.90" cy="427.11" r="1.1" fill="#1c5482"/>
<line x1="208.90" y1="474.10" x2="208.90" y2="469.43" stroke="#1e1e1e" stroke-width="0.85"/>
<line x1="207.15" y1="474.10" x2="210.65" y2="474.10" stroke="#1e1e1e" stroke-width="0.85"/>
<line x1="207.15" y1="469.43" x2="210.65" y2="469.43" stroke="#1e1e1e" stroke-width="0.85"/>
<line x1="205.40" y1="471.39" x2="212.40" y2="471.39" stroke="#1e1e1e" stroke-width="1.0"/>
<circle cx="217.40" cy="477.93" r="1.1" fill="#c2183a"/>
<circle cx="218.76" cy="477.09" r="1.1" fill="#c2183a"/>
<circle cx="216.04" cy="476.56" r="1.1" fill="#c2183a"/>
<circle cx="220.12" cy="476.15" r="1.1" fill="#c2183a"/>
<circle cx="217.40" cy="475.82" r="1.1" fill="#c2183a"/>
<circle cx="214.68" cy="475.52" r="1.1" fill="#c2183a"/>
<circle cx="216.39" cy="475.26" r="1.1" fill="#c2183a"/>
<circle cx="218.76" cy="475.03" r="1.1" fill="#c2183a"/>
<circle cx="218.30" cy="474.81" r="1.1" fill="#c2183a"/>
<circle cx="215.78" cy="474.60" r="1.1" fill="#c2183a"/>
<circle cx="218.62" cy="474.42" r="1.1" fill="#c2183a"/>
<circle cx="216.45" cy="474.24" r="1.1" fill="#c2183a"/>
<circle cx="220.12" cy="474.07" r="1.1" fill="#c2183a"/>
<circle cx="216.63" cy="473.91" r="1.1" fill="#c2183a"/>
<circle cx="219.97" cy="473.75" r="1.1" fill="#c2183a"/>
<circle cx="218.10" cy="473.61" r="1.1" fill="#c2183a"/>
<circle cx="214.68" cy="473.47" r="1.1" fill="#c2183a"/>
<circle cx="218.35" cy="473.33" r="1.1" fill="#c2183a"/>
<circle cx="217.78" cy="473.20" r="1.1" fill="#c2183a"/>
<circle cx="217.41" cy="473.07" r="1.1" fill="#c2183a"/>
<circle cx="219.06" cy="472.95" r="1.1" fill="#c2183a"/>
<circle cx="219.62" cy="472.83" r="1.1" fill="#c2183a"/>
<circle cx="217.76" cy="472.72" r="1.1" fill="#c2183a"/>
<circle cx="219.08" cy="472.60" r="1.1" fill="#c2183a"/>
<circle cx="214.76" cy="472.49" r="1.1" fill="#c2183a"/>
<circle cx="220.02" cy="472.39" r="1.1" fill="#c2183a"/>
<circle cx="215.54" cy="472.28" r="1.1" fill="#c2183a"/>
<circle cx="217.22" cy="472.18" r="1.1" fill="#c2183a"/>
<circle cx="214.66" cy="472.08" r="1.1" fill="#c2183a"/>
<circle cx="217.90" cy="471.99" r="1.1" fill="#c2183a"/>
<circle cx="215.66" cy="471.89" r="1.1" fill="#c2183a"/>
<circle cx="217.59" cy="471.80" r="1.1" fill="#c2183a"/>
<circle cx="218.96" cy="471.71" r="1.1" fill="#c2183a"/>
<circle cx="218.73" cy="471.62" r="1.1" fill="#c2183a"/>
<circle cx="217.25" cy="471.53" r="1.1" fill="#c2183a"/>
<circle cx="214.97" cy="471.44" r="1.1" fill="#c2183a"/>
<circle cx="216.88" cy="471.36" r="1.1" fill="#c2183a"/>
<circle cx="217.53" cy="471.28" r="1.1" fill="#c2183a"/>
<circle cx="215.35" cy="471.19" r="1.1" fill="#c2183a"/>
<circle cx="217.44" cy="471.11" r="1.1" fill="#c2183a"/>
<circle cx="216.46" cy="471.03" r="1.1" fill="#c2183a"/>
<circle cx="218.95" cy="470.96" r="1.1" fill="#c2183a"/>
<circle cx="217.40" cy="467.76" r="1.1" fill="#c2183a"/>
<circle cx="217.40" cy="465.79" r="1.1" fill="#c2183a"/>
<circle cx="217.40" cy="455.92" r="1.1" fill="#c2183a"/>
<circle cx="217.40" cy="451.97" r="1.1" fill="#c2183a"/>
<circle cx="217.40" cy="448.03" r="1.1" fill="#c2183a"/>
<circle cx="217.40" cy="442.11" r="1.1" fill="#c2183a"/>
<line x1="217.40" y1="474.07" x2="217.40" y2="471.36" stroke="#1e1e1e" stroke-width="0.85"/>
<line x1="215.65" y1="474.07" x2="219.15" y2="474.07" stroke="#1e1e1e" stroke-width="0.85"/>
<line x1="215.65" y1="471.36" x2="219.15" y2="471.36" stroke="#1e1e1e" stroke-width="0.85"/>
<line x1="213.90" y1="472.49" x2="220.90" y2="472.49" stroke="#1e1e1e" stroke-width="1.0"/>
<circle cx="226.20" cy="477.13" r="1.1" fill="#1c5482"/>
<circle cx="227.56" cy="476.26" r="1.1" fill="#1c5482"/>
<circle cx="226.20" cy="475.44" r="1.1" fill="#1c5482"/>
<circle cx="227.56" cy="474.64" r="1.1" fill="#1c5482"/>
<circle cx="226.20" cy="473.86" r="1.1" fill="#1c5482"/>
<circle cx="227.56" cy="473.09" r="1.1" fill="#1c5482"/>
<circle cx="226.20" cy="472.34" r="1.1" fill="#1c5482"/>
<circle cx="224.84" cy="471.59" r="1.1" fill="#1c5482"/>
<circle cx="227.56" cy="470.85" r="1.1" fill="#1c5482"/>
<circle cx="226.20" cy="470.12" r="1.1" fill="#1c5482"/>
<circle cx="224.84" cy="469.39" r="1.1" fill="#1c5482"/>
<circle cx="227.56" cy="468.67" r="1.1" fill="#1c5482"/>
<circle cx="226.20" cy="467.95" r="1.1" fill="#1c5482"/>
<circle cx="224.84" cy="467.24" r="1.1" fill="#1c5482"/>
<circle cx="227.56" cy="466.53" r="1.1" fill="#1c5482"/>
<circle cx="226.20" cy="465.83" r="1.1" fill="#1c5482"/>
<circle cx="224.84" cy="465.13" r="1.1" fill="#1c5482"/>
<circle cx="227.56" cy="464.43" r="1.1" fill="#1c5482"/>
<circle cx="226.20" cy="463.74" r="1.1" fill="#1c5482"/>
<circle cx="224.84" cy="463.04" r="1.1" fill="#1c5482"/>
<circle cx="227.56" cy="462.35" r="1.1" fill="#1c5482"/>
<circle cx="226.20" cy="461.67" r="1.1" fill="#1c5482"/>
<circle cx="224.84" cy="460.98" r="1.1" fill="#1c5482"/>
<circle cx="227.56" cy="460.30" r="1.1" fill="#1c5482"/>
<circle cx="226.20" cy="459.62" r="1.1" fill="#1c5482"/>
<circle cx="224.84" cy="458.94" r="1.1" fill="#1c5482"/>
<circle cx="227.56" cy="458.27" r="1.1" fill="#1c5482"/>
<circle cx="223.48" cy="457.60" r="1.1" fill="#1c5482"/>
<circle cx="226.20" cy="456.92" r="1.1" fill="#1c5482"/>
<circle cx="228.92" cy="456.25" r="1.1" fill="#1c5482"/>
<circle cx="226.20" cy="452.76" r="1.1" fill="#1c5482"/>
<circle cx="227.56" cy="451.97" r="1.1" fill="#1c5482"/>
<line x1="226.20" y1="470.85" x2="226.20" y2="459.62" stroke="#1e1e1e" stroke-width="0.85"/>
<line x1="224.45" y1="470.85" x2="227.95" y2="470.85" stroke="#1e1e1e" stroke-width="0.85"/>
<line x1="224.45" y1="459.62" x2="227.95" y2="459.62" stroke="#1e1e1e" stroke-width="0.85"/>
<line x1="222.70" y1="465.13" x2="229.70" y2="465.13" stroke="#1e1e1e" stroke-width="1.0"/>
<circle cx="235.00" cy="479.59" r="1.1" fill="#1c5482"/>
<circle cx="237.72" cy="479.52" r="1.1" fill="#1c5482"/>
<circle cx="232.28" cy="479.41" r="1.1" fill="#1c5482"/>
<circle cx="235.47" cy="479.28" r="1.1" fill="#1c5482"/>
<circle cx="233.34" cy="479.12" r="1.1" fill="#1c5482"/>
<circle cx="236.29" cy="478.94" r="1.1" fill="#1c5482"/>
<circle cx="234.26" cy="478.74" r="1.1" fill="#1c5482"/>
<circle cx="237.68" cy="478.52" r="1.1" fill="#1c5482"/>
<circle cx="234.47" cy="478.29" r="1.1" fill="#1c5482"/>
<circle cx="236.60" cy="478.04" r="1.1" fill="#1c5482"/>
<circle cx="232.28" cy="477.77" r="1.1" fill="#1c5482"/>
<circle cx="237.44" cy="477.48" r="1.1" fill="#1c5482"/>
<circle cx="236.38" cy="477.18" r="1.1" fill="#1c5482"/>
<circle cx="233.64" cy="476.87" r="1.1" fill="#1c5482"/>
<circle cx="233.17" cy="476.54" r="1.1" fill="#1c5482"/>
<circle cx="234.17" cy="476.20" r="1.1" fill="#1c5482"/>
<circle cx="237.72" cy="475.85" r="1.1" fill="#1c5482"/>
<circle cx="235.36" cy="475.48" r="1.1" fill="#1c5482"/>
<circle cx="232.28" cy="475.10" r="1.1" fill="#1c5482"/>
<circle cx="234.40" cy="474.71" r="1.1" fill="#1c5482"/>
<circle cx="236.36" cy="474.31" r="1.1" fill="#1c5482"/>
<circle cx="235.16" cy="473.89" r="1.1" fill="#1c5482"/>
<circle cx="236.36" cy="472.50" r="1.1" fill="#1c5482"/>
<line x1="235.00" y1="478.94" x2="235.00" y2="475.48" stroke="#1e1e1e" stroke-width="0.85"/>
<line x1="233.25" y1="478.94" x2="236.75" y2="478.94" stroke="#1e1e1e" stroke-width="0.85"/>
<line x1="233.25" y1="475.48" x2="236.75" y2="475.48" stroke="#1e1e1e" stroke-width="0.85"/>
<line x1="231.50" y1="477.48" x2="238.50" y2="477.48" stroke="#1e1e1e" stroke-width="1.0"/>
<circle cx="244.00" cy="479.13" r="1.1" fill="#c2183a"/>
<circle cx="246.72" cy="478.95" r="1.1" fill="#c2183a"/>
<circle cx="241.28" cy="478.75" r="1.1" fill="#c2183a"/>
<circle cx="241.32" cy="478.55" r="1.1" fill="#c2183a"/>
<circle cx="245.56" cy="478.34" r="1.1" fill="#c2183a"/>
<circle cx="243.88" cy="478.12" r="1.1" fill="#c2183a"/>
<circle cx="246.60" cy="477.90" r="1.1" fill="#c2183a"/>
<circle cx="244.71" cy="477.68" r="1.1" fill="#c2183a"/>
<circle cx="243.97" cy="477.45" r="1.1" fill="#c2183a"/>
<circle cx="245.70" cy="477.22" r="1.1" fill="#c2183a"/>
<circle cx="241.28" cy="476.99" r="1.1" fill="#c2183a"/>
<circle cx="244.92" cy="476.76" r="1.1" fill="#c2183a"/>
<circle cx="241.93" cy="476.52" r="1.1" fill="#c2183a"/>
<circle cx="242.75" cy="476.28" r="1.1" fill="#c2183a"/>
<circle cx="246.72" cy="476.04" r="1.1" fill="#c2183a"/>
<circle cx="246.29" cy="475.80" r="1.1" fill="#c2183a"/>
<circle cx="241.37" cy="475.56" r="1.1" fill="#c2183a"/>
<circle cx="244.00" cy="475.31" r="1.1" fill="#c2183a"/>
<circle cx="243.62" cy="475.06" r="1.1" fill="#c2183a"/>
<circle cx="246.51" cy="474.81" r="1.1" fill="#c2183a"/>
<circle cx="243.04" cy="474.56" r="1.1" fill="#c2183a"/>
<circle cx="241.62" cy="474.31" r="1.1" fill="#c2183a"/>
<circle cx="242.05" cy="474.06" r="1.1" fill="#c2183a"/>
<circle cx="245.36" cy="473.81" r="1.1" fill="#c2183a"/>
<circle cx="244.00" cy="469.73" r="1.1" fill="#c2183a"/>
<line x1="244.00" y1="477.90" x2="244.00" y2="475.06" stroke="#1e1e1e" stroke-width="0.85"/>
<line x1="242.25" y1="477.90" x2="245.75" y2="477.90" stroke="#1e1e1e" stroke-width="0.85"/>
<line x1="242.25" y1="475.06" x2="245.75" y2="475.06" stroke="#1e1e1e" stroke-width="0.85"/>
<line x1="240.50" y1="476.52" x2="247.50" y2="476.52" stroke="#1e1e1e" stroke-width="1.0"/>
<circle cx="252.50" cy="479.46" r="1.1" fill="#1c5482"/>
<circle cx="255.22" cy="479.16" r="1.1" fill="#1c5482"/>
<circle cx="249.78" cy="478.84" r="1.1" fill="#1c5482"/>
<circle cx="254.44" cy="478.51" r="1.1" fill="#1c5482"/>
<circle cx="253.18" cy="478.18" r="1.1" fill="#1c5482"/>
<circle cx="251.14" cy="477.84" r="1.1" fill="#1c5482"/>
<circle cx="252.49" cy="477.50" r="1.1" fill="#1c5482"/>
<circle cx="255.22" cy="477.15" r="1.1" fill="#1c5482"/>
<circle cx="249.78" cy="476.81" r="1.1" fill="#1c5482"/>
<circle cx="253.86" cy="476.46" r="1.1" fill="#1c5482"/>
<circle cx="251.14" cy="476.11" r="1.1" fill="#1c5482"/>
<circle cx="252.76" cy="475.75" r="1.1" fill="#1c5482"/>
<circle cx="255.22" cy="475.40" r="1.1" fill="#1c5482"/>
<circle cx="249.78" cy="475.04" r="1.1" fill="#1c5482"/>
<circle cx="253.86" cy="474.68" r="1.1" fill="#1c5482"/>
<circle cx="251.14" cy="474.33" r="1.1" fill="#1c5482"/>
<circle cx="249.83" cy="473.96" r="1.1" fill="#1c5482"/>
<circle cx="252.50" cy="473.60" r="1.1" fill="#1c5482"/>
<circle cx="255.22" cy="473.24" r="1.1" fill="#1c5482"/>
<circle cx="250.69" cy="472.87" r="1.1" fill="#1c5482"/>
<circle cx="253.86" cy="472.51" r="1.1" fill="#1c5482"/>
<circle cx="252.89" cy="472.14" r="1.1" fill="#1c5482"/>
<circle cx="250.45" cy="471.77" r="1.1" fill="#1c5482"/>
<circle cx="255.22" cy="471.40" r="1.1" fill="#1c5482"/>
<circle cx="249.83" cy="471.03" r="1.1" fill="#1c5482"/>
<circle cx="252.50" cy="470.66" r="1.1" fill="#1c5482"/>
<circle cx="253.79" cy="470.29" r="1.1" fill="#1c5482"/>
<circle cx="251.14" cy="469.92" r="1.1" fill="#1c5482"/>
<circle cx="252.50" cy="467.76" r="1.1" fill="#1c5482"/>
<circle cx="252.50" cy="464.60" r="1.1" fill="#1c5482"/>
<line x1="252.50" y1="477.15" x2="252.50" y2="471.77" stroke="#1e1e1e" stroke-width="0.85"/>
<line x1="250.75" y1="477.15" x2="254.25" y2="477.15" stroke="#1e1e1e" stroke-width="0.85"/>
<line x1="250.75" y1="471.77" x2="254.25" y2="471.77" stroke="#1e1e1e" stroke-width="0.85"/>
<line x1="249.00" y1="474.33" x2="256.00" y2="474.33" stroke="#1e1e1e" stroke-width="1.0"/>
<circle cx="261.00" cy="477.50" r="1.1" fill="#c2183a"/>
<circle cx="263.72" cy="477.26" r="1.1" fill="#c2183a"/>
<circle cx="258.28" cy="477.01" r="1.1" fill="#c2183a"/>
<circle cx="260.48" cy="476.76" r="1.1" fill="#c2183a"/>
<circle cx="262.36" cy="476.52" r="1.1" fill="#c2183a"/>
<circle cx="258.85" cy="476.27" r="1.1" fill="#c2183a"/>
<circle cx="261.45" cy="476.02" r="1.1" fill="#c2183a"/>
<circle cx="262.13" cy="475.78" r="1.1" fill="#c2183a"/>
<circle cx="263.72" cy="475.53" r="1.1" fill="#c2183a"/>
<circle cx="259.31" cy="475.28" r="1.1" fill="#c2183a"/>
<circle cx="261.52" cy="475.04" r="1.1" fill="#c2183a"/>
<circle cx="262.32" cy="474.79" r="1.1" fill="#c2183a"/>
<circle cx="258.99" cy="474.54" r="1.1" fill="#c2183a"/>
<circle cx="260.46" cy="474.30" r="1.1" fill="#c2183a"/>
<circle cx="258.78" cy="474.05" r="1.1" fill="#c2183a"/>
<circle cx="263.72" cy="473.80" r="1.1" fill="#c2183a"/>
<circle cx="260.28" cy="473.56" r="1.1" fill="#c2183a"/>
<circle cx="260.00" cy="473.31" r="1.1" fill="#c2183a"/>
<circle cx="262.36" cy="473.06" r="1.1" fill="#c2183a"/>
<circle cx="262.82" cy="472.82" r="1.1" fill="#c2183a"/>
<circle cx="258.28" cy="472.57" r="1.1" fill="#c2183a"/>
<circle cx="261.97" cy="472.32" r="1.1" fill="#c2183a"/>
<circle cx="262.28" cy="472.08" r="1.1" fill="#c2183a"/>
<circle cx="259.64" cy="471.83" r="1.1" fill="#c2183a"/>
<circle cx="263.72" cy="471.58" r="1.1" fill="#c2183a"/>
<circle cx="260.65" cy="471.34" r="1.1" fill="#c2183a"/>
<circle cx="259.27" cy="471.09" r="1.1" fill="#c2183a"/>
<circle cx="262.32" cy="470.84" r="1.1" fill="#c2183a"/>
<circle cx="261.35" cy="470.60" r="1.1" fill="#c2183a"/>
<circle cx="260.90" cy="470.35" r="1.1" fill="#c2183a"/>
<circle cx="259.05" cy="470.10" r="1.1" fill="#c2183a"/>
<circle cx="263.72" cy="469.86" r="1.1" fill="#c2183a"/>
<line x1="261.00" y1="475.53" x2="261.00" y2="471.58" stroke="#1e1e1e" stroke-width="0.85"/>
<line x1="259.25" y1="475.53" x2="262.75" y2="475.53" stroke="#1e1e1e" stroke-width="0.85"/>
<line x1="259.25" y1="471.58" x2="262.75" y2="471.58" stroke="#1e1e1e" stroke-width="0.85"/>
<line x1="257.50" y1="473.56" x2="264.50" y2="473.56" stroke="#1e1e1e" stroke-width="1.0"/>
<text x="202.70" y="413.20" font-size="8.7" textLength="64.6" lengthAdjust="spacingAndGlyphs">% CD4 HLA-DR+</text>
<text x="211.30" y="489.00" font-size="6.6" text-anchor="end" transform="rotate(-45 211.30 489.00)" textLength="32" lengthAdjust="spacingAndGlyphs">DLBCL ND</text>
<text x="219.80" y="489.00" font-size="6.6" text-anchor="end" transform="rotate(-45 219.80 489.00)" textLength="31" lengthAdjust="spacingAndGlyphs">DLBCL CR</text>
<text x="228.60" y="489.00" font-size="6.6" text-anchor="end" transform="rotate(-45 228.60 489.00)" textLength="28.5" lengthAdjust="spacingAndGlyphs">CLL w&amp;w</text>
<text x="237.40" y="489.00" font-size="6.6" text-anchor="end" transform="rotate(-45 237.40 489.00)" textLength="27" lengthAdjust="spacingAndGlyphs">AML ND</text>
<text x="246.40" y="489.00" font-size="6.6" text-anchor="end" transform="rotate(-45 246.40 489.00)" textLength="26.5" lengthAdjust="spacingAndGlyphs">AML CR</text>
<text x="254.90" y="489.00" font-size="6.6" text-anchor="end" transform="rotate(-45 254.90 489.00)" textLength="22" lengthAdjust="spacingAndGlyphs">BC ND</text>
<text x="263.40" y="489.00" font-size="6.6" text-anchor="end" transform="rotate(-45 263.40 489.00)" textLength="21" lengthAdjust="spacingAndGlyphs">BC CR</text>
<rect x="285.90" y="420.10" width="17.90" height="59.50" fill="#d2d2d2"/>
<rect x="330.40" y="420.10" width="18.40" height="59.50" fill="#d2d2d2"/>
<polyline points="290.5,430 290.5,426.8 326.4,426.8 326.4,430" fill="none" stroke="#606060" stroke-width="0.85"/>
<polyline points="308.3,426.8 308.3,419.1 343,419.1 343,434" fill="none" stroke="#606060" stroke-width="0.85"/>
<polyline points="308.3,424.7 333.8,424.7 333.8,428" fill="none" stroke="#606060" stroke-width="0.85"/>
<text x="321.70" y="425.90" font-size="6.8" text-anchor="middle">****</text>
<text x="325.80" y="419.50" font-size="6.8" text-anchor="middle">****</text>
<line x1="284.40" y1="417.70" x2="284.40" y2="480.10" stroke="#2e2e2e" stroke-width="1.15"/>
<line x1="281.60" y1="479.60" x2="349.00" y2="479.60" stroke="#2e2e2e" stroke-width="1.15"/>
<text x="278.50" y="481.90" font-size="6.4" text-anchor="end" textLength="3.3" lengthAdjust="spacingAndGlyphs">0</text>
<line x1="281.50" y1="467.76" x2="284.40" y2="467.76" stroke="#2e2e2e" stroke-width="1.0"/>
<text x="278.50" y="470.06" font-size="6.4" text-anchor="end" textLength="3.3" lengthAdjust="spacingAndGlyphs">1</text>
<line x1="281.50" y1="455.92" x2="284.40" y2="455.92" stroke="#2e2e2e" stroke-width="1.0"/>
<text x="278.50" y="458.22" font-size="6.4" text-anchor="end" textLength="3.3" lengthAdjust="spacingAndGlyphs">2</text>
<line x1="281.50" y1="444.08" x2="284.40" y2="444.08" stroke="#2e2e2e" stroke-width="1.0"/>
<text x="278.50" y="446.38" font-size="6.4" text-anchor="end" textLength="3.3" lengthAdjust="spacingAndGlyphs">3</text>
<line x1="281.50" y1="432.24" x2="284.40" y2="432.24" stroke="#2e2e2e" stroke-width="1.0"/>
<text x="278.50" y="434.54" font-size="6.4" text-anchor="end" textLength="3.3" lengthAdjust="spacingAndGlyphs">4</text>
<line x1="281.50" y1="420.40" x2="284.40" y2="420.40" stroke="#2e2e2e" stroke-width="1.0"/>
<text x="278.50" y="422.70" font-size="6.4" text-anchor="end" textLength="3.3" lengthAdjust="spacingAndGlyphs">5</text>
<line x1="290.30" y1="479.60" x2="290.30" y2="482.20" stroke="#2e2e2e" stroke-width="1.0"/>
<line x1="299.20" y1="479.60" x2="299.20" y2="482.20" stroke="#2e2e2e" stroke-width="1.0"/>
<line x1="308.50" y1="479.60" x2="308.50" y2="482.20" stroke="#2e2e2e" stroke-width="1.0"/>
<line x1="316.50" y1="479.60" x2="316.50" y2="482.20" stroke="#2e2e2e" stroke-width="1.0"/>
<line x1="325.80" y1="479.60" x2="325.80" y2="482.20" stroke="#2e2e2e" stroke-width="1.0"/>
<line x1="334.30" y1="479.60" x2="334.30" y2="482.20" stroke="#2e2e2e" stroke-width="1.0"/>
<line x1="343.10" y1="479.60" x2="343.10" y2="482.20" stroke="#2e2e2e" stroke-width="1.0"/>
<circle cx="290.30" cy="479.59" r="1.1" fill="#1c5482"/>
<circle cx="293.02" cy="479.51" r="1.1" fill="#1c5482"/>
<circle cx="287.58" cy="479.36" r="1.1" fill="#1c5482"/>
<circle cx="291.44" cy="479.16" r="1.1" fill="#1c5482"/>
<circle cx="288.39" cy="478.90" r="1.1" fill="#1c5482"/>
<circle cx="290.43" cy="478.58" r="1.1" fill="#1c5482"/>
<circle cx="291.98" cy="478.21" r="1.1" fill="#1c5482"/>
<circle cx="289.82" cy="477.80" r="1.1" fill="#1c5482"/>
<circle cx="287.58" cy="477.33" r="1.1" fill="#1c5482"/>
<circle cx="293.02" cy="476.81" r="1.1" fill="#1c5482"/>
<circle cx="290.30" cy="476.25" r="1.1" fill="#1c5482"/>
<circle cx="287.58" cy="475.63" r="1.1" fill="#1c5482"/>
<circle cx="291.66" cy="474.98" r="1.1" fill="#1c5482"/>
<circle cx="290.30" cy="474.27" r="1.1" fill="#1c5482"/>
<circle cx="288.94" cy="473.52" r="1.1" fill="#1c5482"/>
<circle cx="290.30" cy="472.73" r="1.1" fill="#1c5482"/>
<circle cx="291.66" cy="471.89" r="1.1" fill="#1c5482"/>
<circle cx="290.30" cy="471.01" r="1.1" fill="#1c5482"/>
<circle cx="291.66" cy="470.08" r="1.1" fill="#1c5482"/>
<circle cx="290.30" cy="469.12" r="1.1" fill="#1c5482"/>
<circle cx="291.66" cy="468.10" r="1.1" fill="#1c5482"/>
<circle cx="290.30" cy="467.05" r="1.1" fill="#1c5482"/>
<circle cx="291.66" cy="465.96" r="1.1" fill="#1c5482"/>
<circle cx="290.30" cy="464.82" r="1.1" fill="#1c5482"/>
<circle cx="291.66" cy="463.64" r="1.1" fill="#1c5482"/>
<circle cx="290.30" cy="462.42" r="1.1" fill="#1c5482"/>
<circle cx="291.66" cy="461.16" r="1.1" fill="#1c5482"/>
<circle cx="290.30" cy="459.86" r="1.1" fill="#1c5482"/>
<circle cx="291.66" cy="458.51" r="1.1" fill="#1c5482"/>
<circle cx="290.30" cy="457.13" r="1.1" fill="#1c5482"/>
<circle cx="291.66" cy="455.71" r="1.1" fill="#1c5482"/>
<circle cx="290.30" cy="454.25" r="1.1" fill="#1c5482"/>
<circle cx="291.66" cy="452.75" r="1.1" fill="#1c5482"/>
<circle cx="290.30" cy="451.20" r="1.1" fill="#1c5482"/>
<circle cx="290.30" cy="449.62" r="1.1" fill="#1c5482"/>
<circle cx="290.30" cy="448.00" r="1.1" fill="#1c5482"/>
<circle cx="290.30" cy="446.35" r="1.1" fill="#1c5482"/>
<circle cx="290.30" cy="444.65" r="1.1" fill="#1c5482"/>
<circle cx="290.30" cy="442.91" r="1.1" fill="#1c5482"/>
<circle cx="290.30" cy="441.14" r="1.1" fill="#1c5482"/>
<circle cx="290.30" cy="439.33" r="1.1" fill="#1c5482"/>
<circle cx="290.30" cy="437.48" r="1.1" fill="#1c5482"/>
<circle cx="290.30" cy="435.59" r="1.1" fill="#1c5482"/>
<circle cx="290.30" cy="433.67" r="1.1" fill="#1c5482"/>
<circle cx="290.30" cy="431.70" r="1.1" fill="#1c5482"/>
<circle cx="290.30" cy="429.70" r="1.1" fill="#1c5482"/>
<line x1="290.30" y1="475.63" x2="290.30" y2="449.62" stroke="#1e1e1e" stroke-width="0.85"/>
<line x1="288.55" y1="475.63" x2="292.05" y2="475.63" stroke="#1e1e1e" stroke-width="0.85"/>
<line x1="288.55" y1="449.62" x2="292.05" y2="449.62" stroke="#1e1e1e" stroke-width="0.85"/>
<line x1="286.80" y1="464.82" x2="293.80" y2="464.82" stroke="#1e1e1e" stroke-width="1.0"/>
<circle cx="299.20" cy="479.58" r="1.1" fill="#c2183a"/>
<circle cx="301.92" cy="479.46" r="1.1" fill="#c2183a"/>
<circle cx="296.48" cy="479.26" r="1.1" fill="#c2183a"/>
<circle cx="301.68" cy="479.01" r="1.1" fill="#c2183a"/>
<circle cx="301.59" cy="478.69" r="1.1" fill="#c2183a"/>
<circle cx="297.84" cy="478.33" r="1.1" fill="#c2183a"/>
<circle cx="296.78" cy="477.91" r="1.1" fill="#c2183a"/>
<circle cx="299.20" cy="477.45" r="1.1" fill="#c2183a"/>
<circle cx="301.92" cy="476.94" r="1.1" fill="#c2183a"/>
<circle cx="297.84" cy="476.39" r="1.1" fill="#c2183a"/>
<circle cx="300.56" cy="475.80" r="1.1" fill="#c2183a"/>
<circle cx="296.48" cy="475.17" r="1.1" fill="#c2183a"/>
<circle cx="299.20" cy="474.50" r="1.1" fill="#c2183a"/>
<circle cx="300.56" cy="473.79" r="1.1" fill="#c2183a"/>
<circle cx="297.84" cy="473.04" r="1.1" fill="#c2183a"/>
<circle cx="299.20" cy="472.25" r="1.1" fill="#c2183a"/>
<circle cx="300.56" cy="471.43" r="1.1" fill="#c2183a"/>
<circle cx="299.20" cy="470.58" r="1.1" fill="#c2183a"/>
<circle cx="300.56" cy="469.69" r="1.1" fill="#c2183a"/>
<circle cx="299.20" cy="468.77" r="1.1" fill="#c2183a"/>
<circle cx="300.56" cy="467.81" r="1.1" fill="#c2183a"/>
<circle cx="299.20" cy="466.82" r="1.1" fill="#c2183a"/>
<circle cx="300.56" cy="465.80" r="1.1" fill="#c2183a"/>
<circle cx="299.20" cy="464.75" r="1.1" fill="#c2183a"/>
<circle cx="300.56" cy="463.66" r="1.1" fill="#c2183a"/>
<circle cx="299.20" cy="462.55" r="1.1" fill="#c2183a"/>
<circle cx="300.56" cy="461.40" r="1.1" fill="#c2183a"/>
<circle cx="299.20" cy="460.22" r="1.1" fill="#c2183a"/>
<circle cx="300.56" cy="459.01" r="1.1" fill="#c2183a"/>
<circle cx="299.20" cy="457.78" r="1.1" fill="#c2183a"/>
<circle cx="300.56" cy="456.51" r="1.1" fill="#c2183a"/>
<circle cx="299.20" cy="455.22" r="1.1" fill="#c2183a"/>
<circle cx="300.56" cy="453.89" r="1.1" fill="#c2183a"/>
<circle cx="299.20" cy="452.54" r="1.1" fill="#c2183a"/>
<circle cx="300.56" cy="451.16" r="1.1" fill="#c2183a"/>
<circle cx="299.20" cy="449.75" r="1.1" fill="#c2183a"/>
<circle cx="300.56" cy="448.31" r="1.1" fill="#c2183a"/>
<circle cx="299.20" cy="446.85" r="1.1" fill="#c2183a"/>
<circle cx="300.56" cy="445.36" r="1.1" fill="#c2183a"/>
<circle cx="299.20" cy="443.84" r="1.1" fill="#c2183a"/>
<circle cx="299.20" cy="442.30" r="1.1" fill="#c2183a"/>
<circle cx="299.20" cy="440.72" r="1.1" fill="#c2183a"/>
<circle cx="299.20" cy="439.13" r="1.1" fill="#c2183a"/>
<circle cx="299.20" cy="437.50" r="1.1" fill="#c2183a"/>
<circle cx="299.20" cy="435.85" r="1.1" fill="#c2183a"/>
<circle cx="299.20" cy="434.17" r="1.1" fill="#c2183a"/>
<circle cx="299.20" cy="432.47" r="1.1" fill="#c2183a"/>
<circle cx="299.20" cy="430.75" r="1.1" fill="#c2183a"/>
<line x1="299.20" y1="474.50" x2="299.20" y2="448.31" stroke="#1e1e1e" stroke-width="0.85"/>
<line x1="297.45" y1="474.50" x2="300.95" y2="474.50" stroke="#1e1e1e" stroke-width="0.85"/>
<line x1="297.45" y1="448.31" x2="300.95" y2="448.31" stroke="#1e1e1e" stroke-width="0.85"/>
<line x1="295.70" y1="463.66" x2="302.70" y2="463.66" stroke="#1e1e1e" stroke-width="1.0"/>
<circle cx="308.50" cy="479.25" r="1.1" fill="#1c5482"/>
<circle cx="309.86" cy="478.37" r="1.1" fill="#1c5482"/>
<circle cx="308.50" cy="477.41" r="1.1" fill="#1c5482"/>
<circle cx="309.86" cy="476.38" r="1.1" fill="#1c5482"/>
<circle cx="308.50" cy="475.32" r="1.1" fill="#1c5482"/>
<circle cx="309.86" cy="474.22" r="1.1" fill="#1c5482"/>
<circle cx="308.50" cy="473.09" r="1.1" fill="#1c5482"/>
<circle cx="309.86" cy="471.94" r="1.1" fill="#1c5482"/>
<circle cx="308.50" cy="470.77" r="1.1" fill="#1c5482"/>
<circle cx="309.86" cy="469.58" r="1.1" fill="#1c5482"/>
<circle cx="308.50" cy="468.37" r="1.1" fill="#1c5482"/>
<circle cx="309.86" cy="467.15" r="1.1" fill="#1c5482"/>
<circle cx="308.50" cy="465.91" r="1.1" fill="#1c5482"/>
<circle cx="309.86" cy="464.65" r="1.1" fill="#1c5482"/>
<circle cx="308.50" cy="463.39" r="1.1" fill="#1c5482"/>
<circle cx="309.86" cy="462.11" r="1.1" fill="#1c5482"/>
<circle cx="308.50" cy="460.82" r="1.1" fill="#1c5482"/>
<circle cx="309.86" cy="459.52" r="1.1" fill="#1c5482"/>
<circle cx="308.50" cy="458.21" r="1.1" fill="#1c5482"/>
<circle cx="309.86" cy="456.89" r="1.1" fill="#1c5482"/>
<circle cx="308.50" cy="455.56" r="1.1" fill="#1c5482"/>
<circle cx="309.86" cy="454.22" r="1.1" fill="#1c5482"/>
<circle cx="308.50" cy="451.18" r="1.1" fill="#1c5482"/>
<line x1="308.50" y1="474.22" x2="308.50" y2="459.52" stroke="#1e1e1e" stroke-width="0.85"/>
<line x1="306.75" y1="474.22" x2="310.25" y2="474.22" stroke="#1e1e1e" stroke-width="0.85"/>
<line x1="306.75" y1="459.52" x2="310.25" y2="459.52" stroke="#1e1e1e" stroke-width="0.85"/>
<line x1="305.00" y1="467.15" x2="312.00" y2="467.15" stroke="#1e1e1e" stroke-width="1.0"/>
<circle cx="316.50" cy="474.71" r="1.1" fill="#1c5482"/>
<circle cx="319.22" cy="474.22" r="1.1" fill="#1c5482"/>
<circle cx="315.14" cy="473.62" r="1.1" fill="#1c5482"/>
<circle cx="317.86" cy="472.95" r="1.1" fill="#1c5482"/>
<circle cx="316.50" cy="472.22" r="1.1" fill="#1c5482"/>
<circle cx="315.14" cy="471.45" r="1.1" fill="#1c5482"/>
<circle cx="316.50" cy="470.64" r="1.1" fill="#1c5482"/>
<circle cx="317.86" cy="469.79" r="1.1" fill="#1c5482"/>
<circle cx="316.50" cy="468.91" r="1.1" fill="#1c5482"/>
<circle cx="317.86" cy="467.99" r="1.1" fill="#1c5482"/>
<circle cx="316.50" cy="467.06" r="1.1" fill="#1c5482"/>
<circle cx="317.86" cy="466.09" r="1.1" fill="#1c5482"/>
<circle cx="316.50" cy="465.10" r="1.1" fill="#1c5482"/>
<circle cx="317.86" cy="464.09" r="1.1" fill="#1c5482"/>
<circle cx="316.50" cy="463.06" r="1.1" fill="#1c5482"/>
<circle cx="317.86" cy="462.01" r="1.1" fill="#1c5482"/>
<circle cx="316.50" cy="460.94" r="1.1" fill="#1c5482"/>
<circle cx="317.86" cy="459.85" r="1.1" fill="#1c5482"/>
<circle cx="316.50" cy="458.74" r="1.1" fill="#1c5482"/>
<circle cx="317.86" cy="457.62" r="1.1" fill="#1c5482"/>
<circle cx="316.50" cy="456.48" r="1.1" fill="#1c5482"/>
<circle cx="317.86" cy="455.32" r="1.1" fill="#1c5482"/>
<line x1="316.50" y1="471.45" x2="316.50" y2="460.94" stroke="#1e1e1e" stroke-width="0.85"/>
<line x1="314.75" y1="471.45" x2="318.25" y2="471.45" stroke="#1e1e1e" stroke-width="0.85"/>
<line x1="314.75" y1="460.94" x2="318.25" y2="460.94" stroke="#1e1e1e" stroke-width="0.85"/>
<line x1="313.00" y1="466.09" x2="320.00" y2="466.09" stroke="#1e1e1e" stroke-width="1.0"/>
<circle cx="325.80" cy="477.13" r="1.1" fill="#c2183a"/>
<circle cx="328.52" cy="476.78" r="1.1" fill="#c2183a"/>
<circle cx="324.44" cy="476.35" r="1.1" fill="#c2183a"/>
<circle cx="327.16" cy="475.85" r="1.1" fill="#c2183a"/>
<circle cx="323.08" cy="475.30" r="1.1" fill="#c2183a"/>
<circle cx="325.80" cy="474.72" r="1.1" fill="#c2183a"/>
<circle cx="328.52" cy="474.10" r="1.1" fill="#c2183a"/>
<circle cx="324.44" cy="473.44" r="1.1" fill="#c2183a"/>
<circle cx="325.80" cy="472.76" r="1.1" fill="#c2183a"/>
<circle cx="327.16" cy="472.05" r="1.1" fill="#c2183a"/>
<circle cx="324.44" cy="471.32" r="1.1" fill="#c2183a"/>
<circle cx="325.80" cy="470.57" r="1.1" fill="#c2183a"/>
<circle cx="327.16" cy="469.79" r="1.1" fill="#c2183a"/>
<circle cx="325.80" cy="468.99" r="1.1" fill="#c2183a"/>
<circle cx="327.16" cy="468.18" r="1.1" fill="#c2183a"/>
<circle cx="325.80" cy="467.34" r="1.1" fill="#c2183a"/>
<circle cx="327.16" cy="466.49" r="1.1" fill="#c2183a"/>
<circle cx="325.80" cy="465.62" r="1.1" fill="#c2183a"/>
<circle cx="327.16" cy="464.73" r="1.1" fill="#c2183a"/>
<circle cx="325.80" cy="463.83" r="1.1" fill="#c2183a"/>
<circle cx="327.16" cy="462.92" r="1.1" fill="#c2183a"/>
<circle cx="325.80" cy="461.99" r="1.1" fill="#c2183a"/>
<circle cx="327.16" cy="461.04" r="1.1" fill="#c2183a"/>
<circle cx="325.80" cy="460.09" r="1.1" fill="#c2183a"/>
<circle cx="327.16" cy="459.11" r="1.1" fill="#c2183a"/>
<circle cx="325.80" cy="458.13" r="1.1" fill="#c2183a"/>
<circle cx="327.16" cy="457.13" r="1.1" fill="#c2183a"/>
<circle cx="325.80" cy="456.12" r="1.1" fill="#c2183a"/>
<circle cx="327.16" cy="455.10" r="1.1" fill="#c2183a"/>
<circle cx="325.80" cy="454.07" r="1.1" fill="#c2183a"/>
<line x1="325.80" y1="473.44" x2="325.80" y2="461.04" stroke="#1e1e1e" stroke-width="0.85"/>
<line x1="324.05" y1="473.44" x2="327.55" y2="473.44" stroke="#1e1e1e" stroke-width="0.85"/>
<line x1="324.05" y1="461.04" x2="327.55" y2="461.04" stroke="#1e1e1e" stroke-width="0.85"/>
<line x1="322.30" y1="467.34" x2="329.30" y2="467.34" stroke="#1e1e1e" stroke-width="1.0"/>
<circle cx="334.30" cy="468.82" r="1.1" fill="#1c5482"/>
<circle cx="337.02" cy="468.43" r="1.1" fill="#1c5482"/>
<circle cx="332.94" cy="467.97" r="1.1" fill="#1c5482"/>
<circle cx="335.66" cy="467.45" r="1.1" fill="#1c5482"/>
<circle cx="331.58" cy="466.89" r="1.1" fill="#1c5482"/>
<circle cx="334.30" cy="466.30" r="1.1" fill="#1c5482"/>
<circle cx="337.02" cy="465.67" r="1.1" fill="#1c5482"/>
<circle cx="332.94" cy="465.03" r="1.1" fill="#1c5482"/>
<circle cx="335.66" cy="464.35" r="1.1" fill="#1c5482"/>
<circle cx="334.30" cy="463.66" r="1.1" fill="#1c5482"/>
<circle cx="332.94" cy="462.95" r="1.1" fill="#1c5482"/>
<circle cx="335.66" cy="462.22" r="1.1" fill="#1c5482"/>
<circle cx="334.30" cy="461.47" r="1.1" fill="#1c5482"/>
<circle cx="332.94" cy="460.71" r="1.1" fill="#1c5482"/>
<circle cx="334.30" cy="459.93" r="1.1" fill="#1c5482"/>
<circle cx="335.66" cy="459.14" r="1.1" fill="#1c5482"/>
<circle cx="334.30" cy="458.34" r="1.1" fill="#1c5482"/>
<circle cx="335.66" cy="457.52" r="1.1" fill="#1c5482"/>
<circle cx="334.30" cy="456.69" r="1.1" fill="#1c5482"/>
<circle cx="335.66" cy="455.84" r="1.1" fill="#1c5482"/>
<circle cx="334.30" cy="454.99" r="1.1" fill="#1c5482"/>
<circle cx="335.66" cy="454.13" r="1.1" fill="#1c5482"/>
<circle cx="334.30" cy="453.25" r="1.1" fill="#1c5482"/>
<circle cx="335.66" cy="452.36" r="1.1" fill="#1c5482"/>
<circle cx="334.30" cy="451.47" r="1.1" fill="#1c5482"/>
<circle cx="335.66" cy="450.56" r="1.1" fill="#1c5482"/>
<circle cx="334.30" cy="449.65" r="1.1" fill="#1c5482"/>
<circle cx="335.66" cy="448.72" r="1.1" fill="#1c5482"/>
<circle cx="334.30" cy="447.79" r="1.1" fill="#1c5482"/>
<circle cx="335.66" cy="446.85" r="1.1" fill="#1c5482"/>
<circle cx="334.30" cy="445.90" r="1.1" fill="#1c5482"/>
<circle cx="335.66" cy="444.94" r="1.1" fill="#1c5482"/>
<circle cx="334.30" cy="443.97" r="1.1" fill="#1c5482"/>
<circle cx="335.66" cy="443.00" r="1.1" fill="#1c5482"/>
<circle cx="334.30" cy="442.02" r="1.1" fill="#1c5482"/>
<circle cx="335.66" cy="441.03" r="1.1" fill="#1c5482"/>
<line x1="334.30" y1="463.66" x2="334.30" y2="448.72" stroke="#1e1e1e" stroke-width="0.85"/>
<line x1="332.55" y1="463.66" x2="336.05" y2="463.66" stroke="#1e1e1e" stroke-width="0.85"/>
<line x1="332.55" y1="448.72" x2="336.05" y2="448.72" stroke="#1e1e1e" stroke-width="0.85"/>
<line x1="330.80" y1="456.69" x2="337.80" y2="456.69" stroke="#1e1e1e" stroke-width="1.0"/>
<circle cx="343.10" cy="471.14" r="1.1" fill="#c2183a"/>
<circle cx="345.82" cy="470.72" r="1.1" fill="#c2183a"/>
<circle cx="341.74" cy="470.25" r="1.1" fill="#c2183a"/>
<circle cx="344.46" cy="469.76" r="1.1" fill="#c2183a"/>
<circle cx="340.38" cy="469.25" r="1.1" fill="#c2183a"/>
<circle cx="343.10" cy="468.72" r="1.1" fill="#c2183a"/>
<circle cx="345.82" cy="468.18" r="1.1" fill="#c2183a"/>
<circle cx="341.74" cy="467.63" r="1.1" fill="#c2183a"/>
<circle cx="344.46" cy="467.07" r="1.1" fill="#c2183a"/>
<circle cx="340.38" cy="466.50" r="1.1" fill="#c2183a"/>
<circle cx="343.10" cy="465.93" r="1.1" fill="#c2183a"/>
<circle cx="345.82" cy="465.34" r="1.1" fill="#c2183a"/>
<circle cx="341.74" cy="464.75" r="1.1" fill="#c2183a"/>
<circle cx="344.46" cy="464.16" r="1.1" fill="#c2183a"/>
<circle cx="340.38" cy="463.55" r="1.1" fill="#c2183a"/>
<circle cx="343.10" cy="462.95" r="1.1" fill="#c2183a"/>
<circle cx="345.82" cy="462.33" r="1.1" fill="#c2183a"/>
<circle cx="341.74" cy="461.72" r="1.1" fill="#c2183a"/>
<circle cx="344.46" cy="461.09" r="1.1" fill="#c2183a"/>
<circle cx="340.38" cy="460.47" r="1.1" fill="#c2183a"/>
<circle cx="343.10" cy="459.83" r="1.1" fill="#c2183a"/>
<circle cx="345.82" cy="459.20" r="1.1" fill="#c2183a"/>
<circle cx="341.74" cy="458.56" r="1.1" fill="#c2183a"/>
<circle cx="344.46" cy="457.92" r="1.1" fill="#c2183a"/>
<circle cx="340.38" cy="457.27" r="1.1" fill="#c2183a"/>
<circle cx="343.10" cy="456.62" r="1.1" fill="#c2183a"/>
<circle cx="345.82" cy="455.97" r="1.1" fill="#c2183a"/>
<circle cx="341.74" cy="455.31" r="1.1" fill="#c2183a"/>
<circle cx="344.46" cy="454.65" r="1.1" fill="#c2183a"/>
<circle cx="340.38" cy="453.99" r="1.1" fill="#c2183a"/>
<circle cx="343.10" cy="453.32" r="1.1" fill="#c2183a"/>
<circle cx="345.82" cy="452.65" r="1.1" fill="#c2183a"/>
<circle cx="341.74" cy="451.98" r="1.1" fill="#c2183a"/>
<circle cx="343.10" cy="451.31" r="1.1" fill="#c2183a"/>
<circle cx="344.46" cy="450.63" r="1.1" fill="#c2183a"/>
<circle cx="341.74" cy="449.95" r="1.1" fill="#c2183a"/>
<circle cx="343.10" cy="449.27" r="1.1" fill="#c2183a"/>
<circle cx="344.46" cy="448.58" r="1.1" fill="#c2183a"/>
<circle cx="341.74" cy="447.90" r="1.1" fill="#c2183a"/>
<circle cx="343.10" cy="447.21" r="1.1" fill="#c2183a"/>
<circle cx="344.46" cy="446.52" r="1.1" fill="#c2183a"/>
<circle cx="341.74" cy="445.82" r="1.1" fill="#c2183a"/>
<circle cx="343.10" cy="445.13" r="1.1" fill="#c2183a"/>
<circle cx="344.46" cy="444.43" r="1.1" fill="#c2183a"/>
<circle cx="343.10" cy="438.16" r="1.1" fill="#c2183a"/>
<line x1="343.10" y1="465.34" x2="343.10" y2="451.31" stroke="#1e1e1e" stroke-width="0.85"/>
<line x1="341.35" y1="465.34" x2="344.85" y2="465.34" stroke="#1e1e1e" stroke-width="0.85"/>
<line x1="341.35" y1="451.31" x2="344.85" y2="451.31" stroke="#1e1e1e" stroke-width="0.85"/>
<line x1="339.60" y1="458.56" x2="346.60" y2="458.56" stroke="#1e1e1e" stroke-width="1.0"/>
<text x="291.40" y="413.20" font-size="8.7" textLength="50.5" lengthAdjust="spacingAndGlyphs">% CD4 PD1+</text>
<text x="292.70" y="489.00" font-size="6.6" text-anchor="end" transform="rotate(-45 292.70 489.00)" textLength="32" lengthAdjust="spacingAndGlyphs">DLBCL ND</text>
<text x="301.60" y="489.00" font-size="6.6" text-anchor="end" transform="rotate(-45 301.60 489.00)" textLength="31" lengthAdjust="spacingAndGlyphs">DLBCL CR</text>
<text x="310.90" y="489.00" font-size="6.6" text-anchor="end" transform="rotate(-45 310.90 489.00)" textLength="28.5" lengthAdjust="spacingAndGlyphs">CLL w&amp;w</text>
<text x="318.90" y="489.00" font-size="6.6" text-anchor="end" transform="rotate(-45 318.90 489.00)" textLength="27" lengthAdjust="spacingAndGlyphs">AML ND</text>
<text x="328.20" y="489.00" font-size="6.6" text-anchor="end" transform="rotate(-45 328.20 489.00)" textLength="26.5" lengthAdjust="spacingAndGlyphs">AML CR</text>
<text x="336.70" y="489.00" font-size="6.6" text-anchor="end" transform="rotate(-45 336.70 489.00)" textLength="22" lengthAdjust="spacingAndGlyphs">BC ND</text>
<text x="345.50" y="489.00" font-size="6.6" text-anchor="end" transform="rotate(-45 345.50 489.00)" textLength="21" lengthAdjust="spacingAndGlyphs">BC CR</text>
<rect x="393.80" y="420.10" width="18.90" height="59.50" fill="#d2d2d2"/>
<text x="398.80" y="459.40" font-size="6.8" text-anchor="middle">****</text>
<text x="408.00" y="453.70" font-size="6.8" text-anchor="middle">***</text>
<line x1="366.40" y1="417.70" x2="366.40" y2="480.10" stroke="#2e2e2e" stroke-width="1.15"/>
<line x1="363.60" y1="479.60" x2="431.20" y2="479.60" stroke="#2e2e2e" stroke-width="1.15"/>
<text x="360.50" y="481.90" font-size="6.4" text-anchor="end" textLength="3.3" lengthAdjust="spacingAndGlyphs">0</text>
<line x1="363.50" y1="464.80" x2="366.40" y2="464.80" stroke="#2e2e2e" stroke-width="1.0"/>
<text x="360.50" y="467.10" font-size="6.4" text-anchor="end" textLength="3.3" lengthAdjust="spacingAndGlyphs">2</text>
<line x1="363.50" y1="450.00" x2="366.40" y2="450.00" stroke="#2e2e2e" stroke-width="1.0"/>
<text x="360.50" y="452.30" font-size="6.4" text-anchor="end" textLength="3.3" lengthAdjust="spacingAndGlyphs">4</text>
<line x1="363.50" y1="435.20" x2="366.40" y2="435.20" stroke="#2e2e2e" stroke-width="1.0"/>
<text x="360.50" y="437.50" font-size="6.4" text-anchor="end" textLength="3.3" lengthAdjust="spacingAndGlyphs">6</text>
<line x1="363.50" y1="420.40" x2="366.40" y2="420.40" stroke="#2e2e2e" stroke-width="1.0"/>
<text x="360.50" y="422.70" font-size="6.4" text-anchor="end" textLength="3.3" lengthAdjust="spacingAndGlyphs">8</text>
<line x1="371.90" y1="479.60" x2="371.90" y2="482.20" stroke="#2e2e2e" stroke-width="1.0"/>
<line x1="380.40" y1="479.60" x2="380.40" y2="482.20" stroke="#2e2e2e" stroke-width="1.0"/>
<line x1="389.20" y1="479.60" x2="389.20" y2="482.20" stroke="#2e2e2e" stroke-width="1.0"/>
<line x1="398.10" y1="479.60" x2="398.10" y2="482.20" stroke="#2e2e2e" stroke-width="1.0"/>
<line x1="407.30" y1="479.60" x2="407.30" y2="482.20" stroke="#2e2e2e" stroke-width="1.0"/>
<line x1="416.20" y1="479.60" x2="416.20" y2="482.20" stroke="#2e2e2e" stroke-width="1.0"/>
<line x1="425.00" y1="479.60" x2="425.00" y2="482.20" stroke="#2e2e2e" stroke-width="1.0"/>
<circle cx="371.90" cy="479.01" r="1.1" fill="#1c5482"/>
<circle cx="373.26" cy="478.31" r="1.1" fill="#1c5482"/>
<circle cx="370.54" cy="477.74" r="1.1" fill="#1c5482"/>
<circle cx="374.62" cy="477.24" r="1.1" fill="#1c5482"/>
<circle cx="371.90" cy="476.78" r="1.1" fill="#1c5482"/>
<circle cx="369.18" cy="476.35" r="1.1" fill="#1c5482"/>
<circle cx="373.26" cy="475.94" r="1.1" fill="#1c5482"/>
<circle cx="370.54" cy="475.55" r="1.1" fill="#1c5482"/>
<circle cx="374.62" cy="475.17" r="1.1" fill="#1c5482"/>
<circle cx="371.90" cy="474.80" r="1.1" fill="#1c5482"/>
<circle cx="369.18" cy="474.45" r="1.1" fill="#1c5482"/>
<circle cx="373.26" cy="474.11" r="1.1" fill="#1c5482"/>
<circle cx="370.54" cy="473.77" r="1.1" fill="#1c5482"/>
<circle cx="369.16" cy="473.44" r="1.1" fill="#1c5482"/>
<circle cx="374.62" cy="473.12" r="1.1" fill="#1c5482"/>
<circle cx="371.90" cy="472.81" r="1.1" fill="#1c5482"/>
<circle cx="369.14" cy="472.50" r="1.1" fill="#1c5482"/>
<circle cx="371.54" cy="472.20" r="1.1" fill="#1c5482"/>
<circle cx="373.26" cy="471.90" r="1.1" fill="#1c5482"/>
<circle cx="372.67" cy="471.61" r="1.1" fill="#1c5482"/>
<circle cx="370.79" cy="471.32" r="1.1" fill="#1c5482"/>
<circle cx="374.62" cy="471.03" r="1.1" fill="#1c5482"/>
<circle cx="369.18" cy="470.75" r="1.1" fill="#1c5482"/>
<circle cx="372.35" cy="470.47" r="1.1" fill="#1c5482"/>
<circle cx="369.86" cy="470.20" r="1.1" fill="#1c5482"/>
<circle cx="370.26" cy="469.93" r="1.1" fill="#1c5482"/>
<circle cx="369.42" cy="469.66" r="1.1" fill="#1c5482"/>
<circle cx="374.62" cy="469.39" r="1.1" fill="#1c5482"/>
<circle cx="371.12" cy="469.13" r="1.1" fill="#1c5482"/>
<circle cx="370.22" cy="468.87" r="1.1" fill="#1c5482"/>
<circle cx="373.26" cy="468.61" r="1.1" fill="#1c5482"/>
<circle cx="370.86" cy="468.36" r="1.1" fill="#1c5482"/>
<circle cx="370.91" cy="468.11" r="1.1" fill="#1c5482"/>
<circle cx="374.62" cy="467.86" r="1.1" fill="#1c5482"/>
<circle cx="369.18" cy="467.61" r="1.1" fill="#1c5482"/>
<circle cx="372.01" cy="467.36" r="1.1" fill="#1c5482"/>
<circle cx="371.51" cy="467.12" r="1.1" fill="#1c5482"/>
<circle cx="369.16" cy="466.88" r="1.1" fill="#1c5482"/>
<circle cx="372.12" cy="466.64" r="1.1" fill="#1c5482"/>
<circle cx="370.61" cy="466.40" r="1.1" fill="#1c5482"/>
<circle cx="371.90" cy="462.58" r="1.1" fill="#1c5482"/>
<circle cx="371.90" cy="460.36" r="1.1" fill="#1c5482"/>
<circle cx="371.90" cy="457.40" r="1.1" fill="#1c5482"/>
<circle cx="371.90" cy="455.18" r="1.1" fill="#1c5482"/>
<circle cx="371.90" cy="451.48" r="1.1" fill="#1c5482"/>
<circle cx="371.90" cy="445.56" r="1.1" fill="#1c5482"/>
<circle cx="371.90" cy="442.60" r="1.1" fill="#1c5482"/>
<line x1="371.90" y1="474.11" x2="371.90" y2="467.36" stroke="#1e1e1e" stroke-width="0.85"/>
<line x1="370.15" y1="474.11" x2="373.65" y2="474.11" stroke="#1e1e1e" stroke-width="0.85"/>
<line x1="370.15" y1="467.36" x2="373.65" y2="467.36" stroke="#1e1e1e" stroke-width="0.85"/>
<line x1="368.40" y1="470.47" x2="375.40" y2="470.47" stroke="#1e1e1e" stroke-width="1.0"/>
<circle cx="380.40" cy="479.51" r="1.1" fill="#c2183a"/>
<circle cx="383.12" cy="479.28" r="1.1" fill="#c2183a"/>
<circle cx="377.68" cy="479.03" r="1.1" fill="#c2183a"/>
<circle cx="381.12" cy="478.75" r="1.1" fill="#c2183a"/>
<circle cx="380.64" cy="478.47" r="1.1" fill="#c2183a"/>
<circle cx="379.04" cy="478.18" r="1.1" fill="#c2183a"/>
<circle cx="377.64" cy="477.88" r="1.1" fill="#c2183a"/>
<circle cx="383.12" cy="477.57" r="1.1" fill="#c2183a"/>
<circle cx="377.86" cy="477.25" r="1.1" fill="#c2183a"/>
<circle cx="380.40" cy="476.93" r="1.1" fill="#c2183a"/>
<circle cx="380.23" cy="476.60" r="1.1" fill="#c2183a"/>
<circle cx="382.42" cy="476.27" r="1.1" fill="#c2183a"/>
<circle cx="381.01" cy="475.94" r="1.1" fill="#c2183a"/>
<circle cx="379.04" cy="475.60" r="1.1" fill="#c2183a"/>
<circle cx="383.15" cy="475.25" r="1.1" fill="#c2183a"/>
<circle cx="377.68" cy="474.91" r="1.1" fill="#c2183a"/>
<circle cx="381.76" cy="474.56" r="1.1" fill="#c2183a"/>
<circle cx="381.88" cy="474.20" r="1.1" fill="#c2183a"/>
<circle cx="380.40" cy="473.84" r="1.1" fill="#c2183a"/>
<circle cx="380.29" cy="473.48" r="1.1" fill="#c2183a"/>
<circle cx="383.12" cy="473.12" r="1.1" fill="#c2183a"/>
<circle cx="377.68" cy="472.76" r="1.1" fill="#c2183a"/>
<circle cx="381.76" cy="472.39" r="1.1" fill="#c2183a"/>
<circle cx="379.04" cy="472.02" r="1.1" fill="#c2183a"/>
<circle cx="383.04" cy="471.65" r="1.1" fill="#c2183a"/>
<circle cx="380.40" cy="471.27" r="1.1" fill="#c2183a"/>
<circle cx="377.68" cy="470.89" r="1.1" fill="#c2183a"/>
<circle cx="381.76" cy="470.51" r="1.1" fill="#c2183a"/>
<circle cx="379.04" cy="470.13" r="1.1" fill="#c2183a"/>
<circle cx="383.12" cy="469.75" r="1.1" fill="#c2183a"/>
<circle cx="380.40" cy="469.36" r="1.1" fill="#c2183a"/>
<circle cx="377.68" cy="468.97" r="1.1" fill="#c2183a"/>
<circle cx="381.76" cy="468.59" r="1.1" fill="#c2183a"/>
<circle cx="379.04" cy="468.19" r="1.1" fill="#c2183a"/>
<circle cx="383.12" cy="467.80" r="1.1" fill="#c2183a"/>
<circle cx="380.40" cy="467.41" r="1.1" fill="#c2183a"/>
<circle cx="377.68" cy="467.01" r="1.1" fill="#c2183a"/>
<circle cx="381.76" cy="466.61" r="1.1" fill="#c2183a"/>
<circle cx="379.04" cy="466.21" r="1.1" fill="#c2183a"/>
<circle cx="383.12" cy="465.81" r="1.1" fill="#c2183a"/>
<circle cx="380.40" cy="465.41" r="1.1" fill="#c2183a"/>
<circle cx="377.68" cy="465.00" r="1.1" fill="#c2183a"/>
<circle cx="380.40" cy="459.62" r="1.1" fill="#c2183a"/>
<circle cx="380.40" cy="448.52" r="1.1" fill="#c2183a"/>
<circle cx="380.40" cy="445.56" r="1.1" fill="#c2183a"/>
<circle cx="380.40" cy="442.60" r="1.1" fill="#c2183a"/>
<circle cx="381.76" cy="441.12" r="1.1" fill="#c2183a"/>
<circle cx="380.40" cy="433.72" r="1.1" fill="#c2183a"/>
<line x1="380.40" y1="475.94" x2="380.40" y2="467.01" stroke="#1e1e1e" stroke-width="0.85"/>
<line x1="378.65" y1="475.94" x2="382.15" y2="475.94" stroke="#1e1e1e" stroke-width="0.85"/>
<line x1="378.65" y1="467.01" x2="382.15" y2="467.01" stroke="#1e1e1e" stroke-width="0.85"/>
<line x1="376.90" y1="471.65" x2="383.90" y2="471.65" stroke="#1e1e1e" stroke-width="1.0"/>
<circle cx="389.20" cy="477.26" r="1.1" fill="#1c5482"/>
<circle cx="391.92" cy="476.92" r="1.1" fill="#1c5482"/>
<circle cx="387.84" cy="476.51" r="1.1" fill="#1c5482"/>
<circle cx="390.56" cy="476.07" r="1.1" fill="#1c5482"/>
<circle cx="386.48" cy="475.60" r="1.1" fill="#1c5482"/>
<circle cx="389.20" cy="475.09" r="1.1" fill="#1c5482"/>
<circle cx="391.92" cy="474.57" r="1.1" fill="#1c5482"/>
<circle cx="387.84" cy="474.03" r="1.1" fill="#1c5482"/>
<circle cx="390.56" cy="473.47" r="1.1" fill="#1c5482"/>
<circle cx="386.48" cy="472.90" r="1.1" fill="#1c5482"/>
<circle cx="389.20" cy="472.31" r="1.1" fill="#1c5482"/>
<circle cx="391.92" cy="471.71" r="1.1" fill="#1c5482"/>
<circle cx="387.84" cy="471.10" r="1.1" fill="#1c5482"/>
<circle cx="390.56" cy="470.48" r="1.1" fill="#1c5482"/>
<circle cx="386.48" cy="469.84" r="1.1" fill="#1c5482"/>
<circle cx="389.20" cy="469.20" r="1.1" fill="#1c5482"/>
<circle cx="391.92" cy="468.54" r="1.1" fill="#1c5482"/>
<circle cx="387.84" cy="467.88" r="1.1" fill="#1c5482"/>
<circle cx="390.56" cy="467.20" r="1.1" fill="#1c5482"/>
<circle cx="389.20" cy="466.52" r="1.1" fill="#1c5482"/>
<circle cx="387.84" cy="465.83" r="1.1" fill="#1c5482"/>
<circle cx="390.56" cy="465.14" r="1.1" fill="#1c5482"/>
<circle cx="389.20" cy="464.43" r="1.1" fill="#1c5482"/>
<circle cx="387.84" cy="463.72" r="1.1" fill="#1c5482"/>
<circle cx="390.56" cy="463.00" r="1.1" fill="#1c5482"/>
<circle cx="389.20" cy="462.27" r="1.1" fill="#1c5482"/>
<circle cx="387.84" cy="461.54" r="1.1" fill="#1c5482"/>
<circle cx="390.56" cy="460.80" r="1.1" fill="#1c5482"/>
<circle cx="389.20" cy="460.06" r="1.1" fill="#1c5482"/>
<circle cx="387.84" cy="459.30" r="1.1" fill="#1c5482"/>
<circle cx="390.56" cy="458.55" r="1.1" fill="#1c5482"/>
<circle cx="389.20" cy="457.78" r="1.1" fill="#1c5482"/>
<circle cx="389.20" cy="444.08" r="1.1" fill="#1c5482"/>
<line x1="389.20" y1="473.47" x2="389.20" y2="463.00" stroke="#1e1e1e" stroke-width="0.85"/>
<line x1="387.45" y1="473.47" x2="390.95" y2="473.47" stroke="#1e1e1e" stroke-width="0.85"/>
<line x1="387.45" y1="463.00" x2="390.95" y2="463.00" stroke="#1e1e1e" stroke-width="0.85"/>
<line x1="385.70" y1="468.54" x2="392.70" y2="468.54" stroke="#1e1e1e" stroke-width="1.0"/>
<circle cx="398.10" cy="479.60" r="1.1" fill="#1c5482"/>
<circle cx="400.82" cy="479.59" r="1.1" fill="#1c5482"/>
<circle cx="395.38" cy="479.56" r="1.1" fill="#1c5482"/>
<circle cx="396.88" cy="479.50" r="1.1" fill="#1c5482"/>
<circle cx="398.09" cy="479.42" r="1.1" fill="#1c5482"/>
<circle cx="398.40" cy="479.29" r="1.1" fill="#1c5482"/>
<circle cx="397.43" cy="479.12" r="1.1" fill="#1c5482"/>
<circle cx="396.89" cy="478.91" r="1.1" fill="#1c5482"/>
<circle cx="396.33" cy="478.64" r="1.1" fill="#1c5482"/>
<circle cx="397.57" cy="478.32" r="1.1" fill="#1c5482"/>
<circle cx="399.46" cy="477.95" r="1.1" fill="#1c5482"/>
<circle cx="398.18" cy="477.51" r="1.1" fill="#1c5482"/>
<circle cx="396.74" cy="477.01" r="1.1" fill="#1c5482"/>
<circle cx="400.82" cy="476.43" r="1.1" fill="#1c5482"/>
<circle cx="398.10" cy="475.79" r="1.1" fill="#1c5482"/>
<circle cx="399.46" cy="475.08" r="1.1" fill="#1c5482"/>
<circle cx="396.74" cy="474.28" r="1.1" fill="#1c5482"/>
<circle cx="398.10" cy="473.41" r="1.1" fill="#1c5482"/>
<line x1="398.10" y1="479.42" x2="398.10" y2="476.43" stroke="#1e1e1e" stroke-width="0.85"/>
<line x1="396.35" y1="479.42" x2="399.85" y2="479.42" stroke="#1e1e1e" stroke-width="0.85"/>
<line x1="396.35" y1="476.43" x2="399.85" y2="476.43" stroke="#1e1e1e" stroke-width="0.85"/>
<line x1="394.60" y1="478.32" x2="401.60" y2="478.32" stroke="#1e1e1e" stroke-width="1.0"/>
<circle cx="407.30" cy="479.57" r="1.1" fill="#c2183a"/>
<circle cx="410.02" cy="479.47" r="1.1" fill="#c2183a"/>
<circle cx="404.58" cy="479.32" r="1.1" fill="#c2183a"/>
<circle cx="406.01" cy="479.15" r="1.1" fill="#c2183a"/>
<circle cx="407.51" cy="478.94" r="1.1" fill="#c2183a"/>
<circle cx="405.20" cy="478.71" r="1.1" fill="#c2183a"/>
<circle cx="405.08" cy="478.46" r="1.1" fill="#c2183a"/>
<circle cx="409.41" cy="478.19" r="1.1" fill="#c2183a"/>
<circle cx="404.76" cy="477.90" r="1.1" fill="#c2183a"/>
<circle cx="408.89" cy="477.60" r="1.1" fill="#c2183a"/>
<circle cx="407.30" cy="477.27" r="1.1" fill="#c2183a"/>
<circle cx="407.35" cy="476.94" r="1.1" fill="#c2183a"/>
<circle cx="409.29" cy="476.59" r="1.1" fill="#c2183a"/>
<circle cx="405.94" cy="476.22" r="1.1" fill="#c2183a"/>
<circle cx="405.11" cy="475.84" r="1.1" fill="#c2183a"/>
<circle cx="404.55" cy="475.45" r="1.1" fill="#c2183a"/>
<circle cx="407.30" cy="475.05" r="1.1" fill="#c2183a"/>
<circle cx="410.02" cy="474.63" r="1.1" fill="#c2183a"/>
<line x1="407.30" y1="478.94" x2="407.30" y2="476.22" stroke="#1e1e1e" stroke-width="0.85"/>
<line x1="405.55" y1="478.94" x2="409.05" y2="478.94" stroke="#1e1e1e" stroke-width="0.85"/>
<line x1="405.55" y1="476.22" x2="409.05" y2="476.22" stroke="#1e1e1e" stroke-width="0.85"/>
<line x1="403.80" y1="477.60" x2="410.80" y2="477.60" stroke="#1e1e1e" stroke-width="1.0"/>
<circle cx="416.20" cy="479.53" r="1.1" fill="#1c5482"/>
<circle cx="418.92" cy="479.30" r="1.1" fill="#1c5482"/>
<circle cx="413.48" cy="479.03" r="1.1" fill="#1c5482"/>
<circle cx="418.84" cy="478.73" r="1.1" fill="#1c5482"/>
<circle cx="415.16" cy="478.40" r="1.1" fill="#1c5482"/>
<circle cx="414.72" cy="478.05" r="1.1" fill="#1c5482"/>
<circle cx="417.56" cy="477.68" r="1.1" fill="#1c5482"/>
<circle cx="413.90" cy="477.30" r="1.1" fill="#1c5482"/>
<circle cx="416.20" cy="476.90" r="1.1" fill="#1c5482"/>
<circle cx="418.92" cy="476.49" r="1.1" fill="#1c5482"/>
<circle cx="414.84" cy="476.07" r="1.1" fill="#1c5482"/>
<circle cx="417.56" cy="475.63" r="1.1" fill="#1c5482"/>
<circle cx="413.48" cy="475.18" r="1.1" fill="#1c5482"/>
<circle cx="416.20" cy="474.73" r="1.1" fill="#1c5482"/>
<circle cx="418.92" cy="474.26" r="1.1" fill="#1c5482"/>
<circle cx="414.84" cy="473.79" r="1.1" fill="#1c5482"/>
<circle cx="417.56" cy="473.31" r="1.1" fill="#1c5482"/>
<circle cx="413.48" cy="472.82" r="1.1" fill="#1c5482"/>
<circle cx="416.20" cy="472.32" r="1.1" fill="#1c5482"/>
<circle cx="418.92" cy="471.81" r="1.1" fill="#1c5482"/>
<circle cx="414.84" cy="471.30" r="1.1" fill="#1c5482"/>
<circle cx="417.56" cy="470.78" r="1.1" fill="#1c5482"/>
<circle cx="413.48" cy="470.26" r="1.1" fill="#1c5482"/>
<circle cx="416.20" cy="469.72" r="1.1" fill="#1c5482"/>
<circle cx="418.92" cy="469.18" r="1.1" fill="#1c5482"/>
<circle cx="414.84" cy="468.64" r="1.1" fill="#1c5482"/>
<circle cx="417.56" cy="468.09" r="1.1" fill="#1c5482"/>
<circle cx="413.48" cy="467.53" r="1.1" fill="#1c5482"/>
<circle cx="416.20" cy="466.97" r="1.1" fill="#1c5482"/>
<circle cx="418.92" cy="466.40" r="1.1" fill="#1c5482"/>
<circle cx="414.84" cy="465.82" r="1.1" fill="#1c5482"/>
<circle cx="417.56" cy="465.25" r="1.1" fill="#1c5482"/>
<circle cx="413.48" cy="464.66" r="1.1" fill="#1c5482"/>
<circle cx="416.20" cy="464.07" r="1.1" fill="#1c5482"/>
<circle cx="418.92" cy="463.48" r="1.1" fill="#1c5482"/>
<circle cx="414.84" cy="462.88" r="1.1" fill="#1c5482"/>
<circle cx="416.20" cy="458.88" r="1.1" fill="#1c5482"/>
<circle cx="416.20" cy="455.18" r="1.1" fill="#1c5482"/>
<circle cx="416.20" cy="450.74" r="1.1" fill="#1c5482"/>
<line x1="416.20" y1="476.49" x2="416.20" y2="466.40" stroke="#1e1e1e" stroke-width="0.85"/>
<line x1="414.45" y1="476.49" x2="417.95" y2="476.49" stroke="#1e1e1e" stroke-width="0.85"/>
<line x1="414.45" y1="466.40" x2="417.95" y2="466.40" stroke="#1e1e1e" stroke-width="0.85"/>
<line x1="412.70" y1="471.81" x2="419.70" y2="471.81" stroke="#1e1e1e" stroke-width="1.0"/>
<circle cx="425.00" cy="478.07" r="1.1" fill="#c2183a"/>
<circle cx="427.72" cy="477.92" r="1.1" fill="#c2183a"/>
<circle cx="422.28" cy="477.73" r="1.1" fill="#c2183a"/>
<circle cx="424.24" cy="477.50" r="1.1" fill="#c2183a"/>
<circle cx="424.38" cy="477.26" r="1.1" fill="#c2183a"/>
<circle cx="426.36" cy="476.99" r="1.1" fill="#c2183a"/>
<circle cx="422.45" cy="476.70" r="1.1" fill="#c2183a"/>
<circle cx="423.47" cy="476.40" r="1.1" fill="#c2183a"/>
<circle cx="427.72" cy="476.09" r="1.1" fill="#c2183a"/>
<circle cx="425.00" cy="475.76" r="1.1" fill="#c2183a"/>
<circle cx="427.09" cy="475.43" r="1.1" fill="#c2183a"/>
<circle cx="422.28" cy="475.08" r="1.1" fill="#c2183a"/>
<circle cx="427.31" cy="474.72" r="1.1" fill="#c2183a"/>
<circle cx="423.64" cy="474.35" r="1.1" fill="#c2183a"/>
<circle cx="425.94" cy="473.97" r="1.1" fill="#c2183a"/>
<circle cx="423.78" cy="473.58" r="1.1" fill="#c2183a"/>
<circle cx="427.72" cy="473.18" r="1.1" fill="#c2183a"/>
<circle cx="422.28" cy="472.78" r="1.1" fill="#c2183a"/>
<circle cx="425.00" cy="472.36" r="1.1" fill="#c2183a"/>
<circle cx="422.47" cy="471.94" r="1.1" fill="#c2183a"/>
<circle cx="426.36" cy="471.51" r="1.1" fill="#c2183a"/>
<circle cx="422.31" cy="471.08" r="1.1" fill="#c2183a"/>
<circle cx="425.00" cy="470.63" r="1.1" fill="#c2183a"/>
<circle cx="427.72" cy="470.18" r="1.1" fill="#c2183a"/>
<circle cx="423.64" cy="469.73" r="1.1" fill="#c2183a"/>
<circle cx="426.36" cy="469.27" r="1.1" fill="#c2183a"/>
<circle cx="422.28" cy="468.80" r="1.1" fill="#c2183a"/>
<circle cx="425.00" cy="468.32" r="1.1" fill="#c2183a"/>
<circle cx="427.72" cy="467.84" r="1.1" fill="#c2183a"/>
<circle cx="423.64" cy="467.36" r="1.1" fill="#c2183a"/>
<circle cx="426.36" cy="466.86" r="1.1" fill="#c2183a"/>
<circle cx="422.28" cy="466.37" r="1.1" fill="#c2183a"/>
<circle cx="425.00" cy="465.86" r="1.1" fill="#c2183a"/>
<circle cx="427.72" cy="465.35" r="1.1" fill="#c2183a"/>
<circle cx="423.64" cy="464.84" r="1.1" fill="#c2183a"/>
<circle cx="426.36" cy="464.32" r="1.1" fill="#c2183a"/>
<circle cx="425.00" cy="460.36" r="1.1" fill="#c2183a"/>
<circle cx="425.00" cy="457.40" r="1.1" fill="#c2183a"/>
<circle cx="425.00" cy="452.96" r="1.1" fill="#c2183a"/>
<line x1="425.00" y1="475.76" x2="425.00" y2="467.36" stroke="#1e1e1e" stroke-width="0.85"/>
<line x1="423.25" y1="475.76" x2="426.75" y2="475.76" stroke="#1e1e1e" stroke-width="0.85"/>
<line x1="423.25" y1="467.36" x2="426.75" y2="467.36" stroke="#1e1e1e" stroke-width="0.85"/>
<line x1="421.50" y1="471.94" x2="428.50" y2="471.94" stroke="#1e1e1e" stroke-width="1.0"/>
<text x="366.00" y="413.20" font-size="8.7" textLength="65.2" lengthAdjust="spacingAndGlyphs">% CD8 HLA-DR+</text>
<text x="374.30" y="489.00" font-size="6.6" text-anchor="end" transform="rotate(-45 374.30 489.00)" textLength="32" lengthAdjust="spacingAndGlyphs">DLBCL ND</text>
<text x="382.80" y="489.00" font-size="6.6" text-anchor="end" transform="rotate(-45 382.80 489.00)" textLength="31" lengthAdjust="spacingAndGlyphs">DLBCL CR</text>
<text x="391.60" y="489.00" font-size="6.6" text-anchor="end" transform="rotate(-45 391.60 489.00)" textLength="28.5" lengthAdjust="spacingAndGlyphs">CLL w&amp;w</text>
<text x="400.50" y="489.00" font-size="6.6" text-anchor="end" transform="rotate(-45 400.50 489.00)" textLength="27" lengthAdjust="spacingAndGlyphs">AML ND</text>
<text x="409.70" y="489.00" font-size="6.6" text-anchor="end" transform="rotate(-45 409.70 489.00)" textLength="26.5" lengthAdjust="spacingAndGlyphs">AML CR</text>
<text x="418.60" y="489.00" font-size="6.6" text-anchor="end" transform="rotate(-45 418.60 489.00)" textLength="22" lengthAdjust="spacingAndGlyphs">BC ND</text>
<text x="427.40" y="489.00" font-size="6.6" text-anchor="end" transform="rotate(-45 427.40 489.00)" textLength="21" lengthAdjust="spacingAndGlyphs">BC CR</text>
<rect x="475.50" y="420.10" width="18.70" height="59.50" fill="#d2d2d2"/>
<text x="488.90" y="424.60" font-size="6.8" text-anchor="middle">****</text>
<line x1="448.20" y1="417.70" x2="448.20" y2="480.10" stroke="#2e2e2e" stroke-width="1.15"/>
<line x1="445.40" y1="479.60" x2="512.50" y2="479.60" stroke="#2e2e2e" stroke-width="1.15"/>
<text x="442.30" y="481.90" font-size="6.4" text-anchor="end" textLength="3.3" lengthAdjust="spacingAndGlyphs">0</text>
<line x1="445.30" y1="464.80" x2="448.20" y2="464.80" stroke="#2e2e2e" stroke-width="1.0"/>
<text x="442.30" y="467.10" font-size="6.4" text-anchor="end" textLength="3.3" lengthAdjust="spacingAndGlyphs">1</text>
<line x1="445.30" y1="450.00" x2="448.20" y2="450.00" stroke="#2e2e2e" stroke-width="1.0"/>
<text x="442.30" y="452.30" font-size="6.4" text-anchor="end" textLength="3.3" lengthAdjust="spacingAndGlyphs">2</text>
<line x1="445.30" y1="435.20" x2="448.20" y2="435.20" stroke="#2e2e2e" stroke-width="1.0"/>
<text x="442.30" y="437.50" font-size="6.4" text-anchor="end" textLength="3.3" lengthAdjust="spacingAndGlyphs">3</text>
<line x1="445.30" y1="420.40" x2="448.20" y2="420.40" stroke="#2e2e2e" stroke-width="1.0"/>
<text x="442.30" y="422.70" font-size="6.4" text-anchor="end" textLength="3.3" lengthAdjust="spacingAndGlyphs">4</text>
<line x1="453.80" y1="479.60" x2="453.80" y2="482.20" stroke="#2e2e2e" stroke-width="1.0"/>
<line x1="462.50" y1="479.60" x2="462.50" y2="482.20" stroke="#2e2e2e" stroke-width="1.0"/>
<line x1="471.30" y1="479.60" x2="471.30" y2="482.20" stroke="#2e2e2e" stroke-width="1.0"/>
<line x1="480.00" y1="479.60" x2="480.00" y2="482.20" stroke="#2e2e2e" stroke-width="1.0"/>
<line x1="488.60" y1="479.60" x2="488.60" y2="482.20" stroke="#2e2e2e" stroke-width="1.0"/>
<line x1="497.40" y1="479.60" x2="497.40" y2="482.20" stroke="#2e2e2e" stroke-width="1.0"/>
<line x1="506.10" y1="479.60" x2="506.10" y2="482.20" stroke="#2e2e2e" stroke-width="1.0"/>
<circle cx="453.80" cy="479.57" r="1.1" fill="#1c5482"/>
<circle cx="456.52" cy="479.42" r="1.1" fill="#1c5482"/>
<circle cx="451.08" cy="479.17" r="1.1" fill="#1c5482"/>
<circle cx="453.46" cy="478.85" r="1.1" fill="#1c5482"/>
<circle cx="455.16" cy="478.46" r="1.1" fill="#1c5482"/>
<circle cx="453.38" cy="478.01" r="1.1" fill="#1c5482"/>
<circle cx="456.52" cy="477.50" r="1.1" fill="#1c5482"/>
<circle cx="451.08" cy="476.93" r="1.1" fill="#1c5482"/>
<circle cx="453.80" cy="476.31" r="1.1" fill="#1c5482"/>
<circle cx="456.52" cy="475.64" r="1.1" fill="#1c5482"/>
<circle cx="455.16" cy="474.92" r="1.1" fill="#1c5482"/>
<circle cx="453.80" cy="474.15" r="1.1" fill="#1c5482"/>
<circle cx="455.16" cy="473.34" r="1.1" fill="#1c5482"/>
<circle cx="453.80" cy="472.48" r="1.1" fill="#1c5482"/>
<circle cx="455.16" cy="471.58" r="1.1" fill="#1c5482"/>
<circle cx="453.80" cy="470.64" r="1.1" fill="#1c5482"/>
<circle cx="455.16" cy="469.66" r="1.1" fill="#1c5482"/>
<circle cx="453.80" cy="468.63" r="1.1" fill="#1c5482"/>
<circle cx="455.16" cy="467.57" r="1.1" fill="#1c5482"/>
<circle cx="453.80" cy="466.46" r="1.1" fill="#1c5482"/>
<circle cx="455.16" cy="465.32" r="1.1" fill="#1c5482"/>
<circle cx="453.80" cy="464.14" r="1.1" fill="#1c5482"/>
<circle cx="455.16" cy="462.92" r="1.1" fill="#1c5482"/>
<circle cx="453.80" cy="461.67" r="1.1" fill="#1c5482"/>
<circle cx="455.16" cy="460.38" r="1.1" fill="#1c5482"/>
<circle cx="453.80" cy="459.05" r="1.1" fill="#1c5482"/>
<circle cx="455.16" cy="457.69" r="1.1" fill="#1c5482"/>
<circle cx="453.80" cy="456.30" r="1.1" fill="#1c5482"/>
<circle cx="455.16" cy="454.87" r="1.1" fill="#1c5482"/>
<circle cx="453.80" cy="453.40" r="1.1" fill="#1c5482"/>
<circle cx="455.16" cy="451.90" r="1.1" fill="#1c5482"/>
<circle cx="453.80" cy="450.37" r="1.1" fill="#1c5482"/>
<circle cx="453.80" cy="448.81" r="1.1" fill="#1c5482"/>
<circle cx="453.80" cy="447.21" r="1.1" fill="#1c5482"/>
<circle cx="453.80" cy="445.59" r="1.1" fill="#1c5482"/>
<circle cx="453.80" cy="443.93" r="1.1" fill="#1c5482"/>
<circle cx="453.80" cy="442.24" r="1.1" fill="#1c5482"/>
<circle cx="453.80" cy="440.51" r="1.1" fill="#1c5482"/>
<line x1="453.80" y1="475.64" x2="453.80" y2="454.87" stroke="#1e1e1e" stroke-width="0.85"/>
<line x1="452.05" y1="475.64" x2="455.55" y2="475.64" stroke="#1e1e1e" stroke-width="0.85"/>
<line x1="452.05" y1="454.87" x2="455.55" y2="454.87" stroke="#1e1e1e" stroke-width="0.85"/>
<line x1="450.30" y1="466.46" x2="457.30" y2="466.46" stroke="#1e1e1e" stroke-width="1.0"/>
<circle cx="462.50" cy="479.50" r="1.1" fill="#c2183a"/>
<circle cx="465.22" cy="479.16" r="1.1" fill="#c2183a"/>
<circle cx="461.14" cy="478.75" r="1.1" fill="#c2183a"/>
<circle cx="463.86" cy="478.28" r="1.1" fill="#c2183a"/>
<circle cx="459.78" cy="477.76" r="1.1" fill="#c2183a"/>
<circle cx="462.50" cy="477.21" r="1.1" fill="#c2183a"/>
<circle cx="465.22" cy="476.62" r="1.1" fill="#c2183a"/>
<circle cx="461.14" cy="476.01" r="1.1" fill="#c2183a"/>
<circle cx="463.86" cy="475.37" r="1.1" fill="#c2183a"/>
<circle cx="459.78" cy="474.71" r="1.1" fill="#c2183a"/>
<circle cx="462.50" cy="474.03" r="1.1" fill="#c2183a"/>
<circle cx="463.86" cy="473.32" r="1.1" fill="#c2183a"/>
<circle cx="461.14" cy="472.60" r="1.1" fill="#c2183a"/>
<circle cx="462.50" cy="471.86" r="1.1" fill="#c2183a"/>
<circle cx="463.86" cy="471.10" r="1.1" fill="#c2183a"/>
<circle cx="462.50" cy="470.33" r="1.1" fill="#c2183a"/>
<circle cx="463.86" cy="469.54" r="1.1" fill="#c2183a"/>
<circle cx="462.50" cy="468.73" r="1.1" fill="#c2183a"/>
<circle cx="463.86" cy="467.91" r="1.1" fill="#c2183a"/>
<circle cx="462.50" cy="467.08" r="1.1" fill="#c2183a"/>
<circle cx="463.86" cy="466.23" r="1.1" fill="#c2183a"/>
<circle cx="462.50" cy="465.37" r="1.1" fill="#c2183a"/>
<circle cx="463.86" cy="464.50" r="1.1" fill="#c2183a"/>
<circle cx="462.50" cy="463.62" r="1.1" fill="#c2183a"/>
<circle cx="463.86" cy="462.72" r="1.1" fill="#c2183a"/>
<circle cx="462.50" cy="461.81" r="1.1" fill="#c2183a"/>
<circle cx="463.86" cy="460.90" r="1.1" fill="#c2183a"/>
<circle cx="462.50" cy="459.97" r="1.1" fill="#c2183a"/>
<circle cx="463.86" cy="459.03" r="1.1" fill="#c2183a"/>
<circle cx="462.50" cy="458.08" r="1.1" fill="#c2183a"/>
<circle cx="463.86" cy="457.12" r="1.1" fill="#c2183a"/>
<circle cx="462.50" cy="456.15" r="1.1" fill="#c2183a"/>
<circle cx="463.86" cy="455.17" r="1.1" fill="#c2183a"/>
<circle cx="462.50" cy="454.19" r="1.1" fill="#c2183a"/>
<circle cx="463.86" cy="453.19" r="1.1" fill="#c2183a"/>
<circle cx="462.50" cy="452.18" r="1.1" fill="#c2183a"/>
<circle cx="463.86" cy="451.17" r="1.1" fill="#c2183a"/>
<circle cx="462.50" cy="450.14" r="1.1" fill="#c2183a"/>
<circle cx="463.86" cy="449.11" r="1.1" fill="#c2183a"/>
<circle cx="462.50" cy="448.07" r="1.1" fill="#c2183a"/>
<circle cx="463.86" cy="447.02" r="1.1" fill="#c2183a"/>
<circle cx="462.50" cy="445.97" r="1.1" fill="#c2183a"/>
<circle cx="463.86" cy="444.90" r="1.1" fill="#c2183a"/>
<circle cx="462.50" cy="443.83" r="1.1" fill="#c2183a"/>
<circle cx="463.86" cy="442.75" r="1.1" fill="#c2183a"/>
<circle cx="462.50" cy="441.67" r="1.1" fill="#c2183a"/>
<circle cx="462.50" cy="427.80" r="1.1" fill="#c2183a"/>
<line x1="462.50" y1="473.32" x2="462.50" y2="452.18" stroke="#1e1e1e" stroke-width="0.85"/>
<line x1="460.75" y1="473.32" x2="464.25" y2="473.32" stroke="#1e1e1e" stroke-width="0.85"/>
<line x1="460.75" y1="452.18" x2="464.25" y2="452.18" stroke="#1e1e1e" stroke-width="0.85"/>
<line x1="459.00" y1="463.62" x2="466.00" y2="463.62" stroke="#1e1e1e" stroke-width="1.0"/>
<circle cx="471.30" cy="476.57" r="1.1" fill="#1c5482"/>
<circle cx="474.02" cy="476.26" r="1.1" fill="#1c5482"/>
<circle cx="469.94" cy="475.78" r="1.1" fill="#1c5482"/>
<circle cx="472.66" cy="475.17" r="1.1" fill="#1c5482"/>
<circle cx="471.30" cy="474.45" r="1.1" fill="#1c5482"/>
<circle cx="472.66" cy="473.63" r="1.1" fill="#1c5482"/>
<circle cx="471.30" cy="472.72" r="1.1" fill="#1c5482"/>
<circle cx="472.66" cy="471.72" r="1.1" fill="#1c5482"/>
<circle cx="471.30" cy="470.64" r="1.1" fill="#1c5482"/>
<circle cx="472.66" cy="469.49" r="1.1" fill="#1c5482"/>
<circle cx="471.30" cy="468.26" r="1.1" fill="#1c5482"/>
<circle cx="472.66" cy="466.96" r="1.1" fill="#1c5482"/>
<circle cx="471.30" cy="465.59" r="1.1" fill="#1c5482"/>
<circle cx="472.66" cy="464.15" r="1.1" fill="#1c5482"/>
<circle cx="471.30" cy="462.66" r="1.1" fill="#1c5482"/>
<circle cx="471.30" cy="461.10" r="1.1" fill="#1c5482"/>
<circle cx="471.30" cy="459.48" r="1.1" fill="#1c5482"/>
<circle cx="471.30" cy="457.80" r="1.1" fill="#1c5482"/>
<circle cx="471.30" cy="456.07" r="1.1" fill="#1c5482"/>
<circle cx="471.30" cy="454.28" r="1.1" fill="#1c5482"/>
<circle cx="471.30" cy="452.43" r="1.1" fill="#1c5482"/>
<circle cx="471.30" cy="450.53" r="1.1" fill="#1c5482"/>
<circle cx="471.30" cy="448.58" r="1.1" fill="#1c5482"/>
<circle cx="471.30" cy="446.58" r="1.1" fill="#1c5482"/>
<line x1="471.30" y1="472.72" x2="471.30" y2="456.07" stroke="#1e1e1e" stroke-width="0.85"/>
<line x1="469.55" y1="472.72" x2="473.05" y2="472.72" stroke="#1e1e1e" stroke-width="0.85"/>
<line x1="469.55" y1="456.07" x2="473.05" y2="456.07" stroke="#1e1e1e" stroke-width="0.85"/>
<line x1="467.80" y1="465.59" x2="474.80" y2="465.59" stroke="#1e1e1e" stroke-width="1.0"/>
<circle cx="480.00" cy="474.60" r="1.1" fill="#1c5482"/>
<circle cx="481.36" cy="473.36" r="1.1" fill="#1c5482"/>
<circle cx="480.00" cy="472.06" r="1.1" fill="#1c5482"/>
<circle cx="481.36" cy="470.73" r="1.1" fill="#1c5482"/>
<circle cx="480.00" cy="469.38" r="1.1" fill="#1c5482"/>
<circle cx="481.36" cy="468.02" r="1.1" fill="#1c5482"/>
<circle cx="480.00" cy="466.64" r="1.1" fill="#1c5482"/>
<circle cx="481.36" cy="465.24" r="1.1" fill="#1c5482"/>
<circle cx="480.00" cy="463.83" r="1.1" fill="#1c5482"/>
<circle cx="481.36" cy="462.42" r="1.1" fill="#1c5482"/>
<circle cx="480.00" cy="460.99" r="1.1" fill="#1c5482"/>
<circle cx="481.36" cy="459.56" r="1.1" fill="#1c5482"/>
<circle cx="480.00" cy="458.12" r="1.1" fill="#1c5482"/>
<circle cx="481.36" cy="456.68" r="1.1" fill="#1c5482"/>
<circle cx="480.00" cy="455.22" r="1.1" fill="#1c5482"/>
<circle cx="481.36" cy="453.76" r="1.1" fill="#1c5482"/>
<circle cx="480.00" cy="452.30" r="1.1" fill="#1c5482"/>
<circle cx="481.36" cy="450.83" r="1.1" fill="#1c5482"/>
<circle cx="480.00" cy="449.36" r="1.1" fill="#1c5482"/>
<circle cx="481.36" cy="447.88" r="1.1" fill="#1c5482"/>
<circle cx="480.00" cy="446.39" r="1.1" fill="#1c5482"/>
<circle cx="481.36" cy="444.90" r="1.1" fill="#1c5482"/>
<circle cx="480.00" cy="443.41" r="1.1" fill="#1c5482"/>
<circle cx="481.36" cy="441.92" r="1.1" fill="#1c5482"/>
<circle cx="480.00" cy="440.42" r="1.1" fill="#1c5482"/>
<circle cx="481.36" cy="438.91" r="1.1" fill="#1c5482"/>
<line x1="480.00" y1="466.64" x2="480.00" y2="447.88" stroke="#1e1e1e" stroke-width="0.85"/>
<line x1="478.25" y1="466.64" x2="481.75" y2="466.64" stroke="#1e1e1e" stroke-width="0.85"/>
<line x1="478.25" y1="447.88" x2="481.75" y2="447.88" stroke="#1e1e1e" stroke-width="0.85"/>
<line x1="476.50" y1="456.68" x2="483.50" y2="456.68" stroke="#1e1e1e" stroke-width="1.0"/>
<circle cx="488.60" cy="473.72" r="1.1" fill="#c2183a"/>
<circle cx="488.60" cy="470.75" r="1.1" fill="#c2183a"/>
<circle cx="488.60" cy="468.48" r="1.1" fill="#c2183a"/>
<circle cx="488.60" cy="466.53" r="1.1" fill="#c2183a"/>
<circle cx="488.60" cy="464.77" r="1.1" fill="#c2183a"/>
<circle cx="488.60" cy="463.15" r="1.1" fill="#c2183a"/>
<circle cx="489.96" cy="461.64" r="1.1" fill="#c2183a"/>
<circle cx="488.60" cy="460.20" r="1.1" fill="#c2183a"/>
<circle cx="489.96" cy="458.84" r="1.1" fill="#c2183a"/>
<circle cx="488.60" cy="457.53" r="1.1" fill="#c2183a"/>
<circle cx="489.96" cy="456.27" r="1.1" fill="#c2183a"/>
<circle cx="488.60" cy="455.06" r="1.1" fill="#c2183a"/>
<circle cx="489.96" cy="453.88" r="1.1" fill="#c2183a"/>
<circle cx="488.60" cy="452.73" r="1.1" fill="#c2183a"/>
<circle cx="489.96" cy="451.62" r="1.1" fill="#c2183a"/>
<circle cx="488.60" cy="450.53" r="1.1" fill="#c2183a"/>
<circle cx="489.96" cy="449.47" r="1.1" fill="#c2183a"/>
<circle cx="488.60" cy="448.43" r="1.1" fill="#c2183a"/>
<circle cx="489.96" cy="447.42" r="1.1" fill="#c2183a"/>
<circle cx="488.60" cy="446.42" r="1.1" fill="#c2183a"/>
<circle cx="489.96" cy="445.44" r="1.1" fill="#c2183a"/>
<circle cx="488.60" cy="444.48" r="1.1" fill="#c2183a"/>
<circle cx="489.96" cy="443.53" r="1.1" fill="#c2183a"/>
<circle cx="488.60" cy="442.60" r="1.1" fill="#c2183a"/>
<circle cx="489.96" cy="441.69" r="1.1" fill="#c2183a"/>
<circle cx="488.60" cy="440.78" r="1.1" fill="#c2183a"/>
<circle cx="489.96" cy="439.89" r="1.1" fill="#c2183a"/>
<circle cx="488.60" cy="439.02" r="1.1" fill="#c2183a"/>
<circle cx="489.96" cy="438.15" r="1.1" fill="#c2183a"/>
<circle cx="488.60" cy="437.29" r="1.1" fill="#c2183a"/>
<circle cx="489.96" cy="436.45" r="1.1" fill="#c2183a"/>
<circle cx="488.60" cy="435.61" r="1.1" fill="#c2183a"/>
<circle cx="488.60" cy="429.28" r="1.1" fill="#c2183a"/>
<circle cx="488.60" cy="424.10" r="1.1" fill="#c2183a"/>
<line x1="488.60" y1="458.84" x2="488.60" y2="440.78" stroke="#1e1e1e" stroke-width="0.85"/>
<line x1="486.85" y1="458.84" x2="490.35" y2="458.84" stroke="#1e1e1e" stroke-width="0.85"/>
<line x1="486.85" y1="440.78" x2="490.35" y2="440.78" stroke="#1e1e1e" stroke-width="0.85"/>
<line x1="485.10" y1="448.43" x2="492.10" y2="448.43" stroke="#1e1e1e" stroke-width="1.0"/>
<circle cx="497.40" cy="479.45" r="1.1" fill="#1c5482"/>
<circle cx="500.12" cy="478.90" r="1.1" fill="#1c5482"/>
<circle cx="498.76" cy="478.15" r="1.1" fill="#1c5482"/>
<circle cx="497.40" cy="477.27" r="1.1" fill="#1c5482"/>
<circle cx="498.76" cy="476.28" r="1.1" fill="#1c5482"/>
<circle cx="497.40" cy="475.18" r="1.1" fill="#1c5482"/>
<circle cx="498.76" cy="474.01" r="1.1" fill="#1c5482"/>
<circle cx="497.40" cy="472.75" r="1.1" fill="#1c5482"/>
<circle cx="498.76" cy="471.42" r="1.1" fill="#1c5482"/>
<circle cx="497.40" cy="470.03" r="1.1" fill="#1c5482"/>
<circle cx="498.76" cy="468.57" r="1.1" fill="#1c5482"/>
<circle cx="497.40" cy="467.06" r="1.1" fill="#1c5482"/>
<circle cx="497.40" cy="465.49" r="1.1" fill="#1c5482"/>
<circle cx="497.40" cy="463.86" r="1.1" fill="#1c5482"/>
<circle cx="497.40" cy="462.19" r="1.1" fill="#1c5482"/>
<circle cx="497.40" cy="460.47" r="1.1" fill="#1c5482"/>
<circle cx="497.40" cy="458.70" r="1.1" fill="#1c5482"/>
<circle cx="497.40" cy="456.88" r="1.1" fill="#1c5482"/>
<circle cx="497.40" cy="455.02" r="1.1" fill="#1c5482"/>
<circle cx="497.40" cy="453.12" r="1.1" fill="#1c5482"/>
<circle cx="497.40" cy="451.18" r="1.1" fill="#1c5482"/>
<circle cx="497.40" cy="449.20" r="1.1" fill="#1c5482"/>
<circle cx="497.40" cy="447.18" r="1.1" fill="#1c5482"/>
<circle cx="497.40" cy="445.12" r="1.1" fill="#1c5482"/>
<line x1="497.40" y1="474.01" x2="497.40" y2="455.02" stroke="#1e1e1e" stroke-width="0.85"/>
<line x1="495.65" y1="474.01" x2="499.15" y2="474.01" stroke="#1e1e1e" stroke-width="0.85"/>
<line x1="495.65" y1="455.02" x2="499.15" y2="455.02" stroke="#1e1e1e" stroke-width="0.85"/>
<line x1="493.90" y1="465.49" x2="500.90" y2="465.49" stroke="#1e1e1e" stroke-width="1.0"/>
<circle cx="506.10" cy="473.65" r="1.1" fill="#c2183a"/>
<circle cx="508.82" cy="473.47" r="1.1" fill="#c2183a"/>
<circle cx="503.38" cy="473.21" r="1.1" fill="#c2183a"/>
<circle cx="505.58" cy="472.86" r="1.1" fill="#c2183a"/>
<circle cx="507.46" cy="472.45" r="1.1" fill="#c2183a"/>
<circle cx="506.53" cy="471.98" r="1.1" fill="#c2183a"/>
<circle cx="504.74" cy="471.45" r="1.1" fill="#c2183a"/>
<circle cx="508.82" cy="470.86" r="1.1" fill="#c2183a"/>
<circle cx="506.10" cy="470.23" r="1.1" fill="#c2183a"/>
<circle cx="507.46" cy="469.55" r="1.1" fill="#c2183a"/>
<circle cx="504.74" cy="468.82" r="1.1" fill="#c2183a"/>
<circle cx="506.10" cy="468.05" r="1.1" fill="#c2183a"/>
<circle cx="507.46" cy="467.23" r="1.1" fill="#c2183a"/>
<circle cx="506.10" cy="466.38" r="1.1" fill="#c2183a"/>
<circle cx="507.46" cy="465.48" r="1.1" fill="#c2183a"/>
<circle cx="506.10" cy="464.54" r="1.1" fill="#c2183a"/>
<circle cx="507.46" cy="463.57" r="1.1" fill="#c2183a"/>
<circle cx="506.10" cy="462.56" r="1.1" fill="#c2183a"/>
<circle cx="507.46" cy="461.51" r="1.1" fill="#c2183a"/>
<circle cx="506.10" cy="460.42" r="1.1" fill="#c2183a"/>
<circle cx="507.46" cy="459.30" r="1.1" fill="#c2183a"/>
<circle cx="506.10" cy="458.15" r="1.1" fill="#c2183a"/>
<circle cx="507.46" cy="456.96" r="1.1" fill="#c2183a"/>
<circle cx="506.10" cy="455.74" r="1.1" fill="#c2183a"/>
<circle cx="507.46" cy="454.48" r="1.1" fill="#c2183a"/>
<circle cx="506.10" cy="453.20" r="1.1" fill="#c2183a"/>
<circle cx="507.46" cy="451.88" r="1.1" fill="#c2183a"/>
<circle cx="506.10" cy="450.53" r="1.1" fill="#c2183a"/>
<circle cx="507.46" cy="449.15" r="1.1" fill="#c2183a"/>
<circle cx="506.10" cy="447.74" r="1.1" fill="#c2183a"/>
<circle cx="507.46" cy="446.30" r="1.1" fill="#c2183a"/>
<circle cx="506.10" cy="444.83" r="1.1" fill="#c2183a"/>
<line x1="506.10" y1="470.23" x2="506.10" y2="454.48" stroke="#1e1e1e" stroke-width="0.85"/>
<line x1="504.35" y1="470.23" x2="507.85" y2="470.23" stroke="#1e1e1e" stroke-width="0.85"/>
<line x1="504.35" y1="454.48" x2="507.85" y2="454.48" stroke="#1e1e1e" stroke-width="0.85"/>
<line x1="502.60" y1="463.57" x2="509.60" y2="463.57" stroke="#1e1e1e" stroke-width="1.0"/>
<text x="452.20" y="413.20" font-size="8.7" textLength="55.5" lengthAdjust="spacingAndGlyphs">% CD8 CD57+</text>
<text x="456.20" y="489.00" font-size="6.6" text-anchor="end" transform="rotate(-45 456.20 489.00)" textLength="32" lengthAdjust="spacingAndGlyphs">DLBCL ND</text>
<text x="464.90" y="489.00" font-size="6.6" text-anchor="end" transform="rotate(-45 464.90 489.00)" textLength="31" lengthAdjust="spacingAndGlyphs">DLBCL CR</text>
<text x="473.70" y="489.00" font-size="6.6" text-anchor="end" transform="rotate(-45 473.70 489.00)" textLength="28.5" lengthAdjust="spacingAndGlyphs">CLL w&amp;w</text>
<text x="482.40" y="489.00" font-size="6.6" text-anchor="end" transform="rotate(-45 482.40 489.00)" textLength="27" lengthAdjust="spacingAndGlyphs">AML ND</text>
<text x="491.00" y="489.00" font-size="6.6" text-anchor="end" transform="rotate(-45 491.00 489.00)" textLength="26.5" lengthAdjust="spacingAndGlyphs">AML CR</text>
<text x="499.80" y="489.00" font-size="6.6" text-anchor="end" transform="rotate(-45 499.80 489.00)" textLength="22" lengthAdjust="spacingAndGlyphs">BC ND</text>
<text x="508.50" y="489.00" font-size="6.6" text-anchor="end" transform="rotate(-45 508.50 489.00)" textLength="21" lengthAdjust="spacingAndGlyphs">BC CR</text>
<text x="14.10" y="448.40" font-size="8.3" text-anchor="middle" transform="rotate(-90 14.10 448.40)" textLength="72" lengthAdjust="spacingAndGlyphs">Normalized fold-change</text>
<text x="24.10" y="448.80" font-size="8.3" text-anchor="middle" transform="rotate(-90 24.10 448.80)" textLength="80" lengthAdjust="spacingAndGlyphs">(Mean healthy control = 1)</text>
<polyline points="220.40,561.40 220.40,557.10 240.00,557.10 240.00,577.10" fill="none" stroke="#606060" stroke-width="0.85"/>
<text x="230.40" y="556.70" font-size="6.8" text-anchor="middle">*</text>
<line x1="207.20" y1="541.60" x2="207.20" y2="613.50" stroke="#2e2e2e" stroke-width="1.15"/>
<line x1="204.40" y1="613.00" x2="251.30" y2="613.00" stroke="#2e2e2e" stroke-width="1.15"/>
<text x="200.60" y="615.30" font-size="6.4" text-anchor="end" textLength="3.3" lengthAdjust="spacingAndGlyphs">0</text>
<line x1="204.30" y1="599.26" x2="207.20" y2="599.26" stroke="#2e2e2e" stroke-width="1.0"/>
<text x="200.60" y="601.56" font-size="6.4" text-anchor="end" textLength="9.9" lengthAdjust="spacingAndGlyphs">200</text>
<line x1="204.30" y1="585.52" x2="207.20" y2="585.52" stroke="#2e2e2e" stroke-width="1.0"/>
<text x="200.60" y="587.82" font-size="6.4" text-anchor="end" textLength="9.9" lengthAdjust="spacingAndGlyphs">400</text>
<line x1="204.30" y1="571.78" x2="207.20" y2="571.78" stroke="#2e2e2e" stroke-width="1.0"/>
<text x="200.60" y="574.08" font-size="6.4" text-anchor="end" textLength="9.9" lengthAdjust="spacingAndGlyphs">600</text>
<line x1="204.30" y1="558.04" x2="207.20" y2="558.04" stroke="#2e2e2e" stroke-width="1.0"/>
<text x="200.60" y="560.34" font-size="6.4" text-anchor="end" textLength="9.9" lengthAdjust="spacingAndGlyphs">800</text>
<line x1="204.30" y1="544.30" x2="207.20" y2="544.30" stroke="#2e2e2e" stroke-width="1.0"/>
<text x="200.60" y="546.60" font-size="6.4" text-anchor="end" textLength="13.2" lengthAdjust="spacingAndGlyphs">1000</text>
<line x1="220.40" y1="613.00" x2="220.40" y2="615.60" stroke="#2e2e2e" stroke-width="1.0"/>
<line x1="240.00" y1="613.00" x2="240.00" y2="615.60" stroke="#2e2e2e" stroke-width="1.0"/>
<circle cx="220.40" cy="564.91" r="1.0" fill="#4a9a58"/>
<circle cx="218.20" cy="578.65" r="1.0" fill="#4a9a58"/>
<circle cx="222.60" cy="584.15" r="1.0" fill="#4a9a58"/>
<circle cx="219.40" cy="590.33" r="1.0" fill="#4a9a58"/>
<line x1="220.40" y1="590.33" x2="220.40" y2="564.91" stroke="#1e1e1e" stroke-width="1.0"/>
<line x1="217.40" y1="590.33" x2="223.40" y2="590.33" stroke="#1e1e1e" stroke-width="1.0"/>
<line x1="217.40" y1="564.91" x2="223.40" y2="564.91" stroke="#1e1e1e" stroke-width="1.0"/>
<line x1="214.15" y1="579.34" x2="226.65" y2="579.34" stroke="#1e1e1e" stroke-width="1.15"/>
<circle cx="240.00" cy="582.09" r="1.0" fill="#28506e"/>
<circle cx="237.80" cy="585.52" r="1.0" fill="#28506e"/>
<circle cx="242.20" cy="587.58" r="1.0" fill="#28506e"/>
<circle cx="239.00" cy="590.33" r="1.0" fill="#28506e"/>
<circle cx="241.00" cy="592.39" r="1.0" fill="#28506e"/>
<circle cx="237.00" cy="596.51" r="1.0" fill="#28506e"/>
<line x1="240.00" y1="596.51" x2="240.00" y2="582.09" stroke="#1e1e1e" stroke-width="1.0"/>
<line x1="237.00" y1="596.51" x2="243.00" y2="596.51" stroke="#1e1e1e" stroke-width="1.0"/>
<line x1="237.00" y1="582.09" x2="243.00" y2="582.09" stroke="#1e1e1e" stroke-width="1.0"/>
<line x1="233.75" y1="587.92" x2="246.25" y2="587.92" stroke="#1e1e1e" stroke-width="1.15"/>
<text x="220.40" y="624.50" font-size="6.7" text-anchor="middle">HC</text>
<text x="240.00" y="624.50" font-size="6.7" text-anchor="middle">Tumor</text>
<text x="204.90" y="535.90" font-size="8.7" textLength="51.7" lengthAdjust="spacingAndGlyphs">Periph. Blood</text>
<text x="182.50" y="576.70" font-size="8.4" text-anchor="middle" transform="rotate(-90 182.50 576.70)" textLength="36.6" lengthAdjust="spacingAndGlyphs">mCD4-Tn/µl</text>
<polyline points="303.80,548.90 303.80,545.90 323.40,545.90 323.40,589.60" fill="none" stroke="#606060" stroke-width="0.85"/>
<text x="313.00" y="546.00" font-size="6.8" text-anchor="middle">****</text>
<line x1="291.10" y1="541.60" x2="291.10" y2="613.50" stroke="#2e2e2e" stroke-width="1.15"/>
<line x1="288.30" y1="613.00" x2="336.80" y2="613.00" stroke="#2e2e2e" stroke-width="1.15"/>
<text x="284.70" y="615.30" font-size="6.4" text-anchor="end" textLength="3.3" lengthAdjust="spacingAndGlyphs">0</text>
<line x1="288.20" y1="599.26" x2="291.10" y2="599.26" stroke="#2e2e2e" stroke-width="1.0"/>
<text x="284.70" y="601.56" font-size="6.4" text-anchor="end" textLength="9.9" lengthAdjust="spacingAndGlyphs">200</text>
<line x1="288.20" y1="585.52" x2="291.10" y2="585.52" stroke="#2e2e2e" stroke-width="1.0"/>
<text x="284.70" y="587.82" font-size="6.4" text-anchor="end" textLength="9.9" lengthAdjust="spacingAndGlyphs">400</text>
<line x1="288.20" y1="571.78" x2="291.10" y2="571.78" stroke="#2e2e2e" stroke-width="1.0"/>
<text x="284.70" y="574.08" font-size="6.4" text-anchor="end" textLength="9.9" lengthAdjust="spacingAndGlyphs">600</text>
<line x1="288.20" y1="558.04" x2="291.10" y2="558.04" stroke="#2e2e2e" stroke-width="1.0"/>
<text x="284.70" y="560.34" font-size="6.4" text-anchor="end" textLength="9.9" lengthAdjust="spacingAndGlyphs">800</text>
<line x1="288.20" y1="544.30" x2="291.10" y2="544.30" stroke="#2e2e2e" stroke-width="1.0"/>
<text x="284.70" y="546.60" font-size="6.4" text-anchor="end" textLength="13.2" lengthAdjust="spacingAndGlyphs">1000</text>
<line x1="303.80" y1="613.00" x2="303.80" y2="615.60" stroke="#2e2e2e" stroke-width="1.0"/>
<line x1="323.40" y1="613.00" x2="323.40" y2="615.60" stroke="#2e2e2e" stroke-width="1.0"/>
<circle cx="303.80" cy="553.23" r="1.0" fill="#4a9a58"/>
<circle cx="301.60" cy="564.91" r="1.0" fill="#4a9a58"/>
<circle cx="306.00" cy="565.60" r="1.0" fill="#4a9a58"/>
<circle cx="302.80" cy="569.03" r="1.0" fill="#4a9a58"/>
<circle cx="304.80" cy="570.41" r="1.0" fill="#4a9a58"/>
<circle cx="300.80" cy="573.15" r="1.0" fill="#4a9a58"/>
<circle cx="306.80" cy="580.02" r="1.0" fill="#4a9a58"/>
<circle cx="303.80" cy="582.77" r="1.0" fill="#4a9a58"/>
<line x1="303.80" y1="573.50" x2="303.80" y2="564.91" stroke="#1e1e1e" stroke-width="1.0"/>
<line x1="300.80" y1="573.50" x2="306.80" y2="573.50" stroke="#1e1e1e" stroke-width="1.0"/>
<line x1="300.80" y1="564.91" x2="306.80" y2="564.91" stroke="#1e1e1e" stroke-width="1.0"/>
<line x1="297.55" y1="570.06" x2="310.05" y2="570.06" stroke="#1e1e1e" stroke-width="1.15"/>
<circle cx="323.40" cy="591.70" r="1.0" fill="#28506e"/>
<circle cx="321.20" cy="593.76" r="1.0" fill="#28506e"/>
<circle cx="325.60" cy="599.26" r="1.0" fill="#28506e"/>
<circle cx="322.40" cy="600.63" r="1.0" fill="#28506e"/>
<circle cx="324.40" cy="602.01" r="1.0" fill="#28506e"/>
<circle cx="320.40" cy="606.13" r="1.0" fill="#28506e"/>
<circle cx="326.40" cy="607.50" r="1.0" fill="#28506e"/>
<line x1="323.40" y1="602.69" x2="323.40" y2="598.23" stroke="#1e1e1e" stroke-width="1.0"/>
<line x1="320.40" y1="602.69" x2="326.40" y2="602.69" stroke="#1e1e1e" stroke-width="1.0"/>
<line x1="320.40" y1="598.23" x2="326.40" y2="598.23" stroke="#1e1e1e" stroke-width="1.0"/>
<line x1="317.15" y1="600.29" x2="329.65" y2="600.29" stroke="#1e1e1e" stroke-width="1.15"/>
<text x="303.80" y="624.50" font-size="6.7" text-anchor="middle">HC</text>
<text x="323.40" y="624.50" font-size="6.7" text-anchor="middle">Tumor</text>
<text x="300.50" y="536.00" font-size="8.7" textLength="26.8" lengthAdjust="spacingAndGlyphs">Spleen</text>
<polyline points="380.70,554.80 380.70,551.30 400.70,551.30 400.70,559.60" fill="none" stroke="#606060" stroke-width="0.85"/>
<text x="390.90" y="548.10" font-size="6.2" text-anchor="middle">ns</text>
<line x1="367.70" y1="541.70" x2="367.70" y2="613.50" stroke="#2e2e2e" stroke-width="1.15"/>
<line x1="364.90" y1="613.00" x2="414.10" y2="613.00" stroke="#2e2e2e" stroke-width="1.15"/>
<text x="361.90" y="615.30" font-size="6.4" text-anchor="end" textLength="3.3" lengthAdjust="spacingAndGlyphs">0</text>
<line x1="364.80" y1="590.13" x2="367.70" y2="590.13" stroke="#2e2e2e" stroke-width="1.0"/>
<text x="361.90" y="592.44" font-size="6.4" text-anchor="end" textLength="6.6" lengthAdjust="spacingAndGlyphs">50</text>
<line x1="364.80" y1="567.27" x2="367.70" y2="567.27" stroke="#2e2e2e" stroke-width="1.0"/>
<text x="361.90" y="569.57" font-size="6.4" text-anchor="end" textLength="9.9" lengthAdjust="spacingAndGlyphs">100</text>
<line x1="364.80" y1="544.40" x2="367.70" y2="544.40" stroke="#2e2e2e" stroke-width="1.0"/>
<text x="361.90" y="546.70" font-size="6.4" text-anchor="end" textLength="9.9" lengthAdjust="spacingAndGlyphs">150</text>
<line x1="380.70" y1="613.00" x2="380.70" y2="615.60" stroke="#2e2e2e" stroke-width="1.0"/>
<line x1="400.70" y1="613.00" x2="400.70" y2="615.60" stroke="#2e2e2e" stroke-width="1.0"/>
<circle cx="380.70" cy="559.03" r="1.0" fill="#4a9a58"/>
<circle cx="378.50" cy="570.93" r="1.0" fill="#4a9a58"/>
<circle cx="382.90" cy="583.27" r="1.0" fill="#4a9a58"/>
<circle cx="379.70" cy="586.47" r="1.0" fill="#4a9a58"/>
<circle cx="381.70" cy="590.13" r="1.0" fill="#4a9a58"/>
<circle cx="377.70" cy="593.79" r="1.0" fill="#4a9a58"/>
<circle cx="383.70" cy="580.99" r="1.0" fill="#4a9a58"/>
<line x1="380.70" y1="585.56" x2="380.70" y2="576.41" stroke="#1e1e1e" stroke-width="1.0"/>
<line x1="377.70" y1="585.56" x2="383.70" y2="585.56" stroke="#1e1e1e" stroke-width="1.0"/>
<line x1="377.70" y1="576.41" x2="383.70" y2="576.41" stroke="#1e1e1e" stroke-width="1.0"/>
<line x1="374.45" y1="580.99" x2="386.95" y2="580.99" stroke="#1e1e1e" stroke-width="1.15"/>
<circle cx="400.70" cy="563.61" r="1.0" fill="#28506e"/>
<circle cx="398.50" cy="576.41" r="1.0" fill="#28506e"/>
<circle cx="402.90" cy="577.33" r="1.0" fill="#28506e"/>
<circle cx="399.70" cy="578.24" r="1.0" fill="#28506e"/>
<circle cx="401.70" cy="580.99" r="1.0" fill="#28506e"/>
<circle cx="397.70" cy="584.65" r="1.0" fill="#28506e"/>
<circle cx="403.70" cy="591.05" r="1.0" fill="#28506e"/>
<line x1="400.70" y1="580.99" x2="400.70" y2="575.50" stroke="#1e1e1e" stroke-width="1.0"/>
<line x1="397.70" y1="580.99" x2="403.70" y2="580.99" stroke="#1e1e1e" stroke-width="1.0"/>
<line x1="397.70" y1="575.50" x2="403.70" y2="575.50" stroke="#1e1e1e" stroke-width="1.0"/>
<line x1="394.45" y1="577.79" x2="406.95" y2="577.79" stroke="#1e1e1e" stroke-width="1.15"/>
<text x="380.70" y="624.50" font-size="6.7" text-anchor="middle">HC</text>
<text x="400.70" y="624.50" font-size="6.7" text-anchor="middle">Tumor</text>
<text x="366.40" y="535.70" font-size="8.7" textLength="48.6" lengthAdjust="spacingAndGlyphs">Lymph Node</text>
<polyline points="468.20,601.30 468.20,554.80 488.10,554.80 488.10,557.50" fill="none" stroke="#606060" stroke-width="0.85"/>
<text x="477.70" y="554.40" font-size="6.8" text-anchor="middle">****</text>
<line x1="454.90" y1="541.70" x2="454.90" y2="613.50" stroke="#2e2e2e" stroke-width="1.15"/>
<line x1="452.10" y1="613.00" x2="499.10" y2="613.00" stroke="#2e2e2e" stroke-width="1.15"/>
<text x="448.80" y="615.30" font-size="6.4" text-anchor="end" textLength="3.3" lengthAdjust="spacingAndGlyphs">0</text>
<line x1="452.00" y1="590.13" x2="454.90" y2="590.13" stroke="#2e2e2e" stroke-width="1.0"/>
<text x="448.80" y="592.44" font-size="6.4" text-anchor="end" textLength="6.6" lengthAdjust="spacingAndGlyphs">10</text>
<line x1="452.00" y1="567.27" x2="454.90" y2="567.27" stroke="#2e2e2e" stroke-width="1.0"/>
<text x="448.80" y="569.57" font-size="6.4" text-anchor="end" textLength="6.6" lengthAdjust="spacingAndGlyphs">20</text>
<line x1="452.00" y1="544.40" x2="454.90" y2="544.40" stroke="#2e2e2e" stroke-width="1.0"/>
<text x="448.80" y="546.70" font-size="6.4" text-anchor="end" textLength="6.6" lengthAdjust="spacingAndGlyphs">30</text>
<line x1="468.20" y1="613.00" x2="468.20" y2="615.60" stroke="#2e2e2e" stroke-width="1.0"/>
<line x1="488.10" y1="613.00" x2="488.10" y2="615.60" stroke="#2e2e2e" stroke-width="1.0"/>
<circle cx="468.20" cy="602.71" r="1.0" fill="#4a9a58"/>
<circle cx="466.00" cy="603.85" r="1.0" fill="#4a9a58"/>
<circle cx="470.40" cy="605.00" r="1.0" fill="#4a9a58"/>
<circle cx="467.20" cy="605.68" r="1.0" fill="#4a9a58"/>
<circle cx="469.20" cy="606.14" r="1.0" fill="#4a9a58"/>
<line x1="468.20" y1="605.91" x2="468.20" y2="603.85" stroke="#1e1e1e" stroke-width="1.0"/>
<line x1="465.20" y1="605.91" x2="471.20" y2="605.91" stroke="#1e1e1e" stroke-width="1.0"/>
<line x1="465.20" y1="603.85" x2="471.20" y2="603.85" stroke="#1e1e1e" stroke-width="1.0"/>
<line x1="461.95" y1="605.00" x2="474.45" y2="605.00" stroke="#1e1e1e" stroke-width="1.15"/>
<circle cx="488.10" cy="562.69" r="1.0" fill="#28506e"/>
<circle cx="485.90" cy="564.98" r="1.0" fill="#28506e"/>
<circle cx="490.30" cy="567.27" r="1.0" fill="#28506e"/>
<circle cx="487.10" cy="574.13" r="1.0" fill="#28506e"/>
<circle cx="489.10" cy="580.99" r="1.0" fill="#28506e"/>
<line x1="488.10" y1="580.99" x2="488.10" y2="562.69" stroke="#1e1e1e" stroke-width="1.0"/>
<line x1="485.10" y1="580.99" x2="491.10" y2="580.99" stroke="#1e1e1e" stroke-width="1.0"/>
<line x1="485.10" y1="562.69" x2="491.10" y2="562.69" stroke="#1e1e1e" stroke-width="1.0"/>
<line x1="481.85" y1="567.95" x2="494.35" y2="567.95" stroke="#1e1e1e" stroke-width="1.15"/>
<text x="468.20" y="624.50" font-size="6.7" text-anchor="middle">HC</text>
<text x="488.10" y="624.50" font-size="6.7" text-anchor="middle">Tumor</text>
<text x="443.90" y="535.50" font-size="8.7" textLength="69.5" lengthAdjust="spacingAndGlyphs">mCD4+ HLA-DR+</text>
<text x="436.60" y="577.20" font-size="8.4" text-anchor="middle" transform="rotate(-90 436.60 577.20)" textLength="80" lengthAdjust="spacingAndGlyphs">% of mCD4 (Periph. Blood)</text>
<g transform="translate(18.20 553.80) scale(1.06)"><path d="M2.9,12 C3.8,9.5 5.5,7.6 7.5,7 C9,6 11.5,5.2 14,5.6 C17.5,6.2 20.5,9 21.4,13 C21.9,15.5 21.8,18 21.6,20.2 L9.6,20.2 C9,19.4 8.6,17.6 8.3,16.5 C7.5,16.4 6.7,16.2 6.2,15.9 C6,15 5.9,14.2 5.8,13.6 C4.6,13.3 3.4,12.9 2.9,12Z" fill="#fff" stroke="#fff" stroke-width="1.4"/><circle cx="10.8" cy="5.0" r="2.2" fill="#fff" stroke="#fff" stroke-width="1.4"/><path d="M2.9,12 C3.8,9.5 5.5,7.6 7.5,7 C9,6 11.5,5.2 14,5.6 C17.5,6.2 20.5,9 21.4,13 C21.9,15.5 21.8,18 21.6,20.2 L9.6,20.2 C9,19.4 8.6,17.6 8.3,16.5 C7.5,16.4 6.7,16.2 6.2,15.9 C6,15 5.9,14.2 5.8,13.6 C4.6,13.3 3.4,12.9 2.9,12Z" fill="#2d6a4f"/><circle cx="10.8" cy="5.0" r="2.25" fill="#2d6a4f"/><circle cx="6.3" cy="9.9" r="0.55" fill="#fff" opacity="0.85"/><path d="M11.5 15.4 L10.1 17.6" stroke="#fff" stroke-width="0.6" opacity="0.8"/><path d="M5.3 21.2 C9 20.8 16 21.2 21.6 20.6" fill="none" stroke="#e4eaee" stroke-width="0.9"/></g>
<g transform="translate(4.20 558.60) scale(1.12)"><path d="M2.9,12 C3.8,9.5 5.5,7.6 7.5,7 C9,6 11.5,5.2 14,5.6 C17.5,6.2 20.5,9 21.4,13 C21.9,15.5 21.8,18 21.6,20.2 L9.6,20.2 C9,19.4 8.6,17.6 8.3,16.5 C7.5,16.4 6.7,16.2 6.2,15.9 C6,15 5.9,14.2 5.8,13.6 C4.6,13.3 3.4,12.9 2.9,12Z" fill="#fff" stroke="#fff" stroke-width="1.4"/><circle cx="10.8" cy="5.0" r="2.2" fill="#fff" stroke="#fff" stroke-width="1.4"/><path d="M2.9,12 C3.8,9.5 5.5,7.6 7.5,7 C9,6 11.5,5.2 14,5.6 C17.5,6.2 20.5,9 21.4,13 C21.9,15.5 21.8,18 21.6,20.2 L9.6,20.2 C9,19.4 8.6,17.6 8.3,16.5 C7.5,16.4 6.7,16.2 6.2,15.9 C6,15 5.9,14.2 5.8,13.6 C4.6,13.3 3.4,12.9 2.9,12Z" fill="#2d6a4f"/><circle cx="10.8" cy="5.0" r="2.25" fill="#2d6a4f"/><circle cx="6.3" cy="9.9" r="0.55" fill="#fff" opacity="0.85"/><path d="M11.5 15.4 L10.1 17.6" stroke="#fff" stroke-width="0.6" opacity="0.8"/><path d="M5.3 21.2 C9 20.8 16 21.2 21.6 20.6" fill="none" stroke="#e4eaee" stroke-width="0.9"/></g>
<g transform="translate(15.20 572.20) scale(1.06)"><path d="M2.9,12 C3.8,9.5 5.5,7.6 7.5,7 C9,6 11.5,5.2 14,5.6 C17.5,6.2 20.5,9 21.4,13 C21.9,15.5 21.8,18 21.6,20.2 L9.6,20.2 C9,19.4 8.6,17.6 8.3,16.5 C7.5,16.4 6.7,16.2 6.2,15.9 C6,15 5.9,14.2 5.8,13.6 C4.6,13.3 3.4,12.9 2.9,12Z" fill="#fff" stroke="#fff" stroke-width="1.4"/><circle cx="10.8" cy="5.0" r="2.2" fill="#fff" stroke="#fff" stroke-width="1.4"/><path d="M2.9,12 C3.8,9.5 5.5,7.6 7.5,7 C9,6 11.5,5.2 14,5.6 C17.5,6.2 20.5,9 21.4,13 C21.9,15.5 21.8,18 21.6,20.2 L9.6,20.2 C9,19.4 8.6,17.6 8.3,16.5 C7.5,16.4 6.7,16.2 6.2,15.9 C6,15 5.9,14.2 5.8,13.6 C4.6,13.3 3.4,12.9 2.9,12Z" fill="#2d6a4f"/><circle cx="10.8" cy="5.0" r="2.25" fill="#2d6a4f"/><circle cx="6.3" cy="9.9" r="0.55" fill="#fff" opacity="0.85"/><path d="M11.5 15.4 L10.1 17.6" stroke="#fff" stroke-width="0.6" opacity="0.8"/><path d="M5.3 21.2 C9 20.8 16 21.2 21.6 20.6" fill="none" stroke="#e4eaee" stroke-width="0.9"/></g>
<g transform="translate(55.60 551.60) scale(1.0)"><path d="M2.9,12 C3.8,9.5 5.5,7.6 7.5,7 C9,6 11.5,5.2 14,5.6 C17.5,6.2 20.5,9 21.4,13 C21.9,15.5 21.8,18 21.6,20.2 L9.6,20.2 C9,19.4 8.6,17.6 8.3,16.5 C7.5,16.4 6.7,16.2 6.2,15.9 C6,15 5.9,14.2 5.8,13.6 C4.6,13.3 3.4,12.9 2.9,12Z" fill="#fff" stroke="#fff" stroke-width="1.4"/><circle cx="10.8" cy="5.0" r="2.2" fill="#fff" stroke="#fff" stroke-width="1.4"/><path d="M2.9,12 C3.8,9.5 5.5,7.6 7.5,7 C9,6 11.5,5.2 14,5.6 C17.5,6.2 20.5,9 21.4,13 C21.9,15.5 21.8,18 21.6,20.2 L9.6,20.2 C9,19.4 8.6,17.6 8.3,16.5 C7.5,16.4 6.7,16.2 6.2,15.9 C6,15 5.9,14.2 5.8,13.6 C4.6,13.3 3.4,12.9 2.9,12Z" fill="#2f3088"/><circle cx="10.8" cy="5.0" r="2.25" fill="#2f3088"/><circle cx="6.3" cy="9.9" r="0.55" fill="#fff" opacity="0.85"/><path d="M11.5 15.4 L10.1 17.6" stroke="#fff" stroke-width="0.6" opacity="0.8"/><path d="M5.3 21.2 C9 20.8 16 21.2 21.6 20.6" fill="none" stroke="#e4eaee" stroke-width="0.9"/></g>
<g transform="translate(55.60 574.80) scale(1.0)"><path d="M2.9,12 C3.8,9.5 5.5,7.6 7.5,7 C9,6 11.5,5.2 14,5.6 C17.5,6.2 20.5,9 21.4,13 C21.9,15.5 21.8,18 21.6,20.2 L9.6,20.2 C9,19.4 8.6,17.6 8.3,16.5 C7.5,16.4 6.7,16.2 6.2,15.9 C6,15 5.9,14.2 5.8,13.6 C4.6,13.3 3.4,12.9 2.9,12Z" fill="#fff" stroke="#fff" stroke-width="1.4"/><circle cx="10.8" cy="5.0" r="2.2" fill="#fff" stroke="#fff" stroke-width="1.4"/><path d="M2.9,12 C3.8,9.5 5.5,7.6 7.5,7 C9,6 11.5,5.2 14,5.6 C17.5,6.2 20.5,9 21.4,13 C21.9,15.5 21.8,18 21.6,20.2 L9.6,20.2 C9,19.4 8.6,17.6 8.3,16.5 C7.5,16.4 6.7,16.2 6.2,15.9 C6,15 5.9,14.2 5.8,13.6 C4.6,13.3 3.4,12.9 2.9,12Z" fill="#2d6a4f"/><circle cx="10.8" cy="5.0" r="2.25" fill="#2d6a4f"/><circle cx="6.3" cy="9.9" r="0.55" fill="#fff" opacity="0.85"/><path d="M11.5 15.4 L10.1 17.6" stroke="#fff" stroke-width="0.6" opacity="0.8"/><path d="M5.3 21.2 C9 20.8 16 21.2 21.6 20.6" fill="none" stroke="#e4eaee" stroke-width="0.9"/></g>
<polyline points="52.5,562.7 46.9,562.7 46.9,588.8 52.5,588.8" fill="none" stroke="#333" stroke-width="0.8"/>
<path d="M52 560.9 L55.2 562.7 L52 564.5Z M52 587 L55.2 588.8 L52 590.6Z" fill="#222"/>
<g transform="rotate(-44 85 557.5)"><rect x="79" y="555.8" width="10.5" height="3.4" rx="0.6" fill="#8cc8e6" stroke="#5a9cc0" stroke-width="0.5"/><line x1="74.5" y1="557.5" x2="79" y2="557.5" stroke="#7ab4d4" stroke-width="0.7"/><line x1="89.5" y1="557.5" x2="93" y2="557.5" stroke="#5a9cc0" stroke-width="0.8"/><line x1="93" y1="555.5" x2="93" y2="559.5" stroke="#5a9cc0" stroke-width="0.8"/></g>
<circle cx="45.4" cy="545" r="3.6" fill="none" stroke="#333" stroke-width="0.7"/>
<text x="45.40" y="547.20" font-size="6.0" text-anchor="middle">1</text>
<circle cx="100" cy="556.5" r="3.6" fill="none" stroke="#333" stroke-width="0.7"/>
<text x="100.00" y="558.70" font-size="6.0" text-anchor="middle">2</text>
<circle cx="96.9" cy="599.2" r="3.6" fill="none" stroke="#333" stroke-width="0.7"/>
<text x="96.90" y="601.40" font-size="6.0" text-anchor="middle">3</text>
<text x="51.50" y="543.90" font-size="6.2" textLength="32.0" lengthAdjust="spacingAndGlyphs">Injection with</text>
<text x="51.50" y="550.40" font-size="6.2" textLength="26.5" lengthAdjust="spacingAndGlyphs">lymphoma</text>
<text x="106.20" y="556.50" font-size="6.2" textLength="32.3" lengthAdjust="spacingAndGlyphs">Sacrificing on</text>
<text x="106.90" y="562.20" font-size="6.2" textLength="14.9" lengthAdjust="spacingAndGlyphs">day 38</text>
<text x="103.00" y="596.80" font-size="6.2" textLength="25.6" lengthAdjust="spacingAndGlyphs">Analysis of</text>
<text x="103.00" y="603.30" font-size="6.2" textLength="23.5" lengthAdjust="spacingAndGlyphs">harvested</text>
<text x="103.50" y="609.50" font-size="6.2" textLength="14.0" lengthAdjust="spacingAndGlyphs">tissue</text>
<line x1="100.50" y1="565.00" x2="100.50" y2="571.00" stroke="#222" stroke-width="0.75"/>
<path d="M98.9 570 L100.5 573.2 L102.1 570Z" fill="#222"/>
<line x1="80" y1="577.3" x2="111.5" y2="577.3" stroke="#222" stroke-width="0.95" stroke-dasharray="2.1 1.7"/>
<path d="M110.8 575.2 L115.6 577.3 L110.8 579.4Z" fill="#222"/>
<text x="93.80" y="585.30" font-size="6.4" textLength="10.8" lengthAdjust="spacingAndGlyphs">d38</text>
<rect x="133.00" y="574.20" width="4.70" height="5.40" fill="#e2662a"/>
<path d="M133.4 581.2 L137.4 581.2 L137.4 596 C137.4 598.6 133.4 598.6 133.4 596Z" fill="#a42a2e"/>
<path d="M145.5 586.5 C149 586 149.6 590 148.6 594 C147.8 598 148.6 603 148.9 607 C149.2 611 146 612.2 144.2 609.5 C142 606 140.6 600 140.8 594 C141 589.5 142.5 587 145.5 586.5Z" fill="#8e2125"/>
<path d="M153 592 C152 588 153 583 154.5 580 M154.5 580 L153.2 576.5 M154.5 580 L156.5 576.2 M154.5 580 L155.2 575.5" fill="none" stroke="#b8dcb8" stroke-width="0.8"/>
<path d="M152.3 586.5 C154.2 587 155 590 154.6 593 C154.3 596 153.5 597.4 152.6 597 C151.5 596.5 151 593 151.2 590 C151.4 588 151.6 586.6 152.3 586.5Z" fill="#8cc590"/>
<path d="M133 560.4 C140 560 145.6 565 145.4 573.6" fill="none" stroke="#1e1e1e" stroke-width="0.95"/>
<path d="M143.3 573 L145.3 577.5 L147.4 573Z" fill="#1e1e1e"/>
</svg></body></html>
